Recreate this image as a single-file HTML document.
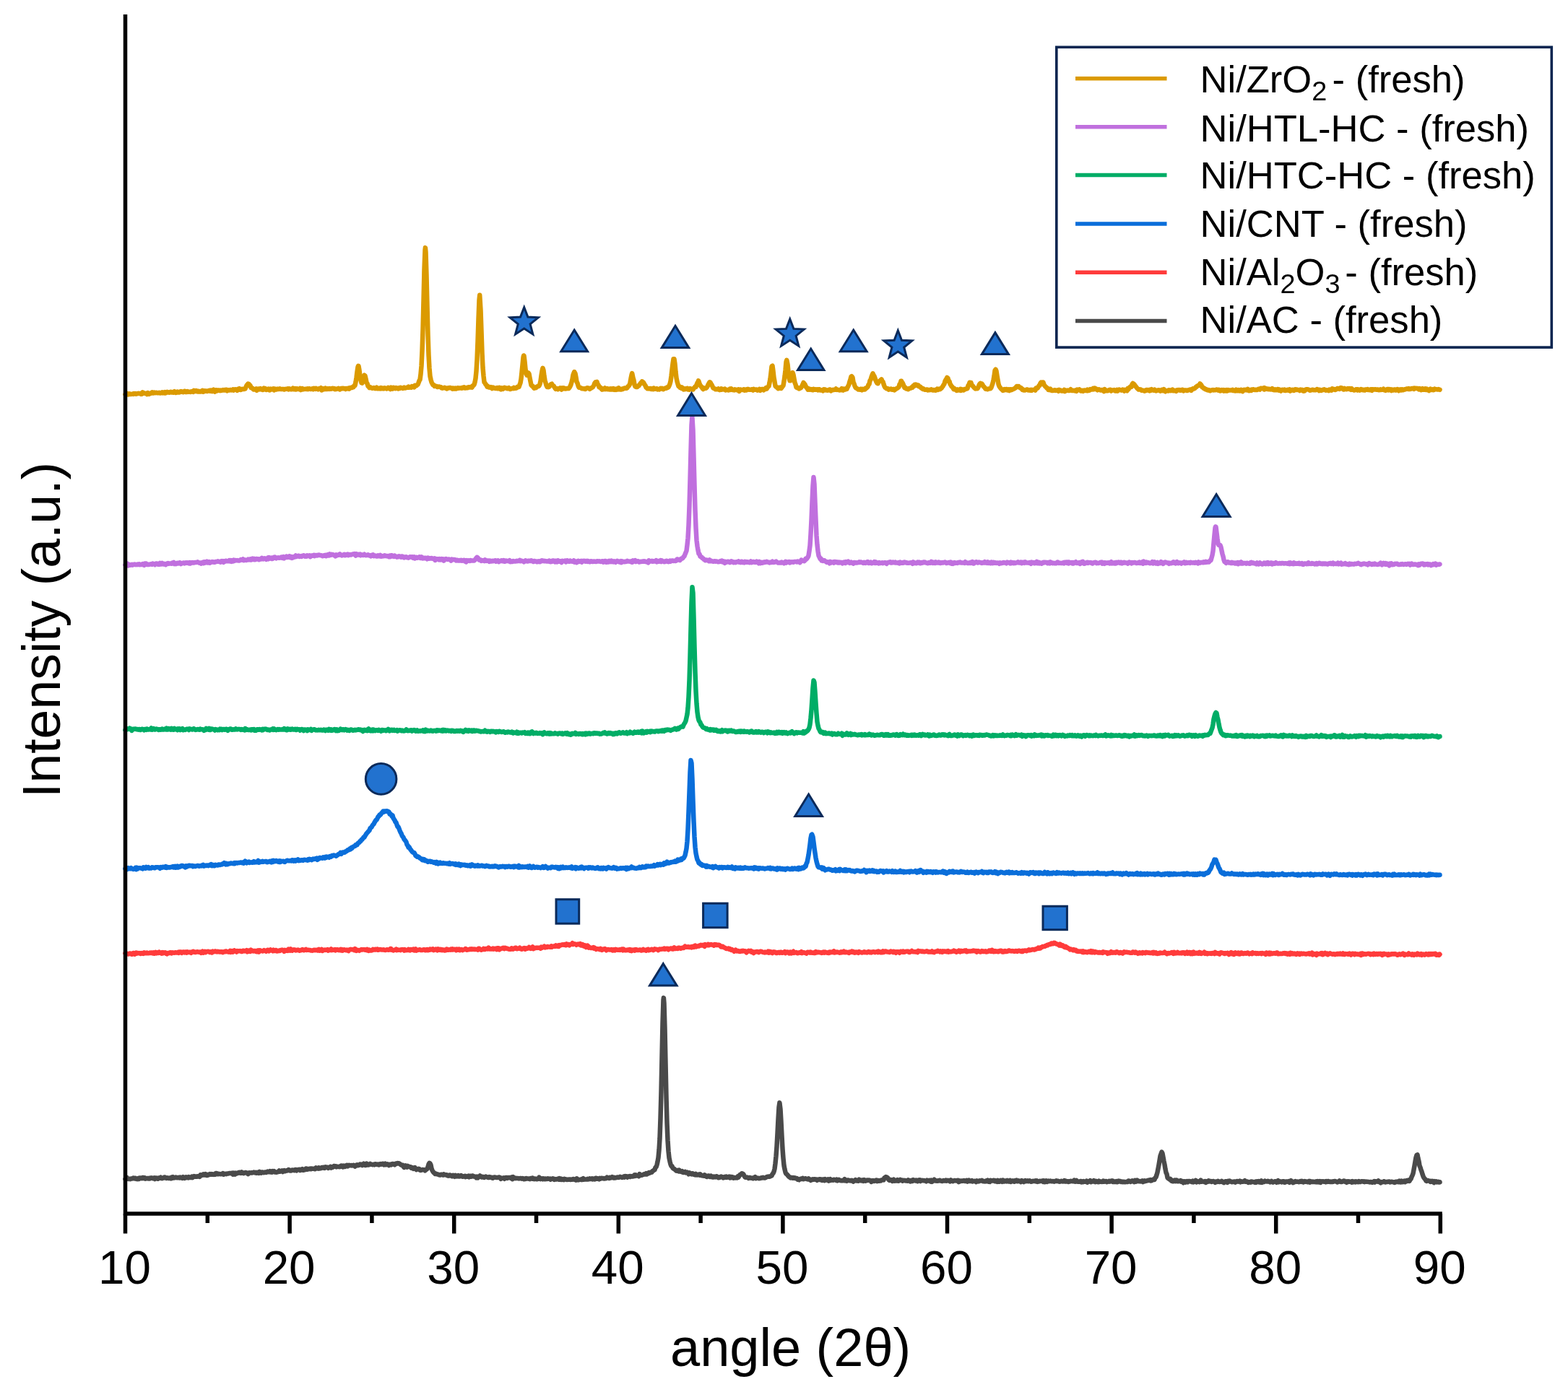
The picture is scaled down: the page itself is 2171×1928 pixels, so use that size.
<!DOCTYPE html>
<html><head><meta charset="utf-8"><title>XRD patterns</title>
<style>html,body{margin:0;padding:0;background:#fff;}svg{display:block;}</style>
</head><body>
<svg width="2171" height="1928" viewBox="0 0 2171 1928">
<rect width="2171" height="1928" fill="#ffffff"/>
<g fill="none" stroke-width="6.5" stroke-linejoin="round" stroke-linecap="round">
<path d="M173.5 546.1L174.5 546.4 175.5 546.1 176.5 545.1 177.5 546.4 178.5 546.1 179.5 545.4 180.5 546.1 181.5 545.9 182.5 545.8 183.5 545.6 184.5 545.9 185.5 545.1 186.5 545.4 187.5 545.1 188.5 545.8 189.5 545.4 190.5 545.1 191.5 544.8 192.5 545.1 193.5 545.2 194.5 545.0 195.5 545.9 196.5 545.7 197.5 543.4 198.5 543.9 199.5 544.8 200.5 544.7 201.5 545.0 202.5 545.0 203.5 546.1 204.5 544.1 205.5 544.5 206.5 545.9 207.5 545.0 208.5 545.0 209.5 544.2 210.5 543.5 211.5 544.6 212.5 544.5 213.5 543.6 214.5 543.9 215.5 544.3 216.5 543.7 217.5 544.2 218.5 544.2 219.5 544.2 220.5 543.8 221.5 544.4 222.5 544.5 223.5 544.2 224.5 543.4 225.5 544.3 226.5 543.5 227.5 544.3 228.5 543.1 229.5 544.3 230.5 543.7 231.5 542.9 232.5 543.4 233.5 543.6 234.5 543.7 235.5 542.9 236.5 542.8 237.5 543.5 238.5 543.1 239.5 543.5 240.5 543.7 241.5 542.2 242.5 543.3 243.5 543.9 244.5 542.9 245.5 542.6 246.5 543.5 247.5 543.1 248.5 543.5 249.5 542.7 250.5 542.0 251.5 542.8 252.5 542.5 253.5 543.2 254.5 542.8 255.5 541.7 256.5 541.9 257.5 543.1 258.5 543.0 259.5 542.1 260.5 542.5 261.5 542.7 262.5 542.7 263.5 542.9 264.5 542.5 265.5 542.2 266.5 542.1 267.5 542.8 268.5 540.8 269.5 542.0 270.5 542.1 271.5 541.2 272.5 542.2 273.5 541.6 274.5 542.5 275.5 541.8 276.5 542.3 277.5 542.6 278.5 542.0 279.5 541.2 280.5 540.8 281.5 542.7 282.5 541.6 283.5 541.2 284.5 541.7 285.5 541.4 286.5 542.0 287.5 541.5 288.5 541.4 289.5 540.9 290.5 541.6 291.5 540.7 292.5 541.7 293.5 542.1 294.5 540.3 295.5 539.7 296.5 541.5 297.5 542.6 298.5 540.4 299.5 540.2 300.5 541.3 301.5 540.4 302.5 540.6 303.5 540.6 304.5 541.1 305.5 540.5 306.5 540.9 307.5 540.6 308.5 540.1 309.5 540.4 310.5 540.0 311.5 540.5 312.5 539.8 313.5 539.8 314.5 541.3 315.5 540.3 316.5 540.3 317.5 540.6 318.5 540.0 319.5 540.1 320.5 540.4 321.5 540.3 322.5 539.4 323.5 540.5 324.5 539.6 325.5 539.3 326.5 539.4 327.5 539.6 328.5 540.8 329.5 539.0 330.5 539.8 331.5 538.3 332.5 539.5 333.5 540.0 334.5 539.2 335.5 538.8 336.5 539.1 337.5 539.1 338.5 538.6 339.5 538.5 340.5 536.1 341.5 534.0 342.5 532.6 343.5 531.5 343.8 531.6 344.5 531.8 345.5 533.3 346.5 534.0 347.5 537.0 348.5 537.2 349.5 537.5 350.5 539.0 351.5 539.6 352.5 539.3 353.5 539.1 354.5 538.5 355.5 540.8 356.5 539.7 357.5 538.5 358.5 538.7 359.5 539.3 360.5 538.3 361.5 539.3 362.5 538.9 363.5 540.0 364.5 539.8 365.5 537.6 366.5 539.2 367.5 538.3 368.5 539.9 369.5 539.3 370.5 539.5 371.5 538.6 372.5 540.3 373.5 540.4 374.5 538.6 375.5 539.4 376.5 538.8 377.5 539.2 378.5 538.4 379.5 540.3 380.5 538.6 381.5 539.0 382.5 539.5 383.5 538.8 384.5 539.0 385.5 538.8 386.5 539.0 387.5 538.4 388.5 538.9 389.5 539.0 390.5 538.9 391.5 539.1 392.5 538.9 393.5 539.5 394.5 538.9 395.5 539.0 396.5 538.7 397.5 538.7 398.5 538.3 399.5 539.4 400.5 538.3 401.5 538.6 402.5 539.2 403.5 539.3 404.5 538.8 405.5 537.8 406.5 539.2 407.5 539.1 408.5 538.1 409.5 539.4 410.5 538.5 411.5 538.3 412.5 539.0 413.5 538.8 414.5 539.1 415.5 538.0 416.5 540.0 417.5 538.5 418.5 538.0 419.5 539.3 420.5 538.7 421.5 539.1 422.5 538.7 423.5 538.8 424.5 539.0 425.5 538.4 426.5 539.2 427.5 538.5 428.5 538.3 429.5 538.9 430.5 539.1 431.5 538.7 432.5 538.3 433.5 539.2 434.5 537.7 435.5 538.1 436.5 538.8 437.5 537.9 438.5 538.8 439.5 538.7 440.5 539.3 441.5 538.2 442.5 538.3 443.5 538.9 444.5 537.2 445.5 540.5 446.5 538.2 447.5 538.2 448.5 539.2 449.5 538.6 450.5 537.6 451.5 539.0 452.5 539.1 453.5 538.3 454.5 538.4 455.5 538.9 456.5 538.0 457.5 538.8 458.5 538.7 459.5 538.1 460.5 537.7 461.5 538.4 462.5 538.0 463.5 539.1 464.5 538.5 465.5 538.9 466.5 538.5 467.5 538.6 468.5 537.9 469.5 538.8 470.5 539.4 471.5 538.1 472.5 537.9 473.5 538.2 474.5 538.0 475.5 537.8 476.5 538.3 477.5 538.0 478.5 539.0 479.5 538.0 480.5 538.2 481.5 538.5 482.5 537.7 483.5 538.6 484.5 537.2 485.5 537.0 486.5 537.1 487.5 537.0 488.5 535.8 489.5 536.1 490.5 534.1 491.5 534.0 492.5 529.3 493.5 523.0 494.5 514.9 495.5 508.3 496.1 506.9 496.5 507.0 497.5 512.9 498.5 520.9 499.5 526.6 500.5 530.4 501.5 530.6 502.5 527.5 503.5 524.0 504.5 519.6 505.0 520.4 505.5 520.6 506.5 524.7 507.5 529.9 508.5 531.2 509.5 534.9 510.5 535.3 511.5 537.0 512.5 536.2 513.5 536.9 514.5 537.4 515.5 537.8 516.5 537.6 517.5 537.1 518.5 537.3 519.5 538.2 520.5 537.7 521.5 536.7 522.5 538.3 523.5 538.0 524.5 538.3 525.5 537.6 526.5 538.3 527.5 537.2 528.5 538.1 529.5 537.5 530.5 538.2 531.5 538.4 532.5 537.3 533.5 537.7 534.5 537.8 535.5 538.5 536.5 538.2 537.5 537.0 538.5 538.0 539.5 538.2 540.5 539.0 541.5 536.7 542.5 537.3 543.5 538.5 544.5 536.8 545.5 536.9 546.5 537.9 547.5 538.2 548.5 537.1 549.5 537.8 550.5 537.6 551.5 538.4 552.5 537.4 553.5 538.0 554.5 536.8 555.5 537.2 556.5 537.2 557.5 537.9 558.5 537.5 559.5 536.7 560.5 537.5 561.5 537.5 562.5 536.9 563.5 536.7 564.5 536.7 565.5 535.7 566.5 536.7 567.5 536.6 568.5 535.8 569.5 536.6 570.5 535.1 571.5 535.4 572.5 535.2 573.5 536.3 574.5 533.8 575.5 534.6 576.5 534.2 577.5 533.2 578.5 532.7 579.5 530.1 580.5 527.3 581.5 525.7 582.5 518.2 583.5 507.0 584.5 486.2 585.5 456.5 586.5 415.9 587.5 372.9 588.5 346.3 588.9 343.1 589.5 349.1 590.5 381.3 591.5 423.8 592.5 463.3 593.5 492.0 594.5 510.0 595.5 521.2 596.5 525.8 597.5 529.4 598.5 531.3 599.5 533.1 600.5 532.9 601.5 534.9 602.5 534.6 603.5 534.8 604.5 534.9 605.5 536.0 606.5 535.9 607.5 535.4 608.5 535.6 609.5 536.1 610.5 536.2 611.5 537.4 612.5 537.7 613.5 537.4 614.5 537.2 615.5 536.8 616.5 537.2 617.5 537.7 618.5 538.5 619.5 537.9 620.5 537.2 621.5 537.4 622.5 537.1 623.5 537.0 624.5 537.4 625.5 537.6 626.5 538.6 627.5 537.6 628.5 538.4 629.5 538.6 630.5 537.6 631.5 538.5 632.5 538.0 633.5 537.3 634.5 537.7 635.5 537.5 636.5 537.4 637.5 537.4 638.5 537.6 639.5 537.7 640.5 536.9 641.5 537.3 642.5 536.4 643.5 537.4 644.5 537.5 645.5 537.1 646.5 537.1 647.5 537.2 648.5 536.2 649.5 536.3 650.5 536.5 651.5 536.5 652.5 535.7 653.5 536.6 654.5 534.3 655.5 534.1 656.5 532.8 657.5 529.5 658.5 524.1 659.5 514.1 660.5 497.9 661.5 472.8 662.5 441.5 663.5 415.7 664.2 408.8 665.5 429.9 666.5 458.8 667.5 488.7 668.5 509.1 669.5 520.6 670.5 529.3 671.5 530.5 672.5 532.4 673.5 533.4 674.5 535.6 675.5 534.9 676.5 536.3 677.5 536.6 678.5 536.7 679.5 536.0 680.5 536.6 681.5 538.1 682.5 536.5 683.5 536.9 684.5 537.4 685.5 538.0 686.5 537.8 687.5 538.1 688.5 537.1 689.5 538.3 690.5 538.2 691.5 536.9 692.5 538.8 693.5 539.3 694.5 537.5 695.5 538.0 696.5 538.8 697.5 537.1 698.5 536.8 699.5 537.2 700.5 537.6 701.5 537.6 702.5 538.3 703.5 538.1 704.5 537.2 705.5 538.3 706.5 539.0 707.5 538.6 708.5 538.4 709.5 537.7 710.5 538.2 711.5 537.0 712.5 537.9 713.5 537.2 714.5 537.7 715.5 537.1 716.5 535.8 717.5 536.0 718.5 535.9 719.5 533.0 720.5 530.4 721.5 524.8 722.5 515.4 723.5 505.2 724.5 495.1 725.1 492.5 725.5 492.9 726.5 500.8 727.5 511.0 728.5 517.0 729.5 519.7 730.5 518.0 731.5 516.5 732.5 517.9 733.5 523.4 734.5 528.4 735.5 533.3 736.5 534.6 737.5 534.5 738.5 536.5 739.5 537.7 740.5 537.1 741.5 537.3 742.5 536.8 743.5 535.4 744.5 535.2 745.5 535.0 746.5 534.3 747.5 532.0 748.5 527.6 749.5 520.3 750.5 514.0 751.5 509.8 752.5 513.0 753.5 521.1 754.5 526.8 755.5 530.3 756.5 533.9 757.5 535.9 758.5 534.5 759.5 536.1 760.5 535.6 761.5 533.9 762.5 532.4 763.5 531.9 764.0 531.7 764.5 533.0 765.5 533.8 766.5 534.3 767.5 536.0 768.5 537.7 769.5 538.9 770.5 538.2 771.5 538.3 772.5 539.3 773.5 538.2 774.5 538.1 775.5 537.4 776.5 538.0 777.5 539.6 778.5 537.4 779.5 538.3 780.5 537.4 781.5 538.2 782.5 538.6 783.5 537.9 784.5 538.3 785.5 538.1 786.5 537.7 787.5 538.1 788.5 536.8 789.5 534.9 790.5 532.6 791.5 529.1 792.5 525.2 793.5 519.3 794.5 516.7 795.2 515.1 796.5 517.4 797.5 522.6 798.5 528.9 799.5 530.7 800.5 534.2 801.5 536.6 802.5 536.3 803.5 537.1 804.5 537.5 805.5 538.3 806.5 538.1 807.5 538.4 808.5 538.6 809.5 538.3 810.5 539.0 811.5 538.0 812.5 537.5 813.5 537.3 814.5 537.4 815.5 538.0 816.5 538.9 817.5 538.2 818.5 537.5 819.5 536.8 820.5 536.3 821.5 535.1 822.5 533.2 823.5 530.5 824.5 529.3 825.3 529.6 826.5 528.9 827.5 532.2 828.5 533.1 829.5 536.1 830.5 536.7 831.5 536.6 832.5 538.2 833.5 539.5 834.5 538.6 835.5 539.3 836.5 538.7 837.5 537.5 838.5 539.1 839.5 538.6 840.5 538.0 841.5 539.3 842.5 539.1 843.5 538.6 844.5 539.4 845.5 538.4 846.5 539.3 847.5 538.4 848.5 539.3 849.5 538.3 850.5 539.8 851.5 539.1 852.5 539.8 853.5 538.4 854.5 538.6 855.5 539.4 856.5 537.3 857.5 538.2 858.5 539.5 859.5 539.1 860.5 539.4 861.5 538.6 862.5 539.0 863.5 538.2 864.5 537.7 865.5 537.4 866.5 537.9 867.5 537.7 868.5 537.3 869.5 535.0 870.5 534.7 871.5 533.2 872.5 529.9 873.5 524.2 874.5 519.3 875.2 517.1 876.5 523.5 877.5 526.8 878.5 532.8 879.5 535.4 880.5 535.9 881.5 535.8 882.5 536.0 883.5 534.5 884.5 534.3 885.5 532.7 886.5 531.4 887.5 530.1 888.5 529.7 889.0 528.3 889.5 529.3 890.5 529.2 891.5 530.8 892.5 532.7 893.5 534.0 894.5 536.5 895.5 537.4 896.5 538.3 897.5 537.9 898.5 538.4 899.5 538.1 900.5 537.9 901.5 538.9 902.5 538.9 903.5 538.1 904.5 539.1 905.5 537.8 906.5 538.7 907.5 538.5 908.5 538.5 909.5 538.2 910.5 539.4 911.5 539.2 912.5 539.5 913.5 538.8 914.5 537.9 915.5 538.4 916.5 537.9 917.5 538.8 918.5 539.2 919.5 538.5 920.5 537.8 921.5 537.7 922.5 537.8 923.5 536.5 924.5 536.9 925.5 536.2 926.5 534.3 927.5 531.8 928.5 527.9 929.5 520.7 930.5 512.0 931.5 503.8 932.5 497.3 932.9 497.5 933.5 497.3 934.5 504.0 935.5 515.0 936.5 523.3 937.5 528.4 938.5 531.8 939.5 535.0 940.5 535.2 941.5 536.8 942.5 536.2 943.5 537.7 944.5 536.8 945.5 538.1 946.5 539.3 947.5 538.4 948.5 539.1 949.5 538.3 950.5 538.2 951.5 537.9 952.5 539.4 953.5 538.8 954.5 539.8 955.5 538.1 956.5 538.6 957.5 538.8 958.5 539.5 959.5 539.5 960.5 537.8 961.5 536.9 962.5 535.6 963.5 535.9 964.5 533.0 965.5 530.4 966.5 529.2 967.0 527.4 967.5 528.2 968.5 531.4 969.5 533.3 970.5 535.1 971.5 535.9 972.5 537.8 973.5 539.0 974.5 537.4 975.5 538.2 976.5 537.7 977.5 537.7 978.5 536.7 979.5 535.1 980.5 532.8 981.5 531.2 982.5 529.3 983.0 529.4 983.5 529.7 984.5 531.7 985.5 533.1 986.5 535.2 987.5 537.6 988.5 537.8 989.5 538.3 990.5 539.3 991.5 539.1 992.5 539.2 993.5 539.3 994.5 538.5 995.5 539.6 996.5 540.2 997.5 539.7 998.5 538.5 999.5 539.6 1000.5 538.9 1001.5 539.4 1002.5 539.6 1003.5 538.8 1004.5 540.4 1005.5 539.5 1006.5 540.1 1007.5 540.0 1008.5 540.4 1009.5 540.3 1010.5 538.7 1011.5 539.7 1012.5 538.4 1013.5 539.4 1014.5 540.1 1015.5 540.2 1016.5 540.4 1017.5 539.4 1018.5 539.9 1019.5 539.7 1020.5 540.4 1021.5 540.6 1022.5 539.5 1023.5 542.0 1024.5 539.7 1025.5 539.5 1026.5 540.1 1027.5 540.1 1028.5 540.0 1029.5 539.3 1030.5 540.6 1031.5 539.7 1032.5 540.6 1033.5 540.5 1034.5 538.9 1035.5 539.1 1036.5 539.1 1037.5 539.8 1038.5 539.7 1039.5 539.8 1040.5 539.2 1041.5 539.9 1042.5 540.5 1043.5 538.8 1044.5 539.5 1045.5 539.8 1046.5 539.5 1047.5 539.5 1048.5 540.6 1049.5 540.3 1050.5 540.0 1051.5 539.0 1052.5 540.8 1053.5 539.6 1054.5 539.0 1055.5 539.0 1056.5 538.9 1057.5 540.3 1058.5 539.0 1059.5 538.8 1060.5 537.2 1061.5 538.6 1062.5 536.9 1063.5 535.8 1064.5 534.8 1065.5 530.0 1066.5 524.6 1067.5 516.5 1068.5 507.5 1069.1 506.9 1069.5 506.7 1070.5 514.0 1071.5 523.0 1072.5 528.4 1073.5 534.6 1074.5 535.6 1075.5 536.2 1076.5 537.3 1077.5 538.1 1078.5 536.9 1079.5 537.7 1080.5 536.7 1081.5 537.9 1082.5 536.7 1083.5 535.2 1084.5 533.9 1085.5 528.1 1086.5 521.3 1087.5 512.5 1088.5 501.3 1089.3 498.8 1090.5 504.7 1091.5 514.3 1092.5 522.8 1093.5 527.3 1094.5 527.3 1095.5 524.0 1096.5 519.5 1097.5 516.1 1098.5 519.0 1099.5 524.5 1100.5 530.1 1101.5 532.5 1102.5 536.4 1103.5 537.1 1104.5 536.8 1105.5 538.0 1106.5 538.4 1107.5 537.9 1108.5 537.4 1109.5 536.4 1110.5 534.7 1111.5 532.4 1112.5 529.9 1113.0 530.5 1113.5 531.4 1114.5 532.3 1115.5 534.9 1116.5 536.7 1117.5 537.6 1118.5 539.5 1119.5 538.3 1120.5 539.7 1121.5 539.1 1122.5 539.0 1123.5 539.9 1124.5 539.3 1125.5 540.2 1126.5 539.0 1127.5 539.8 1128.5 539.3 1129.5 539.7 1130.5 539.6 1131.5 539.2 1132.5 540.3 1133.5 539.2 1134.5 539.3 1135.5 540.5 1136.5 540.5 1137.5 540.4 1138.5 540.2 1139.5 541.3 1140.5 539.3 1141.5 539.6 1142.5 539.4 1143.5 540.5 1144.5 540.2 1145.5 540.7 1146.5 540.6 1147.5 539.9 1148.5 539.5 1149.5 539.4 1150.5 541.3 1151.5 540.6 1152.5 540.4 1153.5 539.8 1154.5 539.9 1155.5 539.8 1156.5 539.8 1157.5 538.5 1158.5 539.9 1159.5 539.7 1160.5 540.1 1161.5 540.0 1162.5 540.4 1163.5 539.8 1164.5 540.2 1165.5 538.2 1166.5 539.0 1167.5 540.6 1168.5 538.7 1169.5 539.1 1170.5 539.5 1171.5 538.2 1172.5 538.7 1173.5 536.4 1174.5 534.5 1175.5 532.2 1176.5 528.4 1177.5 525.2 1178.5 521.7 1179.2 521.2 1180.5 523.0 1181.5 529.2 1182.5 531.5 1183.5 534.5 1184.5 536.8 1185.5 537.6 1186.5 538.0 1187.5 538.8 1188.5 539.5 1189.5 539.4 1190.5 539.7 1191.5 538.8 1192.5 538.7 1193.5 540.3 1194.5 538.9 1195.5 539.2 1196.5 539.3 1197.5 539.5 1198.5 537.5 1199.5 537.6 1200.5 536.8 1201.5 535.8 1202.5 532.9 1203.5 532.0 1204.5 527.3 1205.5 525.8 1206.5 522.4 1207.5 519.5 1208.5 517.3 1209.5 519.5 1210.5 521.0 1211.5 523.9 1212.5 526.9 1213.5 529.1 1214.5 530.8 1215.5 531.2 1216.5 528.7 1217.5 528.2 1218.5 527.5 1219.5 526.2 1220.0 526.3 1220.5 525.4 1221.5 528.2 1222.5 528.8 1223.5 532.1 1224.5 534.9 1225.5 536.8 1226.5 537.2 1227.5 538.3 1228.5 538.0 1229.5 538.5 1230.5 539.7 1231.5 539.2 1232.5 539.2 1233.5 538.5 1234.5 539.5 1235.5 539.8 1236.5 539.0 1237.5 539.1 1238.5 540.3 1239.5 539.4 1240.5 538.9 1241.5 538.0 1242.5 537.7 1243.5 536.8 1244.5 536.0 1245.5 532.4 1246.5 531.2 1247.5 527.7 1248.0 527.8 1248.5 528.8 1249.5 530.0 1250.5 532.2 1251.5 535.0 1252.5 537.1 1253.5 536.8 1254.5 538.3 1255.5 538.6 1256.5 538.5 1257.5 539.1 1258.5 538.1 1259.5 537.9 1260.5 537.7 1261.5 537.6 1262.5 536.3 1263.5 536.6 1264.5 534.3 1265.5 534.8 1266.5 532.8 1267.5 532.6 1268.5 532.7 1269.5 533.9 1270.5 533.6 1271.5 533.5 1272.5 535.4 1273.5 535.4 1274.5 535.9 1275.5 537.4 1276.5 537.8 1277.5 538.9 1278.5 538.4 1279.5 539.3 1280.5 539.7 1281.5 539.7 1282.5 539.7 1283.5 539.4 1284.5 540.4 1285.5 540.0 1286.5 540.3 1287.5 539.8 1288.5 540.0 1289.5 539.4 1290.5 540.1 1291.5 540.5 1292.5 540.0 1293.5 540.5 1294.5 540.1 1295.5 540.7 1296.5 539.7 1297.5 538.7 1298.5 539.9 1299.5 539.3 1300.5 538.6 1301.5 539.2 1302.5 538.4 1303.5 537.7 1304.5 536.2 1305.5 535.0 1306.5 533.1 1307.5 531.8 1308.5 527.9 1309.5 526.0 1310.5 524.7 1311.3 523.0 1312.5 524.0 1313.5 528.2 1314.5 528.2 1315.5 532.0 1316.5 533.3 1317.5 535.1 1318.5 535.7 1319.5 537.3 1320.5 539.0 1321.5 538.2 1322.5 539.7 1323.5 539.7 1324.5 540.9 1325.5 539.5 1326.5 540.6 1327.5 540.5 1328.5 539.8 1329.5 539.0 1330.5 540.9 1331.5 539.1 1332.5 539.6 1333.5 540.4 1334.5 540.4 1335.5 539.0 1336.5 539.2 1337.5 538.5 1338.5 538.5 1339.5 538.1 1340.5 533.9 1341.5 533.7 1342.5 529.7 1343.5 530.5 1344.5 530.2 1345.5 533.5 1346.5 534.2 1347.5 535.3 1348.5 536.7 1349.5 537.5 1350.5 538.4 1351.5 538.2 1352.5 538.3 1353.5 538.1 1354.5 536.4 1355.5 533.7 1356.5 531.7 1357.5 530.9 1358.3 531.6 1359.5 531.6 1360.5 533.0 1361.5 535.2 1362.5 535.7 1363.5 537.0 1364.5 538.7 1365.5 538.7 1366.5 538.8 1367.5 539.3 1368.5 538.7 1369.5 538.4 1370.5 538.2 1371.5 538.2 1372.5 536.7 1373.5 533.8 1374.5 530.9 1375.5 526.4 1376.5 520.9 1377.5 513.3 1378.5 511.7 1379.5 513.9 1380.5 520.4 1381.5 526.4 1382.5 532.1 1383.5 535.0 1384.5 536.5 1385.5 537.8 1386.5 539.0 1387.5 539.4 1388.5 540.9 1389.5 540.6 1390.5 539.1 1391.5 540.1 1392.5 539.2 1393.5 539.0 1394.5 540.5 1395.5 540.4 1396.5 539.5 1397.5 541.0 1398.5 539.4 1399.5 539.2 1400.5 540.1 1401.5 539.6 1402.5 539.0 1403.5 538.7 1404.5 538.3 1405.5 537.5 1406.5 536.8 1407.5 535.1 1408.5 534.9 1409.5 535.9 1410.5 535.2 1411.5 536.3 1412.5 537.4 1413.5 537.1 1414.5 538.1 1415.5 539.8 1416.5 539.4 1417.5 540.5 1418.5 540.6 1419.5 540.3 1420.5 540.0 1421.5 539.6 1422.5 539.5 1423.5 540.5 1424.5 540.5 1425.5 540.1 1426.5 540.7 1427.5 539.8 1428.5 540.8 1429.5 540.0 1430.5 539.9 1431.5 539.7 1432.5 539.4 1433.5 540.5 1434.5 537.5 1435.5 537.9 1436.5 537.6 1437.5 536.1 1438.5 534.1 1439.5 533.9 1440.5 530.9 1441.5 529.7 1442.5 530.4 1443.5 529.4 1444.5 529.7 1445.5 532.9 1446.5 534.2 1447.5 535.6 1448.5 536.1 1449.5 537.6 1450.5 537.7 1451.5 540.0 1452.5 539.9 1453.5 540.2 1454.5 538.8 1455.5 540.6 1456.5 541.1 1457.5 541.1 1458.5 540.9 1459.5 540.5 1460.5 540.3 1461.5 540.9 1462.5 540.8 1463.5 540.7 1464.5 540.4 1465.5 541.7 1466.5 540.0 1467.5 540.7 1468.5 540.4 1469.5 541.3 1470.5 541.6 1471.5 541.5 1472.5 541.2 1473.5 539.9 1474.5 542.0 1475.5 541.1 1476.5 540.7 1477.5 540.8 1478.5 540.6 1479.5 541.1 1480.5 541.0 1481.5 540.6 1482.5 539.3 1483.5 540.8 1484.5 541.1 1485.5 541.1 1486.5 540.7 1487.5 541.1 1488.5 541.4 1489.5 540.5 1490.5 541.7 1491.5 539.6 1492.5 540.1 1493.5 540.3 1494.5 539.3 1495.5 540.2 1496.5 541.5 1497.5 541.5 1498.5 540.8 1499.5 541.8 1500.5 540.9 1501.5 540.4 1502.5 540.9 1503.5 540.6 1504.5 541.1 1505.5 539.7 1506.5 541.1 1507.5 540.1 1508.5 540.7 1509.5 539.0 1510.5 539.4 1511.5 539.3 1512.5 539.4 1513.5 537.8 1514.5 539.2 1515.5 538.3 1516.0 537.7 1516.5 538.8 1517.5 538.3 1518.5 539.2 1519.5 540.3 1520.5 539.7 1521.5 539.3 1522.5 539.7 1523.5 540.5 1524.5 540.5 1525.5 540.0 1526.5 540.2 1527.5 541.0 1528.5 542.1 1529.5 539.1 1530.5 541.2 1531.5 540.6 1532.5 541.2 1533.5 541.3 1534.5 540.8 1535.5 540.2 1536.5 539.9 1537.5 539.7 1538.5 541.5 1539.5 540.7 1540.5 540.5 1541.5 540.6 1542.5 540.0 1543.5 541.0 1544.5 541.6 1545.5 541.4 1546.5 539.8 1547.5 541.5 1548.5 540.3 1549.5 539.5 1550.5 539.9 1551.5 540.1 1552.5 540.6 1553.5 540.0 1554.5 539.6 1555.5 540.3 1556.5 541.6 1557.5 539.9 1558.5 540.4 1559.5 540.0 1560.5 541.2 1561.5 538.0 1562.5 539.1 1563.5 536.8 1564.5 536.1 1565.5 535.2 1566.5 535.8 1567.5 532.3 1568.5 531.0 1569.0 532.8 1569.5 531.6 1570.5 532.6 1571.5 533.9 1572.5 535.3 1573.5 536.4 1574.5 537.7 1575.5 538.7 1576.5 539.6 1577.5 539.3 1578.5 539.5 1579.5 539.5 1580.5 540.7 1581.5 540.4 1582.5 540.8 1583.5 540.9 1584.5 541.6 1585.5 540.8 1586.5 541.1 1587.5 540.0 1588.5 540.1 1589.5 540.6 1590.5 540.0 1591.5 541.2 1592.5 540.0 1593.5 540.8 1594.5 539.3 1595.5 540.2 1596.5 540.6 1597.5 540.7 1598.5 539.8 1599.5 540.9 1600.5 541.4 1601.5 541.2 1602.5 540.5 1603.5 540.5 1604.5 540.2 1605.5 541.2 1606.5 541.7 1607.5 540.6 1608.5 539.9 1609.5 541.0 1610.5 541.3 1611.5 539.2 1612.5 541.0 1613.5 542.2 1614.5 541.4 1615.5 541.2 1616.5 541.1 1617.5 541.5 1618.5 540.3 1619.5 540.4 1620.5 541.1 1621.5 540.4 1622.5 541.0 1623.5 539.7 1624.5 541.3 1625.5 541.3 1626.5 540.9 1627.5 540.9 1628.5 541.8 1629.5 540.2 1630.5 540.2 1631.5 540.1 1632.5 540.5 1633.5 540.1 1634.5 540.8 1635.5 540.3 1636.5 539.8 1637.5 539.8 1638.5 541.4 1639.5 540.6 1640.5 540.5 1641.5 540.6 1642.5 540.5 1643.5 541.0 1644.5 540.8 1645.5 540.1 1646.5 539.9 1647.5 539.6 1648.5 539.4 1649.5 540.9 1650.5 539.2 1651.5 538.3 1652.5 538.6 1653.5 538.0 1654.5 537.9 1655.5 536.3 1656.5 536.1 1657.5 534.8 1658.5 534.2 1659.5 533.9 1660.5 533.8 1660.9 532.8 1661.5 531.4 1662.5 532.5 1663.5 533.8 1664.5 536.1 1665.5 536.4 1666.5 537.7 1667.5 537.7 1668.5 538.9 1669.5 539.5 1670.5 539.2 1671.5 540.2 1672.5 540.6 1673.5 540.0 1674.5 540.8 1675.5 541.3 1676.5 540.4 1677.5 540.4 1678.5 540.2 1679.5 540.1 1680.5 540.5 1681.5 540.2 1682.5 540.3 1683.5 540.0 1684.5 539.6 1685.5 540.0 1686.5 540.7 1687.5 539.8 1688.5 540.2 1689.5 541.5 1690.5 541.2 1691.5 540.1 1692.5 540.9 1693.5 540.2 1694.5 541.5 1695.5 540.2 1696.5 540.6 1697.5 541.4 1698.5 540.1 1699.5 541.3 1700.5 540.1 1701.5 540.7 1702.5 540.4 1703.5 540.5 1704.5 540.6 1705.5 540.5 1706.5 539.9 1707.5 541.1 1708.5 541.0 1709.5 541.3 1710.5 541.4 1711.5 539.7 1712.5 541.3 1713.5 541.3 1714.5 540.2 1715.5 541.1 1716.5 541.4 1717.5 540.2 1718.5 539.7 1719.5 540.3 1720.5 542.1 1721.5 540.6 1722.5 539.7 1723.5 540.3 1724.5 539.8 1725.5 540.2 1726.5 540.5 1727.5 538.8 1728.5 540.6 1729.5 541.2 1730.5 540.2 1731.5 540.1 1732.5 540.9 1733.5 539.4 1734.5 539.4 1735.5 539.3 1736.5 539.9 1737.5 540.1 1738.5 539.7 1739.5 540.0 1740.5 540.0 1741.5 539.6 1742.5 538.7 1743.5 538.8 1744.5 539.5 1745.5 537.9 1746.5 538.2 1747.5 537.9 1748.5 538.0 1749.5 537.4 1750.0 537.2 1750.5 539.5 1751.5 538.6 1752.5 537.8 1753.5 538.3 1754.5 538.9 1755.5 538.5 1756.5 539.3 1757.5 538.7 1758.5 539.1 1759.5 539.4 1760.5 539.3 1761.5 538.2 1762.5 539.8 1763.5 540.1 1764.5 540.3 1765.5 539.4 1766.5 540.3 1767.5 540.3 1768.5 539.1 1769.5 538.9 1770.5 540.5 1771.5 539.6 1772.5 540.8 1773.5 541.5 1774.5 539.9 1775.5 539.8 1776.5 540.2 1777.5 540.6 1778.5 539.6 1779.5 541.0 1780.5 540.8 1781.5 540.6 1782.5 539.9 1783.5 540.8 1784.5 540.8 1785.5 539.5 1786.5 541.5 1787.5 540.1 1788.5 540.5 1789.5 539.9 1790.5 540.5 1791.5 540.9 1792.5 539.7 1793.5 539.2 1794.5 540.0 1795.5 539.4 1796.5 539.8 1797.5 540.1 1798.5 540.2 1799.5 541.0 1800.5 539.6 1801.5 540.4 1802.5 539.9 1803.5 541.0 1804.5 541.7 1805.5 540.4 1806.5 541.2 1807.5 539.9 1808.5 539.2 1809.5 539.4 1810.5 539.2 1811.5 539.6 1812.5 540.0 1813.5 540.8 1814.5 540.6 1815.5 540.4 1816.5 539.9 1817.5 539.7 1818.5 540.2 1819.5 540.2 1820.5 540.3 1821.5 540.3 1822.5 540.0 1823.5 539.0 1824.5 539.4 1825.5 539.6 1826.5 541.1 1827.5 539.8 1828.5 540.5 1829.5 540.9 1830.5 540.3 1831.5 539.8 1832.5 539.9 1833.5 539.4 1834.5 540.2 1835.5 540.7 1836.5 540.3 1837.5 540.4 1838.5 540.4 1839.5 541.1 1840.5 539.5 1841.5 540.0 1842.5 540.3 1843.5 540.6 1844.5 538.3 1845.5 539.4 1846.5 539.5 1847.5 539.0 1848.5 540.0 1849.5 539.5 1850.5 539.0 1851.5 538.1 1852.5 538.1 1853.5 538.2 1854.5 538.9 1855.5 537.7 1856.5 537.0 1857.5 537.3 1858.5 537.7 1859.5 539.0 1860.5 539.5 1861.5 537.8 1862.5 538.7 1863.5 539.1 1864.5 539.2 1865.5 538.5 1866.5 538.0 1867.5 538.6 1868.5 538.0 1869.5 539.3 1870.5 539.8 1871.5 538.3 1872.5 539.5 1873.5 539.7 1874.5 540.4 1875.5 540.5 1876.5 540.2 1877.5 539.3 1878.5 539.5 1879.5 540.5 1880.5 539.4 1881.5 539.8 1882.5 540.7 1883.5 539.9 1884.5 539.0 1885.5 539.6 1886.5 540.2 1887.5 539.7 1888.5 540.5 1889.5 540.6 1890.5 539.4 1891.5 539.5 1892.5 539.8 1893.5 539.1 1894.5 540.0 1895.5 539.7 1896.5 540.3 1897.5 539.5 1898.5 539.3 1899.5 540.9 1900.5 539.3 1901.5 539.5 1902.5 539.4 1903.5 539.6 1904.5 539.2 1905.5 539.8 1906.5 539.4 1907.5 539.5 1908.5 540.0 1909.5 540.2 1910.5 540.1 1911.5 539.3 1912.5 540.0 1913.5 539.7 1914.5 539.7 1915.5 538.7 1916.5 540.2 1917.5 539.7 1918.5 540.8 1919.5 540.1 1920.5 539.1 1921.5 538.9 1922.5 540.4 1923.5 539.2 1924.5 540.1 1925.5 539.5 1926.5 541.0 1927.5 539.7 1928.5 540.6 1929.5 540.5 1930.5 539.4 1931.5 539.5 1932.5 540.5 1933.5 539.6 1934.5 539.1 1935.5 540.3 1936.5 541.2 1937.5 539.6 1938.5 540.4 1939.5 539.5 1940.5 540.4 1941.5 539.4 1942.5 540.3 1943.5 539.8 1944.5 539.3 1945.5 539.5 1946.5 538.9 1947.5 538.5 1948.5 538.4 1949.5 538.9 1950.5 538.2 1951.5 539.0 1952.5 538.9 1953.5 538.7 1954.5 538.0 1955.5 538.2 1956.5 538.1 1957.5 538.8 1958.3 537.6 1959.5 537.8 1960.5 538.0 1961.5 538.1 1962.5 537.9 1963.5 538.1 1964.5 539.2 1965.5 538.3 1966.5 539.4 1967.5 540.2 1968.5 539.8 1969.5 538.1 1970.5 539.7 1971.5 539.6 1972.5 539.7 1973.5 538.4 1974.5 539.9 1975.5 538.8 1976.5 540.2 1977.5 540.1 1978.5 541.0 1979.5 539.2 1980.5 538.6 1981.5 540.1 1982.5 540.0 1983.5 539.3 1984.5 540.3 1985.5 539.9 1986.5 538.7 1987.5 539.3 1988.5 539.2 1989.5 539.4 1990.5 539.6 1991.5 539.1 1992.5 539.4 1993.5 539.8" stroke="#DB9A00"/>
<path d="M173.5 782.5L174.5 782.0 175.5 782.1 176.5 780.8 177.5 783.4 178.5 782.9 179.5 782.0 180.5 782.7 181.5 782.3 182.5 781.8 183.5 782.7 184.5 781.9 185.5 781.8 186.5 781.5 187.5 782.2 188.5 781.9 189.5 782.2 190.5 781.5 191.5 781.9 192.5 781.3 193.5 782.3 194.5 781.9 195.5 781.9 196.5 781.9 197.5 781.1 198.5 782.1 199.5 782.8 200.5 780.6 201.5 780.5 202.5 780.6 203.5 782.0 204.5 781.5 205.5 782.1 206.5 781.8 207.5 781.5 208.5 781.5 209.5 781.2 210.5 781.8 211.5 780.5 212.5 780.9 213.5 781.3 214.5 782.2 215.5 780.6 216.5 780.4 217.5 780.7 218.5 781.6 219.5 780.8 220.5 781.7 221.5 779.8 222.5 781.6 223.5 781.5 224.5 780.0 225.5 780.9 226.5 781.5 227.5 780.8 228.5 781.3 229.5 782.1 230.5 780.8 231.5 780.4 232.5 780.1 233.5 780.9 234.5 780.4 235.5 780.4 236.5 780.4 237.5 780.8 238.5 779.7 239.5 779.4 240.5 778.9 241.5 781.0 242.5 780.3 243.5 781.1 244.5 780.2 245.5 779.7 246.5 780.4 247.5 780.0 248.5 779.3 249.5 779.5 250.5 781.1 251.5 780.2 252.5 780.2 253.5 779.7 254.5 779.5 255.5 780.4 256.5 779.7 257.5 779.3 258.5 779.7 259.5 779.2 260.5 779.8 261.5 780.3 262.5 779.1 263.5 780.4 264.5 779.2 265.5 779.6 266.5 779.0 267.5 779.3 268.5 779.5 269.5 779.1 270.5 778.9 271.5 778.9 272.5 778.8 273.5 778.3 274.5 779.1 275.5 779.5 276.5 779.7 277.5 779.5 278.5 780.6 279.5 779.3 280.5 778.8 281.5 780.1 282.5 778.4 283.5 779.5 284.5 778.4 285.5 779.1 286.5 777.7 287.5 779.4 288.5 778.7 289.5 778.2 290.5 779.7 291.5 779.1 292.5 778.6 293.5 778.1 294.5 778.5 295.5 778.3 296.5 778.8 297.5 778.8 298.5 777.9 299.5 777.9 300.5 777.8 301.5 777.3 302.5 777.6 303.5 777.9 304.5 778.3 305.5 778.6 306.5 777.2 307.5 778.0 308.5 777.3 309.5 778.8 310.5 777.4 311.5 777.7 312.5 776.8 313.5 776.8 314.5 777.3 315.5 776.9 316.5 777.3 317.5 776.1 318.5 777.3 319.5 776.3 320.5 777.8 321.5 776.6 322.5 777.3 323.5 775.8 324.5 776.8 325.5 775.9 326.5 776.1 327.5 776.3 328.5 776.1 329.5 776.4 330.5 776.6 331.5 776.5 332.5 775.9 333.5 775.1 334.5 775.4 335.5 775.7 336.5 774.5 337.5 776.1 338.5 775.5 339.5 775.4 340.5 776.0 341.5 775.8 342.5 775.5 343.5 774.7 344.5 775.4 345.5 775.3 346.5 774.5 347.5 775.6 348.5 775.2 349.5 773.7 350.5 774.9 351.5 774.0 352.5 775.3 353.5 775.1 354.5 773.9 355.5 773.9 356.5 774.5 357.5 774.2 358.5 775.2 359.5 774.6 360.5 774.0 361.5 774.4 362.5 772.8 363.5 774.1 364.5 774.4 365.5 773.7 366.5 773.3 367.5 774.0 368.5 774.8 369.5 773.7 370.5 772.8 371.5 774.3 372.5 772.2 373.5 773.6 374.5 772.8 375.5 773.7 376.5 772.6 377.5 773.8 378.5 773.1 379.5 771.8 380.5 771.6 381.5 772.5 382.5 773.4 383.5 772.7 384.5 772.6 385.5 772.3 386.5 772.8 387.5 772.6 388.5 772.4 389.5 771.6 390.5 772.8 391.5 772.9 392.5 771.2 393.5 773.3 394.5 772.3 395.5 771.5 396.5 770.6 397.5 772.1 398.5 771.9 399.5 771.2 400.5 770.4 401.5 772.1 402.5 771.0 403.5 771.0 404.5 772.9 405.5 772.4 406.5 771.6 407.5 770.7 408.5 771.3 409.5 769.5 410.5 770.9 411.5 770.3 412.5 769.9 413.5 769.7 414.5 770.9 415.5 770.6 416.5 770.6 417.5 770.9 418.5 769.9 419.5 769.6 420.5 769.2 421.5 770.1 422.5 770.7 423.5 770.1 424.5 770.6 425.5 769.4 426.5 769.8 427.5 769.6 428.5 769.3 429.5 771.1 430.5 770.5 431.5 769.5 432.5 769.4 433.5 769.8 434.5 769.0 435.5 770.1 436.5 769.0 437.5 769.5 438.5 769.1 439.5 769.4 440.5 768.8 441.5 768.6 442.5 769.0 443.5 769.1 444.5 769.3 445.5 769.5 446.5 770.3 447.5 769.9 448.5 769.2 449.5 769.7 450.5 768.9 451.5 770.1 452.5 769.5 453.5 768.4 454.5 769.6 455.5 769.6 456.5 767.5 457.5 768.6 458.5 768.7 459.5 767.8 460.5 768.3 461.5 768.3 462.5 769.2 463.5 769.0 464.5 770.4 465.5 768.5 466.5 769.4 467.5 768.7 468.5 768.8 469.5 767.9 470.5 767.4 471.5 768.1 472.5 769.0 473.5 769.4 474.5 768.8 475.5 768.7 476.5 767.9 477.5 769.3 478.5 769.1 479.5 768.0 480.5 768.2 481.5 767.6 482.5 769.1 483.5 768.4 484.5 768.1 485.5 768.4 486.5 768.4 487.5 767.9 488.5 767.4 489.5 767.4 490.5 767.1 491.5 768.5 492.5 769.6 493.5 767.2 494.5 768.4 495.5 768.6 496.5 767.8 497.5 768.6 498.5 767.8 499.5 769.2 500.5 768.2 501.5 768.7 502.5 769.1 503.5 768.5 504.5 767.7 505.5 768.5 506.5 769.3 507.5 768.9 508.5 769.1 509.5 768.3 510.5 769.1 511.5 769.5 512.5 769.2 513.5 770.3 514.5 769.1 515.5 768.6 516.5 768.3 517.5 770.1 518.5 769.4 519.5 770.1 520.5 769.8 521.5 770.5 522.5 770.4 523.5 769.4 524.5 769.9 525.5 770.4 526.5 769.0 527.5 770.7 528.5 770.6 529.5 770.5 530.5 769.9 531.5 770.2 532.5 769.4 533.5 770.1 534.5 769.8 535.5 770.3 536.5 770.0 537.5 770.5 538.5 771.1 539.5 769.6 540.5 771.0 541.5 769.3 542.5 769.2 543.5 770.5 544.5 770.6 545.5 770.9 546.5 769.7 547.5 770.7 548.5 770.9 549.5 771.6 550.5 770.8 551.5 771.3 552.5 770.4 553.5 770.9 554.5 770.8 555.5 771.6 556.5 770.6 557.5 770.7 558.5 771.6 559.5 772.4 560.5 771.6 561.5 771.6 562.5 771.3 563.5 772.2 564.5 772.0 565.5 772.7 566.5 772.0 567.5 771.3 568.5 771.5 569.5 771.4 570.5 771.3 571.5 772.8 572.5 772.6 573.5 771.5 574.5 773.4 575.5 772.5 576.5 771.8 577.5 772.7 578.5 772.5 579.5 772.2 580.5 771.5 581.5 772.8 582.5 773.0 583.5 771.3 584.5 773.3 585.5 773.4 586.5 772.8 587.5 773.2 588.5 773.0 589.5 772.8 590.5 773.1 591.5 774.2 592.5 772.6 593.5 773.7 594.5 773.7 595.5 773.2 596.5 773.5 597.5 773.0 598.5 773.4 599.5 773.9 600.5 774.2 601.5 773.5 602.5 776.0 603.5 773.9 604.5 774.3 605.5 774.2 606.5 774.2 607.5 775.2 608.5 774.2 609.5 775.4 610.5 775.3 611.5 774.1 612.5 775.4 613.5 774.5 614.5 776.6 615.5 774.8 616.5 774.5 617.5 774.0 618.5 774.4 619.5 774.9 620.5 774.7 621.5 774.6 622.5 775.0 623.5 775.4 624.5 776.5 625.5 774.6 626.5 775.4 627.5 775.2 628.5 774.9 629.5 775.1 630.5 775.4 631.5 776.4 632.5 776.0 633.5 775.8 634.5 776.5 635.5 776.4 636.5 776.1 637.5 776.5 638.5 775.8 639.5 776.7 640.5 776.6 641.5 776.1 642.5 775.7 643.5 777.3 644.5 776.5 645.5 778.3 646.5 776.1 647.5 777.0 648.5 776.2 649.5 776.6 650.5 777.0 651.5 776.0 652.5 776.4 653.5 776.5 654.5 776.4 655.5 776.5 656.5 776.4 657.5 775.6 658.5 774.2 659.5 772.8 660.5 771.8 661.5 772.6 662.5 773.8 663.5 775.6 664.5 775.7 665.5 775.6 666.5 776.9 667.5 776.2 668.5 776.3 669.5 776.7 670.5 777.1 671.5 775.4 672.5 776.2 673.5 777.0 674.5 776.7 675.5 776.4 676.5 776.6 677.5 777.8 678.5 776.7 679.5 777.4 680.5 777.5 681.5 776.7 682.5 777.3 683.5 776.7 684.5 776.7 685.5 776.4 686.5 777.6 687.5 776.8 688.5 776.7 689.5 776.4 690.5 778.1 691.5 777.5 692.5 777.0 693.5 776.7 694.5 776.2 695.5 777.3 696.5 777.3 697.5 776.2 698.5 777.8 699.5 777.6 700.5 776.5 701.5 776.8 702.5 776.9 703.5 777.2 704.5 777.0 705.5 776.1 706.5 778.0 707.5 777.3 708.5 777.9 709.5 777.9 710.5 777.0 711.5 777.4 712.5 777.6 713.5 777.6 714.5 777.1 715.5 776.8 716.5 777.2 717.5 776.7 718.5 776.9 719.5 776.0 720.5 777.2 721.5 776.6 722.5 776.9 723.5 777.2 724.5 777.4 725.5 778.3 726.5 777.3 727.5 776.4 728.5 777.3 729.5 776.9 730.5 777.5 731.5 776.8 732.5 776.8 733.5 776.9 734.5 776.9 735.5 776.2 736.5 776.9 737.5 777.3 738.5 778.0 739.5 777.1 740.5 777.1 741.5 777.6 742.5 777.6 743.5 778.3 744.5 777.6 745.5 777.3 746.5 778.1 747.5 778.2 748.5 777.0 749.5 777.4 750.5 776.3 751.5 777.1 752.5 776.8 753.5 777.2 754.5 777.0 755.5 777.2 756.5 777.3 757.5 777.6 758.5 777.5 759.5 777.0 760.5 776.6 761.5 778.1 762.5 778.2 763.5 777.1 764.5 777.7 765.5 776.5 766.5 776.4 767.5 777.2 768.5 778.3 769.5 776.8 770.5 776.9 771.5 778.4 772.5 776.3 773.5 777.8 774.5 777.7 775.5 777.3 776.5 777.5 777.5 779.0 778.5 776.8 779.5 777.2 780.5 777.3 781.5 777.0 782.5 776.6 783.5 778.4 784.5 777.6 785.5 776.4 786.5 777.0 787.5 777.7 788.5 777.7 789.5 776.6 790.5 777.4 791.5 777.6 792.5 777.7 793.5 777.7 794.5 776.4 795.5 778.6 796.5 777.6 797.5 778.6 798.5 779.2 799.5 777.4 800.5 776.8 801.5 778.0 802.5 777.4 803.5 777.3 804.5 776.9 805.5 778.6 806.5 777.3 807.5 776.7 808.5 777.3 809.5 776.9 810.5 777.7 811.5 777.3 812.5 776.9 813.5 777.9 814.5 777.2 815.5 778.0 816.5 778.3 817.5 777.4 818.5 777.2 819.5 777.7 820.5 778.1 821.5 777.6 822.5 777.7 823.5 777.6 824.5 777.8 825.5 778.0 826.5 777.2 827.5 777.3 828.5 777.6 829.5 777.2 830.5 777.7 831.5 778.0 832.5 777.6 833.5 777.3 834.5 777.2 835.5 778.7 836.5 778.2 837.5 777.0 838.5 777.1 839.5 778.8 840.5 778.6 841.5 777.7 842.5 778.4 843.5 776.8 844.5 777.7 845.5 778.1 846.5 776.6 847.5 777.2 848.5 778.2 849.5 778.4 850.5 777.3 851.5 777.9 852.5 778.7 853.5 777.5 854.5 776.9 855.5 777.7 856.5 777.5 857.5 778.5 858.5 777.8 859.5 777.2 860.5 779.2 861.5 777.4 862.5 778.0 863.5 778.1 864.5 778.2 865.5 777.8 866.5 778.1 867.5 777.7 868.5 776.9 869.5 777.6 870.5 777.6 871.5 777.6 872.5 777.8 873.5 777.4 874.5 778.5 875.5 778.7 876.5 776.4 877.5 777.7 878.5 777.3 879.5 776.2 880.5 778.0 881.5 777.4 882.5 777.5 883.5 777.3 884.5 778.4 885.5 778.5 886.5 777.9 887.5 778.1 888.5 777.7 889.5 777.8 890.5 777.3 891.5 777.7 892.5 777.3 893.5 777.9 894.5 778.2 895.5 777.9 896.5 778.4 897.5 779.3 898.5 776.4 899.5 777.7 900.5 777.3 901.5 777.4 902.5 776.9 903.5 777.7 904.5 777.5 905.5 777.3 906.5 777.5 907.5 777.3 908.5 776.2 909.5 778.3 910.5 777.4 911.5 777.0 912.5 777.7 913.5 777.1 914.5 776.2 915.5 778.0 916.5 776.5 917.5 777.3 918.5 777.5 919.5 778.2 920.5 778.1 921.5 777.4 922.5 776.8 923.5 777.0 924.5 777.9 925.5 778.2 926.5 777.4 927.5 776.7 928.5 777.6 929.5 776.7 930.5 776.6 931.5 776.6 932.5 777.0 933.5 776.7 934.5 777.0 935.5 777.0 936.5 776.4 937.5 774.4 938.5 774.6 939.5 775.4 940.5 775.0 941.5 776.0 942.5 774.2 943.5 773.6 944.5 773.6 945.5 772.9 946.5 771.2 947.5 770.3 948.5 767.7 949.5 765.4 950.5 762.9 951.5 754.9 952.5 745.3 953.5 727.4 954.5 700.8 955.5 665.4 956.5 625.0 957.5 589.0 958.4 577.4 959.5 595.6 960.5 633.2 961.5 671.9 962.5 706.0 963.5 731.0 964.5 748.3 965.5 756.5 966.5 762.3 967.5 767.0 968.5 767.6 969.5 770.7 970.5 771.4 971.5 771.7 972.5 773.1 973.5 773.4 974.5 774.6 975.5 775.2 976.5 776.2 977.5 775.6 978.5 776.0 979.5 775.8 980.5 776.3 981.5 777.1 982.5 775.5 983.5 777.2 984.5 776.6 985.5 777.1 986.5 777.4 987.5 777.8 988.5 777.5 989.5 777.2 990.5 777.7 991.5 777.6 992.5 777.5 993.5 777.8 994.5 778.3 995.5 777.9 996.5 777.9 997.5 777.1 998.5 777.8 999.5 776.8 1000.5 778.4 1001.5 777.4 1002.5 778.8 1003.5 779.9 1004.5 777.9 1005.5 778.9 1006.5 778.4 1007.5 777.8 1008.5 777.7 1009.5 778.6 1010.5 779.1 1011.5 778.5 1012.5 777.4 1013.5 777.7 1014.5 778.2 1015.5 779.1 1016.5 778.5 1017.5 778.6 1018.5 779.1 1019.5 778.3 1020.5 778.3 1021.5 778.3 1022.5 777.4 1023.5 778.7 1024.5 778.7 1025.5 779.1 1026.5 777.8 1027.5 778.0 1028.5 779.1 1029.5 778.7 1030.5 779.3 1031.5 778.0 1032.5 778.7 1033.5 778.1 1034.5 778.7 1035.5 778.3 1036.5 778.9 1037.5 779.2 1038.5 779.0 1039.5 777.5 1040.5 779.2 1041.5 778.9 1042.5 778.0 1043.5 778.1 1044.5 778.7 1045.5 779.0 1046.5 778.4 1047.5 777.7 1048.5 778.8 1049.5 778.8 1050.5 780.2 1051.5 777.9 1052.5 780.2 1053.5 779.8 1054.5 778.9 1055.5 779.7 1056.5 778.8 1057.5 779.3 1058.5 778.3 1059.5 778.8 1060.5 778.1 1061.5 777.8 1062.5 778.6 1063.5 778.4 1064.5 779.1 1065.5 779.5 1066.5 778.7 1067.5 778.8 1068.5 778.9 1069.5 777.8 1070.5 778.9 1071.5 778.8 1072.5 778.7 1073.5 778.1 1074.5 777.6 1075.5 778.6 1076.5 779.0 1077.5 779.6 1078.5 779.4 1079.5 779.6 1080.5 779.0 1081.5 779.5 1082.5 778.6 1083.5 779.1 1084.5 779.3 1085.5 780.3 1086.5 778.9 1087.5 778.0 1088.5 779.5 1089.5 778.2 1090.5 778.6 1091.5 778.5 1092.5 778.1 1093.5 779.4 1094.5 779.0 1095.5 778.2 1096.5 778.6 1097.5 778.2 1098.5 778.8 1099.5 778.2 1100.5 777.9 1101.5 777.9 1102.5 778.0 1103.5 778.4 1104.5 777.6 1105.5 778.0 1106.5 778.2 1107.5 779.2 1108.5 778.1 1109.5 775.6 1110.5 776.9 1111.5 776.7 1112.5 776.8 1113.5 777.2 1114.5 776.2 1115.5 773.8 1116.5 774.5 1117.5 773.3 1118.5 771.8 1119.5 769.6 1120.5 763.2 1121.5 755.8 1122.5 739.9 1123.5 720.4 1124.5 695.5 1125.5 673.1 1126.5 661.1 1127.5 670.7 1128.5 695.7 1129.5 720.0 1130.5 741.9 1131.5 754.7 1132.5 763.4 1133.5 769.6 1134.5 771.7 1135.5 774.0 1136.5 773.6 1137.5 776.3 1138.5 775.6 1139.5 776.9 1140.5 776.2 1141.5 776.2 1142.5 777.3 1143.5 777.8 1144.5 778.8 1145.5 778.2 1146.5 778.6 1147.5 778.7 1148.5 780.2 1149.5 778.0 1150.5 779.3 1151.5 778.5 1152.5 778.8 1153.5 778.4 1154.5 779.5 1155.5 778.1 1156.5 778.1 1157.5 778.8 1158.5 778.3 1159.5 779.4 1160.5 779.6 1161.5 778.6 1162.5 779.5 1163.5 778.7 1164.5 779.1 1165.5 779.1 1166.5 780.3 1167.5 779.2 1168.5 778.6 1169.5 778.6 1170.5 779.9 1171.5 778.2 1172.5 778.9 1173.5 779.0 1174.5 777.8 1175.5 779.0 1176.5 779.9 1177.5 779.4 1178.5 778.7 1179.5 779.7 1180.5 779.6 1181.5 780.5 1182.5 778.9 1183.5 779.1 1184.5 779.4 1185.5 779.3 1186.5 779.4 1187.5 779.3 1188.5 778.9 1189.5 778.4 1190.5 779.0 1191.5 778.5 1192.5 778.7 1193.5 779.0 1194.5 779.7 1195.5 779.9 1196.5 778.8 1197.5 779.6 1198.5 779.9 1199.5 779.4 1200.5 778.4 1201.5 778.1 1202.5 779.9 1203.5 779.9 1204.5 779.6 1205.5 778.8 1206.5 780.3 1207.5 780.1 1208.5 779.4 1209.5 779.3 1210.5 778.2 1211.5 779.9 1212.5 778.4 1213.5 779.8 1214.5 779.8 1215.5 779.5 1216.5 780.4 1217.5 779.2 1218.5 779.8 1219.5 779.9 1220.5 779.6 1221.5 779.2 1222.5 780.2 1223.5 779.7 1224.5 779.3 1225.5 779.3 1226.5 779.5 1227.5 780.8 1228.5 779.5 1229.5 779.3 1230.5 778.8 1231.5 778.7 1232.5 778.3 1233.5 779.6 1234.5 779.5 1235.5 778.8 1236.5 778.6 1237.5 779.2 1238.5 779.1 1239.5 778.6 1240.5 779.6 1241.5 779.5 1242.5 779.4 1243.5 779.9 1244.5 779.1 1245.5 780.3 1246.5 778.8 1247.5 779.8 1248.5 779.8 1249.5 779.3 1250.5 779.7 1251.5 778.7 1252.5 778.6 1253.5 779.3 1254.5 779.0 1255.5 779.8 1256.5 779.5 1257.5 779.8 1258.5 779.7 1259.5 779.6 1260.5 779.5 1261.5 779.2 1262.5 779.2 1263.5 780.7 1264.5 778.4 1265.5 779.4 1266.5 780.1 1267.5 779.7 1268.5 780.3 1269.5 779.8 1270.5 778.7 1271.5 779.3 1272.5 778.6 1273.5 780.1 1274.5 780.3 1275.5 779.2 1276.5 779.8 1277.5 779.2 1278.5 778.6 1279.5 779.2 1280.5 778.5 1281.5 779.1 1282.5 779.6 1283.5 779.9 1284.5 780.2 1285.5 779.3 1286.5 779.6 1287.5 779.7 1288.5 779.8 1289.5 777.8 1290.5 779.0 1291.5 779.9 1292.5 778.8 1293.5 779.6 1294.5 780.0 1295.5 778.3 1296.5 779.4 1297.5 779.6 1298.5 779.5 1299.5 778.6 1300.5 779.7 1301.5 779.1 1302.5 780.0 1303.5 779.7 1304.5 779.1 1305.5 779.6 1306.5 779.1 1307.5 779.0 1308.5 778.5 1309.5 779.3 1310.5 780.0 1311.5 779.5 1312.5 779.5 1313.5 779.1 1314.5 779.1 1315.5 779.9 1316.5 778.6 1317.5 780.7 1318.5 779.4 1319.5 780.8 1320.5 780.2 1321.5 779.2 1322.5 779.9 1323.5 779.6 1324.5 779.7 1325.5 779.9 1326.5 779.1 1327.5 779.1 1328.5 779.2 1329.5 778.6 1330.5 779.3 1331.5 779.6 1332.5 779.6 1333.5 779.6 1334.5 779.2 1335.5 779.9 1336.5 778.2 1337.5 779.2 1338.5 779.2 1339.5 780.0 1340.5 779.8 1341.5 779.9 1342.5 779.4 1343.5 780.0 1344.5 778.8 1345.5 779.5 1346.5 778.2 1347.5 780.5 1348.5 780.4 1349.5 779.1 1350.5 778.9 1351.5 778.2 1352.5 778.5 1353.5 779.5 1354.5 779.3 1355.5 778.5 1356.5 779.1 1357.5 779.0 1358.5 779.7 1359.5 779.9 1360.5 779.3 1361.5 779.5 1362.5 779.4 1363.5 778.2 1364.5 779.5 1365.5 779.4 1366.5 779.9 1367.5 778.3 1368.5 779.9 1369.5 779.1 1370.5 779.6 1371.5 780.2 1372.5 778.6 1373.5 778.7 1374.5 780.0 1375.5 778.8 1376.5 778.9 1377.5 779.8 1378.5 779.3 1379.5 779.9 1380.5 779.6 1381.5 779.4 1382.5 780.0 1383.5 780.8 1384.5 779.4 1385.5 780.3 1386.5 780.1 1387.5 779.5 1388.5 779.7 1389.5 778.9 1390.5 779.1 1391.5 779.6 1392.5 779.4 1393.5 780.2 1394.5 778.7 1395.5 779.3 1396.5 779.1 1397.5 779.4 1398.5 780.2 1399.5 778.7 1400.5 780.0 1401.5 779.1 1402.5 779.3 1403.5 780.1 1404.5 779.3 1405.5 779.9 1406.5 779.5 1407.5 779.4 1408.5 779.2 1409.5 778.4 1410.5 779.0 1411.5 779.6 1412.5 779.6 1413.5 778.6 1414.5 780.1 1415.5 779.8 1416.5 778.7 1417.5 778.8 1418.5 779.8 1419.5 778.4 1420.5 779.0 1421.5 779.4 1422.5 779.4 1423.5 779.4 1424.5 779.7 1425.5 779.0 1426.5 779.2 1427.5 780.7 1428.5 778.6 1429.5 779.2 1430.5 779.5 1431.5 779.1 1432.5 780.2 1433.5 779.5 1434.5 779.9 1435.5 777.9 1436.5 780.2 1437.5 780.2 1438.5 779.0 1439.5 780.3 1440.5 779.6 1441.5 780.0 1442.5 780.6 1443.5 779.5 1444.5 778.9 1445.5 779.5 1446.5 778.7 1447.5 779.0 1448.5 779.0 1449.5 779.1 1450.5 780.2 1451.5 780.0 1452.5 779.0 1453.5 780.2 1454.5 778.5 1455.5 779.1 1456.5 779.4 1457.5 780.2 1458.5 779.9 1459.5 779.8 1460.5 780.3 1461.5 779.9 1462.5 780.3 1463.5 779.0 1464.5 778.5 1465.5 779.3 1466.5 780.0 1467.5 779.7 1468.5 780.0 1469.5 779.9 1470.5 779.8 1471.5 780.0 1472.5 779.1 1473.5 780.2 1474.5 778.9 1475.5 779.4 1476.5 778.7 1477.5 779.8 1478.5 778.6 1479.5 780.4 1480.5 778.7 1481.5 779.7 1482.5 779.4 1483.5 779.0 1484.5 780.3 1485.5 779.3 1486.5 780.4 1487.5 778.9 1488.5 779.0 1489.5 778.3 1490.5 779.9 1491.5 780.1 1492.5 779.7 1493.5 779.4 1494.5 779.0 1495.5 780.9 1496.5 780.0 1497.5 778.4 1498.5 779.3 1499.5 778.0 1500.5 780.5 1501.5 780.7 1502.5 780.4 1503.5 779.5 1504.5 779.2 1505.5 778.7 1506.5 779.8 1507.5 779.1 1508.5 779.3 1509.5 779.1 1510.5 779.3 1511.5 780.1 1512.5 780.5 1513.5 779.6 1514.5 779.5 1515.5 778.9 1516.5 778.8 1517.5 778.9 1518.5 780.1 1519.5 779.7 1520.5 780.1 1521.5 779.8 1522.5 779.3 1523.5 778.8 1524.5 779.3 1525.5 778.7 1526.5 780.7 1527.5 779.7 1528.5 779.3 1529.5 780.7 1530.5 779.3 1531.5 779.9 1532.5 779.4 1533.5 779.7 1534.5 779.3 1535.5 779.8 1536.5 780.4 1537.5 778.8 1538.5 778.2 1539.5 780.4 1540.5 779.6 1541.5 780.1 1542.5 779.4 1543.5 780.5 1544.5 780.6 1545.5 778.8 1546.5 779.9 1547.5 779.2 1548.5 778.6 1549.5 779.4 1550.5 779.9 1551.5 778.7 1552.5 778.8 1553.5 780.3 1554.5 779.5 1555.5 779.8 1556.5 778.8 1557.5 779.1 1558.5 779.6 1559.5 779.6 1560.5 779.6 1561.5 780.5 1562.5 779.6 1563.5 778.6 1564.5 779.0 1565.5 779.5 1566.5 780.3 1567.5 779.1 1568.5 779.3 1569.5 779.5 1570.5 779.1 1571.5 779.0 1572.5 779.4 1573.5 780.1 1574.5 779.8 1575.5 779.3 1576.5 779.7 1577.5 778.7 1578.5 780.1 1579.5 779.9 1580.5 779.7 1581.5 778.5 1582.5 780.7 1583.5 777.7 1584.5 778.9 1585.5 778.9 1586.5 779.9 1587.5 778.6 1588.5 779.6 1589.5 779.4 1590.5 779.3 1591.5 780.0 1592.5 780.3 1593.5 779.7 1594.5 779.3 1595.5 778.1 1596.5 780.4 1597.5 779.3 1598.5 778.4 1599.5 779.6 1600.5 780.4 1601.5 779.4 1602.5 778.8 1603.5 780.9 1604.5 779.9 1605.5 779.7 1606.5 780.1 1607.5 778.2 1608.5 779.4 1609.5 779.4 1610.5 780.9 1611.5 779.1 1612.5 779.2 1613.5 778.6 1614.5 779.0 1615.5 779.4 1616.5 779.6 1617.5 779.4 1618.5 780.7 1619.5 779.8 1620.5 779.9 1621.5 780.3 1622.5 779.9 1623.5 779.2 1624.5 778.5 1625.5 779.7 1626.5 779.0 1627.5 780.3 1628.5 779.0 1629.5 778.1 1630.5 779.5 1631.5 780.1 1632.5 779.3 1633.5 779.6 1634.5 779.5 1635.5 780.5 1636.5 779.6 1637.5 779.4 1638.5 779.1 1639.5 778.4 1640.5 780.3 1641.5 780.1 1642.5 778.9 1643.5 779.8 1644.5 779.6 1645.5 779.2 1646.5 779.2 1647.5 779.9 1648.5 778.7 1649.5 779.1 1650.5 779.4 1651.5 779.4 1652.5 779.3 1653.5 779.5 1654.5 779.7 1655.5 778.8 1656.5 779.4 1657.5 779.0 1658.5 780.3 1659.5 778.5 1660.5 779.2 1661.5 779.7 1662.5 779.1 1663.5 779.0 1664.5 778.9 1665.5 779.3 1666.5 778.4 1667.5 779.0 1668.5 778.9 1669.5 777.9 1670.5 778.8 1671.5 778.2 1672.5 778.5 1673.5 778.6 1674.5 777.8 1675.5 776.3 1676.5 776.1 1677.5 772.7 1678.5 769.0 1679.5 763.3 1680.5 752.0 1681.5 741.1 1682.5 731.0 1683.0 729.5 1683.5 729.6 1684.5 737.8 1685.5 745.9 1686.5 752.6 1687.5 754.9 1688.5 754.9 1689.5 755.2 1690.5 757.8 1691.5 762.6 1692.5 767.3 1693.5 770.7 1694.5 775.3 1695.5 778.1 1696.5 778.5 1697.5 779.8 1698.5 779.0 1699.5 778.3 1700.5 778.5 1701.5 779.6 1702.5 779.5 1703.5 779.3 1704.5 779.9 1705.5 779.0 1706.5 779.9 1707.5 779.4 1708.5 779.7 1709.5 780.4 1710.5 779.6 1711.5 780.6 1712.5 780.6 1713.5 779.3 1714.5 781.2 1715.5 779.1 1716.5 779.8 1717.5 780.3 1718.5 778.5 1719.5 780.6 1720.5 780.6 1721.5 779.9 1722.5 780.1 1723.5 780.1 1724.5 779.9 1725.5 780.7 1726.5 779.8 1727.5 780.0 1728.5 780.3 1729.5 780.6 1730.5 780.8 1731.5 779.2 1732.5 778.9 1733.5 780.0 1734.5 780.1 1735.5 779.5 1736.5 780.3 1737.5 780.5 1738.5 780.4 1739.5 781.2 1740.5 779.5 1741.5 780.2 1742.5 781.4 1743.5 780.6 1744.5 779.5 1745.5 780.3 1746.5 780.9 1747.5 781.5 1748.5 780.6 1749.5 781.0 1750.5 779.6 1751.5 780.1 1752.5 781.0 1753.5 779.7 1754.5 780.3 1755.5 779.2 1756.5 781.2 1757.5 780.2 1758.5 780.7 1759.5 779.4 1760.5 779.5 1761.5 781.4 1762.5 780.1 1763.5 780.0 1764.5 780.7 1765.5 780.7 1766.5 779.2 1767.5 779.8 1768.5 780.4 1769.5 780.4 1770.5 780.6 1771.5 780.1 1772.5 780.2 1773.5 780.6 1774.5 780.0 1775.5 779.9 1776.5 780.1 1777.5 780.5 1778.5 780.4 1779.5 780.2 1780.5 780.3 1781.5 780.4 1782.5 780.7 1783.5 780.7 1784.5 779.7 1785.5 781.1 1786.5 779.5 1787.5 780.8 1788.5 780.1 1789.5 780.9 1790.5 781.2 1791.5 779.4 1792.5 780.9 1793.5 780.7 1794.5 780.3 1795.5 780.8 1796.5 780.3 1797.5 780.7 1798.5 779.9 1799.5 781.1 1800.5 781.0 1801.5 781.1 1802.5 780.2 1803.5 781.7 1804.5 781.8 1805.5 780.6 1806.5 780.4 1807.5 780.4 1808.5 781.1 1809.5 781.3 1810.5 780.2 1811.5 779.4 1812.5 781.0 1813.5 780.7 1814.5 780.8 1815.5 781.0 1816.5 780.0 1817.5 780.7 1818.5 780.5 1819.5 780.9 1820.5 781.5 1821.5 780.7 1822.5 780.2 1823.5 781.5 1824.5 781.2 1825.5 780.6 1826.5 779.7 1827.5 780.2 1828.5 780.9 1829.5 781.1 1830.5 780.5 1831.5 781.1 1832.5 780.4 1833.5 780.5 1834.5 781.1 1835.5 780.6 1836.5 780.9 1837.5 781.4 1838.5 781.5 1839.5 780.5 1840.5 780.7 1841.5 780.0 1842.5 780.1 1843.5 781.0 1844.5 780.6 1845.5 779.8 1846.5 781.2 1847.5 780.4 1848.5 780.7 1849.5 781.1 1850.5 781.1 1851.5 780.9 1852.5 779.7 1853.5 781.3 1854.5 780.6 1855.5 780.1 1856.5 779.6 1857.5 781.7 1858.5 781.0 1859.5 781.0 1860.5 781.3 1861.5 780.9 1862.5 780.1 1863.5 781.4 1864.5 781.6 1865.5 781.3 1866.5 781.9 1867.5 782.2 1868.5 780.5 1869.5 780.8 1870.5 781.6 1871.5 781.1 1872.5 781.2 1873.5 781.6 1874.5 781.5 1875.5 780.8 1876.5 781.1 1877.5 780.7 1878.5 781.0 1879.5 780.4 1880.5 779.9 1881.5 780.8 1882.5 780.8 1883.5 781.7 1884.5 782.1 1885.5 781.2 1886.5 781.4 1887.5 780.8 1888.5 780.6 1889.5 781.0 1890.5 781.0 1891.5 781.4 1892.5 781.3 1893.5 782.2 1894.5 781.1 1895.5 780.2 1896.5 781.3 1897.5 780.8 1898.5 781.3 1899.5 781.9 1900.5 780.9 1901.5 781.2 1902.5 781.6 1903.5 780.7 1904.5 781.4 1905.5 781.6 1906.5 781.8 1907.5 781.9 1908.5 781.6 1909.5 781.5 1910.5 780.5 1911.5 779.7 1912.5 780.7 1913.5 782.2 1914.5 781.4 1915.5 780.0 1916.5 781.1 1917.5 781.6 1918.5 780.3 1919.5 781.7 1920.5 780.7 1921.5 782.0 1922.5 781.4 1923.5 783.3 1924.5 780.6 1925.5 781.6 1926.5 780.5 1927.5 782.1 1928.5 781.5 1929.5 782.0 1930.5 781.5 1931.5 780.7 1932.5 781.1 1933.5 780.7 1934.5 780.8 1935.5 781.6 1936.5 782.1 1937.5 782.0 1938.5 781.8 1939.5 781.2 1940.5 781.8 1941.5 781.0 1942.5 781.6 1943.5 782.0 1944.5 781.4 1945.5 781.3 1946.5 781.3 1947.5 781.9 1948.5 781.4 1949.5 780.7 1950.5 781.3 1951.5 780.9 1952.5 782.5 1953.5 781.6 1954.5 780.7 1955.5 781.8 1956.5 782.0 1957.5 781.8 1958.5 781.4 1959.5 781.7 1960.5 781.8 1961.5 782.2 1962.5 781.9 1963.5 783.0 1964.5 781.5 1965.5 782.6 1966.5 781.7 1967.5 780.7 1968.5 781.0 1969.5 780.6 1970.5 780.7 1971.5 782.4 1972.5 781.3 1973.5 782.1 1974.5 781.2 1975.5 781.7 1976.5 781.1 1977.5 782.3 1978.5 781.6 1979.5 781.5 1980.5 781.7 1981.5 783.1 1982.5 782.0 1983.5 782.3 1984.5 781.1 1985.5 781.4 1986.5 782.0 1987.5 780.7 1988.5 782.6 1989.5 782.0 1990.5 781.8 1991.5 781.7 1992.5 781.7 1993.5 781.5" stroke="#C070DE"/>
<path d="M173.5 1011.2L174.5 1008.5 175.5 1010.3 176.5 1009.7 177.5 1009.7 178.5 1009.9 179.5 1008.8 180.5 1009.9 181.5 1009.5 182.5 1012.0 183.5 1010.2 184.5 1009.8 185.5 1009.9 186.5 1009.6 187.5 1009.4 188.5 1009.8 189.5 1010.3 190.5 1009.9 191.5 1010.6 192.5 1009.9 193.5 1010.1 194.5 1011.0 195.5 1010.4 196.5 1009.7 197.5 1009.9 198.5 1010.4 199.5 1011.2 200.5 1009.9 201.5 1009.9 202.5 1010.7 203.5 1009.5 204.5 1009.9 205.5 1010.6 206.5 1010.4 207.5 1010.1 208.5 1010.5 209.5 1008.4 210.5 1010.7 211.5 1009.5 212.5 1009.1 213.5 1010.3 214.5 1010.5 215.5 1009.8 216.5 1009.4 217.5 1010.1 218.5 1010.1 219.5 1010.9 220.5 1010.5 221.5 1010.2 222.5 1010.8 223.5 1010.0 224.5 1009.6 225.5 1010.5 226.5 1010.5 227.5 1010.0 228.5 1009.6 229.5 1010.3 230.5 1008.6 231.5 1010.5 232.5 1010.4 233.5 1009.1 234.5 1010.2 235.5 1009.6 236.5 1010.6 237.5 1008.9 238.5 1009.6 239.5 1010.6 240.5 1010.8 241.5 1008.9 242.5 1009.8 243.5 1010.3 244.5 1009.8 245.5 1011.1 246.5 1009.4 247.5 1010.4 248.5 1009.5 249.5 1011.0 250.5 1010.2 251.5 1009.9 252.5 1009.1 253.5 1011.2 254.5 1010.6 255.5 1010.6 256.5 1010.9 257.5 1010.4 258.5 1009.8 259.5 1009.7 260.5 1009.7 261.5 1011.0 262.5 1009.3 263.5 1009.8 264.5 1010.0 265.5 1010.3 266.5 1010.5 267.5 1009.5 268.5 1009.2 269.5 1010.2 270.5 1010.9 271.5 1010.7 272.5 1010.3 273.5 1010.0 274.5 1010.4 275.5 1010.1 276.5 1010.7 277.5 1009.7 278.5 1010.3 279.5 1010.2 280.5 1010.6 281.5 1010.4 282.5 1011.8 283.5 1011.1 284.5 1011.1 285.5 1009.0 286.5 1010.0 287.5 1009.9 288.5 1010.6 289.5 1008.9 290.5 1011.0 291.5 1010.9 292.5 1009.5 293.5 1009.7 294.5 1009.8 295.5 1010.3 296.5 1010.7 297.5 1011.5 298.5 1010.2 299.5 1010.7 300.5 1010.4 301.5 1011.3 302.5 1010.7 303.5 1011.1 304.5 1009.6 305.5 1010.2 306.5 1009.8 307.5 1011.2 308.5 1010.7 309.5 1010.1 310.5 1010.0 311.5 1010.6 312.5 1009.9 313.5 1009.7 314.5 1010.6 315.5 1011.8 316.5 1010.2 317.5 1010.0 318.5 1009.6 319.5 1009.5 320.5 1010.6 321.5 1010.8 322.5 1010.3 323.5 1010.5 324.5 1010.4 325.5 1010.4 326.5 1009.4 327.5 1010.1 328.5 1010.4 329.5 1009.9 330.5 1010.1 331.5 1009.9 332.5 1010.1 333.5 1010.9 334.5 1010.1 335.5 1010.3 336.5 1010.8 337.5 1010.7 338.5 1011.4 339.5 1009.1 340.5 1010.9 341.5 1010.1 342.5 1010.4 343.5 1010.9 344.5 1011.0 345.5 1011.0 346.5 1010.5 347.5 1011.3 348.5 1010.2 349.5 1010.3 350.5 1010.9 351.5 1010.1 352.5 1011.7 353.5 1011.0 354.5 1011.7 355.5 1010.4 356.5 1010.2 357.5 1010.5 358.5 1010.8 359.5 1010.1 360.5 1010.6 361.5 1010.4 362.5 1011.4 363.5 1010.0 364.5 1011.0 365.5 1010.0 366.5 1009.8 367.5 1010.0 368.5 1009.7 369.5 1010.5 370.5 1011.0 371.5 1010.5 372.5 1010.8 373.5 1011.4 374.5 1010.6 375.5 1010.6 376.5 1010.3 377.5 1009.5 378.5 1010.9 379.5 1009.4 380.5 1010.8 381.5 1010.4 382.5 1011.1 383.5 1010.4 384.5 1010.0 385.5 1010.7 386.5 1010.1 387.5 1010.4 388.5 1010.5 389.5 1010.4 390.5 1010.4 391.5 1010.0 392.5 1010.4 393.5 1009.2 394.5 1010.4 395.5 1009.8 396.5 1011.2 397.5 1011.3 398.5 1009.3 399.5 1010.6 400.5 1010.4 401.5 1009.9 402.5 1010.8 403.5 1010.2 404.5 1009.5 405.5 1010.4 406.5 1010.5 407.5 1010.6 408.5 1009.8 409.5 1010.9 410.5 1011.0 411.5 1009.9 412.5 1010.2 413.5 1010.5 414.5 1010.3 415.5 1011.7 416.5 1010.7 417.5 1010.0 418.5 1010.2 419.5 1010.6 420.5 1012.0 421.5 1010.5 422.5 1010.7 423.5 1011.0 424.5 1010.7 425.5 1012.1 426.5 1010.4 427.5 1011.1 428.5 1010.8 429.5 1011.1 430.5 1010.0 431.5 1011.8 432.5 1010.7 433.5 1010.8 434.5 1010.2 435.5 1010.3 436.5 1011.1 437.5 1011.4 438.5 1011.2 439.5 1011.5 440.5 1011.2 441.5 1010.8 442.5 1011.3 443.5 1011.2 444.5 1010.8 445.5 1011.3 446.5 1011.6 447.5 1011.0 448.5 1010.6 449.5 1011.3 450.5 1012.0 451.5 1010.7 452.5 1010.8 453.5 1010.8 454.5 1011.6 455.5 1009.8 456.5 1011.1 457.5 1011.6 458.5 1010.4 459.5 1011.8 460.5 1011.3 461.5 1010.6 462.5 1011.1 463.5 1010.0 464.5 1010.6 465.5 1012.1 466.5 1010.4 467.5 1012.1 468.5 1011.0 469.5 1011.6 470.5 1011.0 471.5 1009.7 472.5 1010.7 473.5 1011.2 474.5 1010.4 475.5 1010.2 476.5 1011.3 477.5 1010.7 478.5 1010.1 479.5 1010.7 480.5 1011.6 481.5 1010.8 482.5 1011.7 483.5 1012.0 484.5 1011.1 485.5 1010.4 486.5 1010.4 487.5 1011.1 488.5 1011.7 489.5 1011.3 490.5 1011.5 491.5 1010.9 492.5 1011.4 493.5 1010.9 494.5 1011.0 495.5 1010.4 496.5 1010.3 497.5 1010.9 498.5 1010.6 499.5 1010.7 500.5 1011.6 501.5 1011.2 502.5 1013.0 503.5 1011.8 504.5 1010.9 505.5 1011.7 506.5 1011.5 507.5 1010.9 508.5 1012.0 509.5 1010.8 510.5 1009.5 511.5 1011.8 512.5 1011.0 513.5 1012.2 514.5 1010.9 515.5 1010.6 516.5 1012.3 517.5 1010.7 518.5 1011.5 519.5 1012.2 520.5 1011.5 521.5 1011.3 522.5 1011.5 523.5 1011.9 524.5 1010.9 525.5 1011.8 526.5 1011.8 527.5 1012.8 528.5 1011.2 529.5 1010.9 530.5 1011.9 531.5 1011.2 532.5 1011.6 533.5 1011.6 534.5 1012.2 535.5 1011.1 536.5 1011.4 537.5 1010.0 538.5 1011.0 539.5 1012.4 540.5 1011.1 541.5 1011.1 542.5 1010.8 543.5 1011.9 544.5 1011.7 545.5 1010.9 546.5 1012.0 547.5 1011.7 548.5 1012.0 549.5 1011.2 550.5 1012.6 551.5 1011.9 552.5 1011.5 553.5 1011.3 554.5 1011.5 555.5 1012.2 556.5 1011.5 557.5 1012.3 558.5 1012.0 559.5 1012.5 560.5 1012.2 561.5 1011.6 562.5 1010.5 563.5 1011.9 564.5 1012.2 565.5 1011.8 566.5 1012.1 567.5 1011.4 568.5 1011.5 569.5 1011.2 570.5 1012.6 571.5 1011.9 572.5 1011.5 573.5 1011.0 574.5 1011.7 575.5 1012.7 576.5 1012.1 577.5 1011.4 578.5 1012.7 579.5 1012.7 580.5 1012.4 581.5 1012.3 582.5 1012.5 583.5 1012.2 584.5 1012.3 585.5 1011.4 586.5 1012.8 587.5 1012.0 588.5 1013.1 589.5 1010.7 590.5 1012.3 591.5 1012.5 592.5 1011.7 593.5 1012.2 594.5 1012.4 595.5 1012.3 596.5 1011.6 597.5 1011.9 598.5 1012.6 599.5 1012.7 600.5 1012.0 601.5 1012.0 602.5 1012.1 603.5 1012.6 604.5 1011.4 605.5 1011.2 606.5 1012.1 607.5 1011.4 608.5 1011.7 609.5 1012.1 610.5 1012.3 611.5 1011.4 612.5 1012.5 613.5 1011.0 614.5 1012.4 615.5 1011.1 616.5 1011.3 617.5 1012.5 618.5 1011.9 619.5 1011.6 620.5 1011.8 621.5 1012.4 622.5 1012.1 623.5 1012.1 624.5 1012.8 625.5 1011.7 626.5 1011.9 627.5 1011.9 628.5 1012.9 629.5 1012.8 630.5 1013.0 631.5 1012.2 632.5 1012.1 633.5 1012.7 634.5 1012.0 635.5 1012.7 636.5 1012.7 637.5 1011.8 638.5 1012.2 639.5 1012.2 640.5 1013.3 641.5 1013.8 642.5 1012.2 643.5 1012.3 644.5 1010.9 645.5 1012.4 646.5 1012.3 647.5 1011.7 648.5 1012.8 649.5 1011.4 650.5 1012.2 651.5 1012.4 652.5 1011.6 653.5 1012.9 654.5 1013.0 655.5 1011.5 656.5 1011.5 657.5 1012.7 658.5 1012.4 659.5 1011.7 660.5 1012.2 661.5 1012.3 662.5 1012.3 663.5 1012.9 664.5 1012.7 665.5 1013.5 666.5 1013.3 667.5 1012.9 668.5 1013.1 669.5 1013.3 670.5 1013.0 671.5 1011.8 672.5 1013.1 673.5 1012.7 674.5 1013.7 675.5 1012.8 676.5 1013.1 677.5 1013.0 678.5 1013.9 679.5 1013.0 680.5 1012.8 681.5 1013.2 682.5 1012.8 683.5 1013.2 684.5 1013.2 685.5 1013.4 686.5 1014.4 687.5 1013.1 688.5 1013.4 689.5 1013.3 690.5 1013.9 691.5 1012.8 692.5 1013.2 693.5 1013.6 694.5 1014.0 695.5 1013.7 696.5 1013.5 697.5 1013.3 698.5 1014.2 699.5 1014.8 700.5 1014.2 701.5 1014.1 702.5 1014.4 703.5 1013.6 704.5 1014.0 705.5 1014.1 706.5 1014.5 707.5 1014.3 708.5 1013.7 709.5 1015.1 710.5 1015.5 711.5 1014.4 712.5 1014.8 713.5 1014.8 714.5 1015.2 715.5 1013.8 716.5 1015.7 717.5 1014.5 718.5 1015.6 719.5 1014.9 720.5 1014.7 721.5 1014.9 722.5 1015.5 723.5 1014.5 724.5 1014.8 725.5 1014.8 726.5 1014.1 727.5 1015.9 728.5 1015.5 729.5 1015.1 730.5 1015.9 731.5 1014.6 732.5 1015.2 733.5 1016.3 734.5 1015.8 735.5 1013.9 736.5 1013.3 737.5 1014.7 738.5 1016.0 739.5 1015.1 740.5 1015.2 741.5 1015.7 742.5 1014.9 743.5 1015.5 744.5 1015.9 745.5 1015.7 746.5 1015.7 747.5 1015.1 748.5 1015.8 749.5 1015.3 750.5 1016.3 751.5 1017.1 752.5 1015.1 753.5 1014.3 754.5 1015.4 755.5 1015.9 756.5 1016.3 757.5 1016.3 758.5 1015.2 759.5 1015.2 760.5 1016.5 761.5 1015.1 762.5 1016.4 763.5 1015.6 764.5 1016.3 765.5 1016.2 766.5 1016.3 767.5 1016.3 768.5 1015.3 769.5 1016.1 770.5 1015.9 771.5 1016.1 772.5 1016.7 773.5 1015.8 774.5 1015.6 775.5 1015.6 776.5 1015.8 777.5 1016.5 778.5 1015.6 779.5 1016.8 780.5 1016.3 781.5 1016.0 782.5 1015.3 783.5 1016.3 784.5 1016.6 785.5 1015.1 786.5 1016.9 787.5 1017.2 788.5 1016.4 789.5 1016.6 790.5 1017.7 791.5 1017.0 792.5 1015.8 793.5 1016.3 794.5 1016.2 795.5 1016.3 796.5 1014.9 797.5 1016.8 798.5 1016.0 799.5 1016.5 800.5 1016.3 801.5 1016.9 802.5 1016.2 803.5 1015.9 804.5 1016.7 805.5 1017.2 806.5 1016.1 807.5 1017.1 808.5 1016.4 809.5 1015.9 810.5 1017.2 811.5 1015.7 812.5 1016.8 813.5 1015.9 814.5 1016.4 815.5 1015.4 816.5 1015.6 817.5 1016.7 818.5 1016.2 819.5 1016.1 820.5 1015.8 821.5 1016.3 822.5 1015.2 823.5 1015.3 824.5 1015.9 825.5 1015.4 826.5 1015.5 827.5 1015.9 828.5 1015.8 829.5 1015.7 830.5 1016.8 831.5 1016.4 832.5 1016.5 833.5 1015.8 834.5 1015.5 835.5 1014.9 836.5 1015.5 837.5 1014.5 838.5 1015.3 839.5 1016.1 840.5 1016.6 841.5 1016.2 842.5 1015.1 843.5 1015.9 844.5 1015.1 845.5 1016.0 846.5 1015.5 847.5 1016.0 848.5 1017.0 849.5 1016.0 850.5 1016.8 851.5 1015.5 852.5 1015.2 853.5 1016.2 854.5 1016.4 855.5 1015.0 856.5 1015.4 857.5 1014.4 858.5 1015.2 859.5 1015.8 860.5 1015.2 861.5 1014.9 862.5 1014.3 863.5 1015.4 864.5 1015.6 865.5 1015.5 866.5 1015.3 867.5 1014.3 868.5 1016.1 869.5 1015.0 870.5 1014.9 871.5 1015.4 872.5 1013.7 873.5 1014.9 874.5 1014.8 875.5 1015.1 876.5 1015.7 877.5 1015.1 878.5 1013.7 879.5 1014.5 880.5 1014.8 881.5 1014.7 882.5 1013.8 883.5 1013.6 884.5 1014.8 885.5 1014.6 886.5 1014.4 887.5 1013.3 888.5 1015.3 889.5 1012.5 890.5 1013.9 891.5 1015.3 892.5 1013.9 893.5 1014.1 894.5 1013.2 895.5 1014.6 896.5 1013.0 897.5 1013.8 898.5 1013.7 899.5 1012.9 900.5 1014.0 901.5 1012.5 902.5 1012.9 903.5 1013.2 904.5 1012.9 905.5 1013.4 906.5 1013.6 907.5 1012.8 908.5 1012.6 909.5 1012.5 910.5 1012.5 911.5 1013.1 912.5 1012.4 913.5 1012.7 914.5 1012.3 915.5 1011.8 916.5 1012.7 917.5 1011.5 918.5 1012.0 919.5 1012.8 920.5 1011.2 921.5 1011.7 922.5 1010.7 923.5 1011.2 924.5 1010.5 925.5 1011.1 926.5 1010.8 927.5 1011.1 928.5 1011.8 929.5 1010.9 930.5 1011.0 931.5 1010.4 932.5 1010.2 933.5 1009.6 934.5 1008.9 935.5 1009.8 936.5 1010.5 937.5 1009.6 938.5 1008.7 939.5 1009.7 940.5 1008.1 941.5 1007.6 942.5 1006.8 943.5 1006.3 944.5 1006.0 945.5 1006.5 946.5 1004.1 947.5 1002.2 948.5 1000.7 949.5 998.5 950.5 993.9 951.5 989.3 952.5 980.4 953.5 965.1 954.5 942.5 955.5 909.6 956.5 870.5 957.5 834.4 958.5 813.3 959.5 821.3 960.5 855.7 961.5 895.5 962.5 930.9 963.5 957.1 964.5 974.6 965.5 986.4 966.5 993.3 967.5 997.5 968.5 999.3 969.5 1000.7 970.5 1003.6 971.5 1004.3 972.5 1006.4 973.5 1007.5 974.5 1007.9 975.5 1008.1 976.5 1008.8 977.5 1009.9 978.5 1009.1 979.5 1010.4 980.5 1010.5 981.5 1010.5 982.5 1011.4 983.5 1010.3 984.5 1011.4 985.5 1010.5 986.5 1010.7 987.5 1010.6 988.5 1011.7 989.5 1010.9 990.5 1011.6 991.5 1011.0 992.5 1012.4 993.5 1012.9 994.5 1012.1 995.5 1013.0 996.5 1012.4 997.5 1013.4 998.5 1012.2 999.5 1011.3 1000.5 1013.2 1001.5 1012.3 1002.5 1011.8 1003.5 1012.0 1004.5 1011.5 1005.5 1012.4 1006.5 1011.9 1007.5 1013.5 1008.5 1013.1 1009.5 1011.7 1010.5 1011.9 1011.5 1012.5 1012.5 1011.7 1013.5 1012.8 1014.5 1012.9 1015.5 1012.5 1016.5 1012.7 1017.5 1013.3 1018.5 1013.9 1019.5 1014.0 1020.5 1013.2 1021.5 1013.7 1022.5 1012.8 1023.5 1013.5 1024.5 1012.7 1025.5 1013.8 1026.5 1012.6 1027.5 1012.8 1028.5 1013.4 1029.5 1013.8 1030.5 1012.6 1031.5 1013.2 1032.5 1013.6 1033.5 1013.7 1034.5 1013.1 1035.5 1013.7 1036.5 1013.5 1037.5 1014.5 1038.5 1014.1 1039.5 1013.0 1040.5 1012.5 1041.5 1013.9 1042.5 1014.5 1043.5 1014.0 1044.5 1014.4 1045.5 1013.6 1046.5 1013.1 1047.5 1014.4 1048.5 1014.1 1049.5 1014.4 1050.5 1013.2 1051.5 1014.2 1052.5 1013.7 1053.5 1014.6 1054.5 1013.8 1055.5 1013.8 1056.5 1013.9 1057.5 1015.0 1058.5 1014.3 1059.5 1013.8 1060.5 1013.7 1061.5 1013.7 1062.5 1015.2 1063.5 1013.3 1064.5 1013.9 1065.5 1014.8 1066.5 1015.2 1067.5 1014.4 1068.5 1015.0 1069.5 1015.0 1070.5 1015.1 1071.5 1014.6 1072.5 1015.6 1073.5 1014.8 1074.5 1015.6 1075.5 1014.0 1076.5 1015.3 1077.5 1014.0 1078.5 1013.8 1079.5 1015.1 1080.5 1014.3 1081.5 1015.1 1082.5 1014.2 1083.5 1015.8 1084.5 1014.9 1085.5 1014.2 1086.5 1015.0 1087.5 1015.5 1088.5 1014.5 1089.5 1015.3 1090.5 1016.2 1091.5 1015.5 1092.5 1015.0 1093.5 1014.7 1094.5 1015.4 1095.5 1014.1 1096.5 1013.2 1097.5 1014.6 1098.5 1014.4 1099.5 1016.1 1100.5 1015.1 1101.5 1014.4 1102.5 1014.3 1103.5 1015.3 1104.5 1014.4 1105.5 1014.5 1106.5 1014.8 1107.5 1014.8 1108.5 1014.8 1109.5 1014.7 1110.5 1015.3 1111.5 1015.4 1112.5 1013.2 1113.5 1015.6 1114.5 1013.8 1115.5 1014.2 1116.5 1012.6 1117.5 1012.6 1118.5 1011.6 1119.5 1010.1 1120.5 1007.9 1121.5 1003.2 1122.5 994.4 1123.5 983.2 1124.5 968.5 1125.5 952.8 1126.5 942.5 1127.5 945.2 1128.5 958.4 1129.5 974.0 1130.5 987.9 1131.5 999.7 1132.5 1005.0 1133.5 1009.0 1134.5 1010.6 1135.5 1013.1 1136.5 1014.2 1137.5 1013.6 1138.5 1014.5 1139.5 1014.1 1140.5 1015.9 1141.5 1015.6 1142.5 1014.8 1143.5 1016.2 1144.5 1015.8 1145.5 1016.0 1146.5 1016.0 1147.5 1015.5 1148.5 1015.7 1149.5 1016.5 1150.5 1016.2 1151.5 1015.7 1152.5 1017.5 1153.5 1016.3 1154.5 1016.1 1155.5 1016.1 1156.5 1017.0 1157.5 1017.2 1158.5 1016.8 1159.5 1017.2 1160.5 1015.8 1161.5 1016.5 1162.5 1016.5 1163.5 1016.9 1164.5 1017.2 1165.5 1015.7 1166.5 1018.8 1167.5 1016.5 1168.5 1017.2 1169.5 1017.6 1170.5 1017.6 1171.5 1017.3 1172.5 1015.4 1173.5 1016.5 1174.5 1017.7 1175.5 1016.7 1176.5 1016.6 1177.5 1015.9 1178.5 1018.1 1179.5 1017.7 1180.5 1016.9 1181.5 1017.3 1182.5 1017.4 1183.5 1016.8 1184.5 1017.3 1185.5 1017.7 1186.5 1017.9 1187.5 1018.3 1188.5 1017.6 1189.5 1017.4 1190.5 1017.9 1191.5 1017.3 1192.5 1017.0 1193.5 1018.4 1194.5 1017.5 1195.5 1017.9 1196.5 1018.2 1197.5 1017.2 1198.5 1018.2 1199.5 1018.1 1200.5 1017.8 1201.5 1018.1 1202.5 1017.5 1203.5 1016.6 1204.5 1017.8 1205.5 1017.4 1206.5 1018.5 1207.5 1018.1 1208.5 1017.6 1209.5 1018.0 1210.5 1018.8 1211.5 1018.7 1212.5 1018.2 1213.5 1018.2 1214.5 1017.8 1215.5 1017.9 1216.5 1018.3 1217.5 1017.9 1218.5 1018.2 1219.5 1017.3 1220.5 1017.0 1221.5 1017.0 1222.5 1017.7 1223.5 1018.8 1224.5 1018.7 1225.5 1017.4 1226.5 1017.1 1227.5 1018.5 1228.5 1018.3 1229.5 1017.2 1230.5 1018.7 1231.5 1018.1 1232.5 1018.8 1233.5 1018.3 1234.5 1018.6 1235.5 1018.2 1236.5 1017.5 1237.5 1017.9 1238.5 1017.7 1239.5 1018.6 1240.5 1017.5 1241.5 1017.1 1242.5 1018.5 1243.5 1018.8 1244.5 1018.9 1245.5 1018.7 1246.5 1017.2 1247.5 1017.7 1248.5 1017.8 1249.5 1018.1 1250.5 1016.8 1251.5 1018.1 1252.5 1018.3 1253.5 1017.5 1254.5 1018.2 1255.5 1018.8 1256.5 1018.1 1257.5 1018.7 1258.5 1018.7 1259.5 1018.4 1260.5 1018.4 1261.5 1017.9 1262.5 1018.9 1263.5 1017.9 1264.5 1017.7 1265.5 1018.6 1266.5 1017.7 1267.5 1018.4 1268.5 1018.8 1269.5 1018.2 1270.5 1018.2 1271.5 1018.7 1272.5 1018.6 1273.5 1017.2 1274.5 1017.4 1275.5 1019.0 1276.5 1018.4 1277.5 1016.9 1278.5 1017.4 1279.5 1018.2 1280.5 1017.6 1281.5 1018.5 1282.5 1018.2 1283.5 1018.5 1284.5 1017.5 1285.5 1018.6 1286.5 1019.4 1287.5 1017.7 1288.5 1019.0 1289.5 1018.8 1290.5 1018.6 1291.5 1018.2 1292.5 1017.5 1293.5 1017.7 1294.5 1018.7 1295.5 1018.8 1296.5 1019.0 1297.5 1018.8 1298.5 1018.8 1299.5 1018.0 1300.5 1017.5 1301.5 1018.4 1302.5 1018.5 1303.5 1018.3 1304.5 1017.3 1305.5 1017.9 1306.5 1017.4 1307.5 1018.3 1308.5 1017.6 1309.5 1018.2 1310.5 1018.5 1311.5 1018.4 1312.5 1019.1 1313.5 1017.6 1314.5 1017.0 1315.5 1018.9 1316.5 1019.1 1317.5 1019.1 1318.5 1018.5 1319.5 1018.6 1320.5 1018.4 1321.5 1017.5 1322.5 1018.0 1323.5 1018.6 1324.5 1018.0 1325.5 1019.5 1326.5 1017.4 1327.5 1018.1 1328.5 1019.0 1329.5 1018.0 1330.5 1017.6 1331.5 1017.5 1332.5 1017.9 1333.5 1019.2 1334.5 1018.6 1335.5 1018.6 1336.5 1018.0 1337.5 1018.9 1338.5 1018.4 1339.5 1017.8 1340.5 1018.1 1341.5 1018.5 1342.5 1019.1 1343.5 1018.3 1344.5 1018.7 1345.5 1019.6 1346.5 1017.9 1347.5 1017.6 1348.5 1019.0 1349.5 1018.6 1350.5 1018.3 1351.5 1018.5 1352.5 1018.2 1353.5 1018.7 1354.5 1018.2 1355.5 1018.9 1356.5 1017.7 1357.5 1017.9 1358.5 1018.5 1359.5 1018.1 1360.5 1018.8 1361.5 1018.4 1362.5 1018.1 1363.5 1018.5 1364.5 1018.1 1365.5 1017.5 1366.5 1017.7 1367.5 1017.9 1368.5 1018.1 1369.5 1018.5 1370.5 1019.0 1371.5 1018.8 1372.5 1019.5 1373.5 1019.2 1374.5 1018.3 1375.5 1019.4 1376.5 1019.2 1377.5 1018.2 1378.5 1018.6 1379.5 1019.1 1380.5 1018.6 1381.5 1019.1 1382.5 1018.7 1383.5 1018.9 1384.5 1018.3 1385.5 1018.7 1386.5 1018.3 1387.5 1018.9 1388.5 1017.5 1389.5 1018.7 1390.5 1019.2 1391.5 1018.8 1392.5 1018.5 1393.5 1018.8 1394.5 1018.0 1395.5 1018.0 1396.5 1018.3 1397.5 1018.4 1398.5 1019.1 1399.5 1018.0 1400.5 1019.1 1401.5 1017.6 1402.5 1018.0 1403.5 1018.5 1404.5 1019.2 1405.5 1018.2 1406.5 1017.2 1407.5 1018.8 1408.5 1018.5 1409.5 1017.9 1410.5 1017.9 1411.5 1018.1 1412.5 1018.6 1413.5 1018.9 1414.5 1017.7 1415.5 1019.9 1416.5 1018.5 1417.5 1018.3 1418.5 1019.0 1419.5 1018.6 1420.5 1020.0 1421.5 1019.2 1422.5 1018.3 1423.5 1018.3 1424.5 1018.3 1425.5 1018.4 1426.5 1019.0 1427.5 1018.2 1428.5 1019.6 1429.5 1018.5 1430.5 1018.5 1431.5 1019.2 1432.5 1017.4 1433.5 1018.0 1434.5 1019.0 1435.5 1018.6 1436.5 1018.6 1437.5 1018.8 1438.5 1018.2 1439.5 1018.5 1440.5 1017.8 1441.5 1017.5 1442.5 1019.4 1443.5 1018.1 1444.5 1018.2 1445.5 1019.5 1446.5 1019.3 1447.5 1018.3 1448.5 1018.3 1449.5 1018.6 1450.5 1018.1 1451.5 1019.0 1452.5 1018.7 1453.5 1018.7 1454.5 1019.1 1455.5 1019.1 1456.5 1019.8 1457.5 1019.6 1458.5 1017.6 1459.5 1019.2 1460.5 1018.0 1461.5 1017.8 1462.5 1019.1 1463.5 1018.2 1464.5 1018.5 1465.5 1019.3 1466.5 1018.3 1467.5 1018.1 1468.5 1018.9 1469.5 1019.4 1470.5 1019.0 1471.5 1017.8 1472.5 1018.3 1473.5 1018.6 1474.5 1019.9 1475.5 1019.2 1476.5 1019.2 1477.5 1019.4 1478.5 1018.5 1479.5 1019.0 1480.5 1019.0 1481.5 1018.1 1482.5 1018.7 1483.5 1019.1 1484.5 1018.1 1485.5 1019.2 1486.5 1019.2 1487.5 1019.3 1488.5 1018.3 1489.5 1018.8 1490.5 1019.6 1491.5 1019.2 1492.5 1018.3 1493.5 1018.9 1494.5 1019.6 1495.5 1018.7 1496.5 1019.0 1497.5 1020.3 1498.5 1018.7 1499.5 1018.7 1500.5 1018.2 1501.5 1018.4 1502.5 1019.7 1503.5 1018.7 1504.5 1018.1 1505.5 1018.2 1506.5 1018.8 1507.5 1019.2 1508.5 1018.3 1509.5 1019.2 1510.5 1018.5 1511.5 1019.0 1512.5 1019.1 1513.5 1019.2 1514.5 1018.5 1515.5 1018.7 1516.5 1019.1 1517.5 1018.0 1518.5 1018.9 1519.5 1019.1 1520.5 1019.4 1521.5 1018.8 1522.5 1018.7 1523.5 1018.9 1524.5 1018.4 1525.5 1018.7 1526.5 1019.1 1527.5 1019.0 1528.5 1018.2 1529.5 1018.6 1530.5 1017.5 1531.5 1019.3 1532.5 1018.5 1533.5 1019.0 1534.5 1018.2 1535.5 1018.8 1536.5 1019.1 1537.5 1019.4 1538.5 1018.0 1539.5 1019.3 1540.5 1018.7 1541.5 1018.4 1542.5 1019.1 1543.5 1018.7 1544.5 1018.7 1545.5 1018.4 1546.5 1019.0 1547.5 1018.9 1548.5 1018.7 1549.5 1018.3 1550.5 1018.5 1551.5 1019.1 1552.5 1019.6 1553.5 1018.8 1554.5 1019.7 1555.5 1018.9 1556.5 1018.2 1557.5 1019.2 1558.5 1018.3 1559.5 1019.1 1560.5 1019.5 1561.5 1018.7 1562.5 1018.8 1563.5 1020.4 1564.5 1019.0 1565.5 1019.0 1566.5 1019.4 1567.5 1018.8 1568.5 1018.8 1569.5 1019.1 1570.5 1017.5 1571.5 1019.7 1572.5 1018.3 1573.5 1018.3 1574.5 1019.2 1575.5 1018.9 1576.5 1018.2 1577.5 1019.0 1578.5 1018.2 1579.5 1018.5 1580.5 1018.0 1581.5 1018.4 1582.5 1019.2 1583.5 1019.0 1584.5 1019.1 1585.5 1019.5 1586.5 1018.9 1587.5 1018.5 1588.5 1018.8 1589.5 1019.9 1590.5 1019.0 1591.5 1019.1 1592.5 1018.9 1593.5 1019.1 1594.5 1019.2 1595.5 1018.9 1596.5 1018.9 1597.5 1018.5 1598.5 1018.4 1599.5 1019.2 1600.5 1019.4 1601.5 1019.5 1602.5 1019.0 1603.5 1018.5 1604.5 1019.3 1605.5 1019.3 1606.5 1018.1 1607.5 1019.4 1608.5 1019.3 1609.5 1020.0 1610.5 1018.3 1611.5 1018.2 1612.5 1019.4 1613.5 1017.9 1614.5 1018.5 1615.5 1018.3 1616.5 1018.4 1617.5 1017.8 1618.5 1018.8 1619.5 1019.6 1620.5 1019.2 1621.5 1019.3 1622.5 1018.8 1623.5 1019.9 1624.5 1019.3 1625.5 1019.6 1626.5 1018.1 1627.5 1019.2 1628.5 1018.3 1629.5 1019.2 1630.5 1019.1 1631.5 1018.3 1632.5 1019.1 1633.5 1019.7 1634.5 1019.3 1635.5 1019.3 1636.5 1018.5 1637.5 1018.6 1638.5 1018.3 1639.5 1019.1 1640.5 1019.7 1641.5 1019.2 1642.5 1019.0 1643.5 1018.3 1644.5 1019.2 1645.5 1018.8 1646.5 1017.8 1647.5 1017.9 1648.5 1018.7 1649.5 1018.4 1650.5 1019.9 1651.5 1018.9 1652.5 1018.3 1653.5 1018.6 1654.5 1019.8 1655.5 1018.3 1656.5 1019.3 1657.5 1019.1 1658.5 1019.7 1659.5 1019.1 1660.5 1018.5 1661.5 1019.0 1662.5 1018.7 1663.5 1019.2 1664.5 1018.6 1665.5 1019.7 1666.5 1018.4 1667.5 1018.7 1668.5 1017.9 1669.5 1018.3 1670.5 1018.0 1671.5 1017.9 1672.5 1018.1 1673.5 1016.8 1674.5 1015.9 1675.5 1016.0 1676.5 1013.5 1677.5 1010.6 1678.5 1008.1 1679.5 1003.3 1680.5 996.0 1681.5 992.0 1682.5 988.6 1683.5 987.0 1684.5 987.8 1685.5 993.2 1686.5 997.1 1687.5 1002.7 1688.5 1007.6 1689.5 1011.1 1690.5 1014.1 1691.5 1016.0 1692.5 1016.5 1693.5 1018.0 1694.5 1017.2 1695.5 1017.8 1696.5 1019.1 1697.5 1018.3 1698.5 1019.0 1699.5 1018.2 1700.5 1018.4 1701.5 1018.6 1702.5 1018.8 1703.5 1018.6 1704.5 1018.8 1705.5 1019.3 1706.5 1019.6 1707.5 1019.0 1708.5 1019.3 1709.5 1019.5 1710.5 1018.4 1711.5 1018.1 1712.5 1020.0 1713.5 1019.9 1714.5 1019.1 1715.5 1019.3 1716.5 1018.6 1717.5 1018.3 1718.5 1019.3 1719.5 1018.3 1720.5 1019.7 1721.5 1018.8 1722.5 1019.4 1723.5 1020.4 1724.5 1020.3 1725.5 1019.0 1726.5 1019.9 1727.5 1018.6 1728.5 1018.9 1729.5 1019.5 1730.5 1020.1 1731.5 1018.9 1732.5 1019.6 1733.5 1019.3 1734.5 1018.5 1735.5 1019.2 1736.5 1020.2 1737.5 1019.2 1738.5 1019.6 1739.5 1019.8 1740.5 1018.9 1741.5 1020.0 1742.5 1020.2 1743.5 1020.3 1744.5 1020.1 1745.5 1019.0 1746.5 1019.0 1747.5 1018.9 1748.5 1018.8 1749.5 1018.9 1750.5 1019.9 1751.5 1020.2 1752.5 1019.0 1753.5 1019.8 1754.5 1018.6 1755.5 1019.2 1756.5 1018.8 1757.5 1018.4 1758.5 1019.4 1759.5 1019.4 1760.5 1019.1 1761.5 1019.1 1762.5 1018.8 1763.5 1019.3 1764.5 1019.0 1765.5 1019.5 1766.5 1018.7 1767.5 1019.5 1768.5 1019.7 1769.5 1020.1 1770.5 1020.0 1771.5 1019.5 1772.5 1019.0 1773.5 1018.3 1774.5 1019.4 1775.5 1020.3 1776.5 1020.4 1777.5 1017.9 1778.5 1019.0 1779.5 1019.2 1780.5 1018.8 1781.5 1019.5 1782.5 1019.5 1783.5 1019.1 1784.5 1019.4 1785.5 1018.5 1786.5 1018.9 1787.5 1018.9 1788.5 1020.0 1789.5 1018.5 1790.5 1019.3 1791.5 1019.9 1792.5 1019.4 1793.5 1020.0 1794.5 1019.1 1795.5 1019.7 1796.5 1020.0 1797.5 1020.8 1798.5 1019.9 1799.5 1020.3 1800.5 1019.5 1801.5 1019.6 1802.5 1020.4 1803.5 1019.8 1804.5 1020.4 1805.5 1019.9 1806.5 1020.8 1807.5 1020.9 1808.5 1019.0 1809.5 1020.6 1810.5 1019.8 1811.5 1019.8 1812.5 1019.5 1813.5 1020.0 1814.5 1018.9 1815.5 1019.1 1816.5 1019.1 1817.5 1019.7 1818.5 1020.1 1819.5 1020.0 1820.5 1019.8 1821.5 1019.2 1822.5 1018.5 1823.5 1019.8 1824.5 1019.7 1825.5 1019.8 1826.5 1020.4 1827.5 1019.5 1828.5 1019.5 1829.5 1018.2 1830.5 1019.9 1831.5 1019.6 1832.5 1019.1 1833.5 1019.8 1834.5 1019.0 1835.5 1019.3 1836.5 1020.8 1837.5 1020.1 1838.5 1020.2 1839.5 1020.1 1840.5 1020.0 1841.5 1019.7 1842.5 1021.0 1843.5 1019.6 1844.5 1020.1 1845.5 1019.5 1846.5 1019.4 1847.5 1018.2 1848.5 1018.5 1849.5 1020.6 1850.5 1020.5 1851.5 1019.4 1852.5 1019.6 1853.5 1020.0 1854.5 1019.0 1855.5 1020.7 1856.5 1019.0 1857.5 1019.2 1858.5 1018.0 1859.5 1020.6 1860.5 1019.7 1861.5 1020.6 1862.5 1019.1 1863.5 1019.9 1864.5 1019.7 1865.5 1019.8 1866.5 1020.9 1867.5 1021.0 1868.5 1020.5 1869.5 1019.4 1870.5 1020.2 1871.5 1020.5 1872.5 1020.0 1873.5 1020.0 1874.5 1020.0 1875.5 1019.1 1876.5 1019.8 1877.5 1020.7 1878.5 1019.1 1879.5 1019.7 1880.5 1020.2 1881.5 1018.9 1882.5 1019.6 1883.5 1018.7 1884.5 1019.3 1885.5 1018.9 1886.5 1019.2 1887.5 1019.4 1888.5 1019.6 1889.5 1019.6 1890.5 1018.3 1891.5 1020.7 1892.5 1019.6 1893.5 1019.1 1894.5 1019.4 1895.5 1019.9 1896.5 1019.1 1897.5 1019.5 1898.5 1019.5 1899.5 1020.1 1900.5 1019.3 1901.5 1020.0 1902.5 1020.0 1903.5 1019.7 1904.5 1020.5 1905.5 1019.8 1906.5 1019.1 1907.5 1019.9 1908.5 1019.8 1909.5 1019.7 1910.5 1019.9 1911.5 1021.2 1912.5 1019.9 1913.5 1020.1 1914.5 1019.6 1915.5 1020.6 1916.5 1019.8 1917.5 1019.3 1918.5 1019.1 1919.5 1020.1 1920.5 1020.2 1921.5 1018.8 1922.5 1019.4 1923.5 1020.2 1924.5 1020.4 1925.5 1019.0 1926.5 1019.6 1927.5 1020.3 1928.5 1019.5 1929.5 1019.5 1930.5 1019.5 1931.5 1019.0 1932.5 1019.9 1933.5 1020.0 1934.5 1019.0 1935.5 1019.9 1936.5 1020.5 1937.5 1020.0 1938.5 1020.4 1939.5 1019.5 1940.5 1020.7 1941.5 1019.4 1942.5 1021.0 1943.5 1019.6 1944.5 1019.4 1945.5 1019.3 1946.5 1019.6 1947.5 1019.6 1948.5 1019.5 1949.5 1019.7 1950.5 1020.3 1951.5 1020.4 1952.5 1019.7 1953.5 1020.6 1954.5 1019.3 1955.5 1019.3 1956.5 1019.2 1957.5 1020.2 1958.5 1019.0 1959.5 1019.1 1960.5 1020.7 1961.5 1020.9 1962.5 1020.7 1963.5 1019.0 1964.5 1019.9 1965.5 1020.4 1966.5 1020.0 1967.5 1018.9 1968.5 1019.7 1969.5 1018.9 1970.5 1019.2 1971.5 1021.2 1972.5 1020.3 1973.5 1019.0 1974.5 1019.0 1975.5 1020.2 1976.5 1019.6 1977.5 1020.3 1978.5 1019.5 1979.5 1019.8 1980.5 1020.1 1981.5 1019.3 1982.5 1018.8 1983.5 1019.2 1984.5 1019.5 1985.5 1019.8 1986.5 1019.9 1987.5 1019.9 1988.5 1020.3 1989.5 1019.4 1990.5 1020.8 1991.5 1021.2 1992.5 1020.2 1993.5 1020.1" stroke="#00AD66"/>
<path d="M173.5 1203.0L174.5 1203.3 175.5 1204.3 176.5 1203.7 177.5 1202.3 178.5 1203.3 179.5 1202.8 180.5 1203.3 181.5 1202.2 182.5 1203.2 183.5 1203.2 184.5 1204.0 185.5 1203.2 186.5 1203.2 187.5 1202.0 188.5 1204.2 189.5 1201.7 190.5 1203.4 191.5 1202.5 192.5 1202.2 193.5 1202.3 194.5 1202.2 195.5 1202.8 196.5 1202.5 197.5 1203.4 198.5 1201.3 199.5 1202.4 200.5 1201.8 201.5 1202.8 202.5 1201.0 203.5 1202.0 204.5 1202.3 205.5 1201.3 206.5 1202.7 207.5 1202.2 208.5 1202.6 209.5 1202.5 210.5 1201.3 211.5 1201.4 212.5 1201.7 213.5 1202.3 214.5 1202.3 215.5 1201.3 216.5 1201.3 217.5 1201.2 218.5 1201.2 219.5 1201.4 220.5 1201.4 221.5 1202.7 222.5 1201.1 223.5 1201.2 224.5 1201.6 225.5 1200.7 226.5 1201.0 227.5 1201.2 228.5 1201.6 229.5 1200.3 230.5 1201.9 231.5 1200.8 232.5 1201.1 233.5 1201.5 234.5 1201.3 235.5 1201.5 236.5 1200.9 237.5 1200.8 238.5 1200.9 239.5 1200.1 240.5 1201.4 241.5 1200.1 242.5 1199.8 243.5 1201.7 244.5 1200.4 245.5 1199.7 246.5 1201.5 247.5 1200.1 248.5 1200.9 249.5 1199.8 250.5 1200.1 251.5 1199.1 252.5 1199.0 253.5 1199.5 254.5 1200.0 255.5 1200.5 256.5 1201.4 257.5 1199.3 258.5 1200.5 259.5 1199.4 260.5 1199.7 261.5 1198.8 262.5 1198.8 263.5 1199.2 264.5 1198.9 265.5 1199.5 266.5 1199.1 267.5 1200.2 268.5 1199.5 269.5 1199.5 270.5 1200.0 271.5 1199.6 272.5 1199.2 273.5 1199.1 274.5 1199.1 275.5 1199.7 276.5 1199.5 277.5 1199.2 278.5 1199.4 279.5 1198.6 280.5 1199.2 281.5 1198.0 282.5 1199.6 283.5 1198.8 284.5 1198.8 285.5 1199.0 286.5 1198.6 287.5 1198.4 288.5 1199.2 289.5 1198.5 290.5 1197.8 291.5 1198.5 292.5 1197.2 293.5 1199.1 294.5 1198.0 295.5 1198.0 296.5 1199.3 297.5 1199.1 298.5 1197.8 299.5 1198.1 300.5 1198.3 301.5 1198.5 302.5 1197.4 303.5 1197.4 304.5 1198.0 305.5 1197.4 306.5 1197.6 307.5 1197.4 308.5 1196.3 309.5 1196.4 310.5 1195.2 311.5 1196.5 312.5 1197.4 313.5 1195.9 314.5 1197.2 315.5 1197.0 316.5 1196.2 317.5 1196.2 318.5 1196.2 319.5 1195.5 320.5 1195.8 321.5 1195.8 322.5 1196.1 323.5 1196.2 324.5 1195.1 325.5 1196.0 326.5 1195.0 327.5 1195.2 328.5 1195.5 329.5 1195.1 330.5 1195.0 331.5 1195.1 332.5 1194.6 333.5 1194.4 334.5 1194.6 335.5 1195.2 336.5 1194.5 337.5 1195.6 338.5 1194.6 339.5 1192.6 340.5 1194.0 341.5 1195.2 342.5 1194.2 343.5 1193.9 344.5 1193.6 345.5 1194.9 346.5 1194.6 347.5 1194.4 348.5 1194.3 349.5 1194.8 350.5 1194.4 351.5 1193.2 352.5 1194.4 353.5 1194.0 354.5 1193.8 355.5 1194.3 356.5 1193.8 357.5 1192.0 358.5 1194.7 359.5 1194.4 360.5 1193.6 361.5 1193.5 362.5 1193.8 363.5 1192.9 364.5 1193.8 365.5 1193.4 366.5 1193.3 367.5 1193.0 368.5 1193.1 369.5 1194.1 370.5 1194.2 371.5 1193.7 372.5 1193.4 373.5 1192.8 374.5 1193.7 375.5 1194.3 376.5 1192.3 377.5 1193.9 378.5 1191.9 379.5 1192.9 380.5 1193.3 381.5 1192.3 382.5 1192.1 383.5 1193.1 384.5 1193.5 385.5 1192.6 386.5 1193.7 387.5 1192.4 388.5 1193.9 389.5 1192.8 390.5 1192.9 391.5 1193.0 392.5 1192.8 393.5 1193.7 394.5 1193.9 395.5 1192.8 396.5 1192.3 397.5 1191.7 398.5 1191.9 399.5 1192.3 400.5 1192.2 401.5 1192.2 402.5 1192.1 403.5 1192.4 404.5 1191.2 405.5 1191.3 406.5 1192.6 407.5 1192.3 408.5 1191.5 409.5 1192.5 410.5 1191.2 411.5 1191.4 412.5 1190.4 413.5 1192.0 414.5 1191.4 415.5 1192.0 416.5 1191.7 417.5 1191.2 418.5 1191.2 419.5 1191.8 420.5 1190.9 421.5 1190.8 422.5 1190.9 423.5 1191.2 424.5 1191.2 425.5 1191.7 426.5 1190.5 427.5 1191.2 428.5 1189.9 429.5 1190.6 430.5 1190.2 431.5 1191.1 432.5 1190.3 433.5 1189.6 434.5 1190.1 435.5 1189.9 436.5 1189.3 437.5 1189.2 438.5 1188.7 439.5 1190.8 440.5 1189.1 441.5 1189.5 442.5 1188.1 443.5 1188.0 444.5 1188.4 445.5 1188.3 446.5 1188.7 447.5 1187.5 448.5 1188.2 449.5 1188.6 450.5 1187.0 451.5 1187.9 452.5 1186.6 453.5 1187.2 454.5 1187.0 455.5 1187.7 456.5 1186.0 457.5 1186.3 458.5 1186.6 459.5 1185.0 460.5 1185.5 461.5 1184.7 462.5 1184.6 463.5 1185.1 464.5 1184.9 465.5 1185.7 466.5 1184.7 467.5 1184.3 468.5 1183.2 469.5 1182.8 470.5 1182.7 471.5 1180.9 472.5 1182.9 473.5 1181.1 474.5 1180.5 475.5 1180.4 476.5 1180.8 477.5 1180.6 478.5 1179.2 479.5 1179.2 480.5 1178.4 481.5 1177.3 482.5 1177.5 483.5 1176.9 484.5 1175.3 485.5 1176.3 486.5 1174.1 487.5 1174.6 488.5 1173.1 489.5 1172.6 490.5 1171.9 491.5 1172.0 492.5 1170.1 493.5 1169.9 494.5 1170.1 495.5 1167.9 496.5 1167.4 497.5 1166.9 498.5 1165.1 499.5 1164.8 500.5 1163.0 501.5 1162.8 502.5 1161.3 503.5 1159.5 504.5 1159.7 505.5 1157.6 506.5 1156.2 507.5 1154.5 508.5 1153.4 509.5 1152.3 510.5 1151.0 511.5 1150.1 512.5 1147.2 513.5 1146.3 514.5 1145.7 515.5 1143.6 516.5 1142.2 517.5 1141.3 518.5 1139.1 519.5 1137.6 520.5 1135.8 521.5 1135.5 522.5 1133.6 523.5 1131.2 524.5 1130.7 525.5 1128.5 526.5 1128.7 527.5 1127.4 528.5 1126.0 529.5 1125.1 530.5 1123.6 531.5 1124.6 532.5 1123.7 533.5 1123.4 534.5 1123.9 535.5 1123.2 536.5 1123.6 537.5 1124.0 538.5 1124.4 539.5 1127.5 540.5 1127.1 541.5 1128.2 542.5 1130.4 543.5 1129.5 544.5 1133.0 545.5 1134.7 546.5 1136.0 547.5 1138.7 548.5 1139.2 549.5 1142.4 550.5 1145.0 551.5 1145.2 552.5 1147.7 553.5 1150.5 554.5 1152.7 555.5 1154.3 556.5 1156.9 557.5 1158.8 558.5 1159.8 559.5 1162.4 560.5 1163.5 561.5 1164.8 562.5 1166.3 563.5 1170.0 564.5 1170.9 565.5 1173.7 566.5 1173.1 567.5 1175.2 568.5 1176.9 569.5 1177.9 570.5 1179.5 571.5 1180.4 572.5 1181.0 573.5 1181.0 574.5 1182.8 575.5 1185.3 576.5 1185.5 577.5 1186.7 578.5 1186.2 579.5 1187.1 580.5 1187.4 581.5 1188.7 582.5 1189.1 583.5 1189.8 584.5 1191.1 585.5 1189.9 586.5 1191.3 587.5 1190.4 588.5 1192.2 589.5 1191.6 590.5 1192.2 591.5 1192.6 592.5 1193.7 593.5 1192.9 594.5 1192.9 595.5 1192.7 596.5 1193.8 597.5 1193.3 598.5 1193.6 599.5 1194.1 600.5 1194.7 601.5 1194.0 602.5 1195.0 603.5 1195.8 604.5 1193.9 605.5 1195.8 606.5 1196.4 607.5 1194.9 608.5 1195.7 609.5 1194.6 610.5 1195.8 611.5 1195.5 612.5 1195.9 613.5 1195.3 614.5 1195.5 615.5 1195.8 616.5 1195.7 617.5 1195.9 618.5 1196.2 619.5 1195.7 620.5 1196.4 621.5 1196.8 622.5 1195.2 623.5 1196.8 624.5 1196.3 625.5 1196.2 626.5 1196.1 627.5 1196.5 628.5 1196.6 629.5 1197.4 630.5 1196.5 631.5 1197.9 632.5 1196.9 633.5 1197.8 634.5 1198.1 635.5 1196.8 636.5 1198.3 637.5 1199.0 638.5 1197.5 639.5 1198.2 640.5 1197.8 641.5 1198.0 642.5 1197.9 643.5 1197.8 644.5 1198.6 645.5 1198.8 646.5 1198.3 647.5 1199.3 648.5 1199.1 649.5 1198.9 650.5 1198.1 651.5 1199.7 652.5 1199.4 653.5 1197.4 654.5 1198.1 655.5 1198.5 656.5 1199.4 657.5 1199.7 658.5 1198.8 659.5 1199.2 660.5 1199.5 661.5 1198.4 662.5 1199.5 663.5 1199.0 664.5 1199.4 665.5 1199.3 666.5 1198.7 667.5 1198.8 668.5 1199.5 669.5 1199.6 670.5 1199.4 671.5 1200.2 672.5 1199.4 673.5 1198.9 674.5 1199.5 675.5 1199.6 676.5 1199.6 677.5 1200.4 678.5 1200.1 679.5 1200.4 680.5 1200.2 681.5 1199.7 682.5 1200.5 683.5 1199.7 684.5 1200.1 685.5 1199.3 686.5 1200.0 687.5 1199.8 688.5 1200.2 689.5 1201.1 690.5 1201.5 691.5 1200.7 692.5 1200.1 693.5 1200.6 694.5 1200.3 695.5 1199.8 696.5 1200.2 697.5 1200.1 698.5 1199.9 699.5 1201.1 700.5 1200.0 701.5 1200.0 702.5 1200.7 703.5 1199.9 704.5 1199.7 705.5 1199.9 706.5 1200.7 707.5 1200.7 708.5 1200.6 709.5 1200.2 710.5 1199.9 711.5 1201.1 712.5 1199.7 713.5 1200.4 714.5 1199.8 715.5 1200.3 716.5 1200.5 717.5 1201.4 718.5 1198.9 719.5 1201.5 720.5 1200.2 721.5 1200.9 722.5 1201.2 723.5 1200.3 724.5 1200.7 725.5 1201.1 726.5 1200.7 727.5 1200.4 728.5 1201.0 729.5 1200.9 730.5 1200.0 731.5 1201.7 732.5 1201.1 733.5 1199.5 734.5 1200.5 735.5 1202.0 736.5 1201.9 737.5 1201.2 738.5 1200.0 739.5 1200.9 740.5 1201.7 741.5 1201.3 742.5 1200.9 743.5 1200.7 744.5 1201.6 745.5 1201.0 746.5 1201.4 747.5 1201.5 748.5 1202.2 749.5 1201.3 750.5 1201.4 751.5 1200.2 752.5 1201.9 753.5 1201.8 754.5 1201.3 755.5 1200.0 756.5 1201.0 757.5 1201.4 758.5 1202.6 759.5 1201.7 760.5 1201.9 761.5 1201.9 762.5 1202.2 763.5 1200.8 764.5 1201.0 765.5 1200.8 766.5 1201.3 767.5 1201.3 768.5 1201.6 769.5 1200.9 770.5 1201.6 771.5 1201.1 772.5 1202.9 773.5 1201.3 774.5 1203.2 775.5 1202.6 776.5 1200.9 777.5 1202.2 778.5 1202.1 779.5 1200.8 780.5 1202.1 781.5 1201.7 782.5 1202.0 783.5 1201.3 784.5 1201.7 785.5 1202.0 786.5 1201.7 787.5 1201.5 788.5 1201.7 789.5 1201.3 790.5 1202.1 791.5 1200.3 792.5 1202.8 793.5 1201.9 794.5 1202.2 795.5 1202.5 796.5 1201.2 797.5 1203.3 798.5 1201.3 799.5 1202.3 800.5 1202.2 801.5 1202.8 802.5 1202.0 803.5 1201.2 804.5 1202.3 805.5 1200.6 806.5 1202.0 807.5 1201.8 808.5 1203.1 809.5 1202.0 810.5 1201.9 811.5 1201.7 812.5 1201.7 813.5 1201.8 814.5 1202.6 815.5 1201.4 816.5 1202.1 817.5 1201.4 818.5 1202.1 819.5 1202.4 820.5 1201.5 821.5 1201.9 822.5 1202.4 823.5 1202.8 824.5 1202.9 825.5 1202.3 826.5 1201.7 827.5 1201.4 828.5 1202.8 829.5 1203.2 830.5 1202.6 831.5 1203.3 832.5 1202.1 833.5 1202.2 834.5 1203.4 835.5 1201.8 836.5 1202.8 837.5 1202.7 838.5 1202.6 839.5 1203.5 840.5 1201.9 841.5 1202.2 842.5 1201.2 843.5 1201.9 844.5 1202.2 845.5 1202.3 846.5 1202.4 847.5 1202.7 848.5 1202.1 849.5 1201.3 850.5 1202.6 851.5 1202.8 852.5 1201.8 853.5 1202.1 854.5 1203.6 855.5 1203.2 856.5 1203.2 857.5 1203.0 858.5 1202.6 859.5 1202.2 860.5 1202.9 861.5 1202.4 862.5 1202.3 863.5 1202.5 864.5 1202.5 865.5 1203.0 866.5 1201.9 867.5 1204.0 868.5 1201.8 869.5 1202.2 870.5 1203.0 871.5 1201.9 872.5 1202.1 873.5 1202.3 874.5 1200.5 875.5 1201.9 876.5 1201.6 877.5 1202.0 878.5 1202.4 879.5 1202.4 880.5 1202.8 881.5 1202.7 882.5 1202.4 883.5 1201.7 884.5 1202.2 885.5 1200.9 886.5 1201.4 887.5 1202.2 888.5 1201.7 889.5 1200.3 890.5 1200.7 891.5 1201.5 892.5 1201.2 893.5 1201.3 894.5 1199.5 895.5 1199.7 896.5 1200.2 897.5 1199.6 898.5 1200.0 899.5 1199.9 900.5 1200.0 901.5 1199.5 902.5 1199.8 903.5 1199.8 904.5 1199.2 905.5 1198.2 906.5 1199.6 907.5 1198.8 908.5 1198.7 909.5 1198.4 910.5 1197.1 911.5 1198.3 912.5 1197.3 913.5 1196.8 914.5 1198.1 915.5 1197.0 916.5 1197.2 917.5 1197.3 918.5 1197.6 919.5 1195.3 920.5 1195.7 921.5 1196.4 922.5 1195.4 923.5 1193.6 924.5 1195.5 925.5 1195.3 926.5 1195.5 927.5 1194.9 928.5 1194.3 929.5 1194.5 930.5 1194.1 931.5 1193.7 932.5 1193.9 933.5 1193.7 934.5 1192.7 935.5 1193.7 936.5 1193.3 937.5 1193.0 938.5 1190.6 939.5 1192.0 940.5 1191.5 941.5 1190.6 942.5 1191.1 943.0 1189.6 943.5 1191.0 944.5 1189.9 945.5 1188.6 946.5 1188.8 947.5 1186.9 948.5 1184.8 949.5 1180.3 950.5 1175.2 951.5 1165.3 952.5 1148.7 953.5 1124.1 954.5 1097.4 955.5 1069.8 956.5 1053.0 957.5 1057.1 958.5 1079.5 959.5 1109.6 960.5 1137.1 961.5 1158.7 962.5 1173.3 963.5 1181.7 964.5 1186.6 965.5 1190.6 966.5 1192.2 967.5 1195.3 968.5 1194.9 969.5 1196.8 970.5 1197.7 971.5 1197.2 972.5 1198.9 973.5 1198.6 974.5 1198.6 975.5 1198.8 976.5 1199.7 977.5 1200.5 978.5 1198.9 979.5 1200.6 980.5 1200.2 981.5 1200.0 982.5 1200.5 983.5 1200.7 984.5 1200.7 985.5 1201.3 986.5 1200.3 987.5 1202.1 988.5 1201.5 989.5 1200.7 990.5 1199.9 991.5 1201.1 992.5 1200.9 993.5 1201.6 994.5 1201.6 995.5 1202.4 996.5 1201.2 997.5 1201.8 998.5 1201.1 999.5 1201.1 1000.5 1202.3 1001.5 1201.3 1002.5 1201.4 1003.5 1201.3 1004.5 1201.7 1005.5 1201.9 1006.5 1201.5 1007.5 1200.9 1008.5 1201.9 1009.5 1201.2 1010.5 1201.5 1011.5 1201.9 1012.5 1202.0 1013.5 1200.4 1014.5 1202.9 1015.5 1202.4 1016.5 1203.1 1017.5 1203.5 1018.5 1201.4 1019.5 1201.7 1020.5 1202.2 1021.5 1202.6 1022.5 1201.8 1023.5 1201.9 1024.5 1202.8 1025.5 1201.6 1026.5 1202.3 1027.5 1202.9 1028.5 1202.1 1029.5 1202.8 1030.5 1202.2 1031.5 1201.4 1032.5 1202.0 1033.5 1202.3 1034.5 1202.2 1035.5 1202.4 1036.5 1202.7 1037.5 1202.6 1038.5 1202.6 1039.5 1202.2 1040.5 1202.4 1041.5 1202.3 1042.5 1202.2 1043.5 1203.4 1044.5 1201.5 1045.5 1202.8 1046.5 1201.7 1047.5 1202.3 1048.5 1203.2 1049.5 1202.5 1050.5 1203.6 1051.5 1202.2 1052.5 1202.6 1053.5 1202.4 1054.5 1202.8 1055.5 1202.6 1056.5 1202.6 1057.5 1202.9 1058.5 1203.5 1059.5 1203.0 1060.5 1202.9 1061.5 1202.8 1062.5 1202.5 1063.5 1202.1 1064.5 1202.3 1065.5 1203.0 1066.5 1201.9 1067.5 1203.4 1068.5 1202.8 1069.5 1202.5 1070.5 1202.7 1071.5 1203.5 1072.5 1203.3 1073.5 1203.3 1074.5 1204.2 1075.5 1204.6 1076.5 1202.4 1077.5 1203.8 1078.5 1202.8 1079.5 1202.4 1080.5 1203.0 1081.5 1203.9 1082.5 1203.1 1083.5 1203.1 1084.5 1204.2 1085.5 1203.7 1086.5 1203.4 1087.5 1204.5 1088.5 1203.7 1089.5 1203.0 1090.5 1202.8 1091.5 1203.2 1092.5 1203.6 1093.5 1204.0 1094.5 1204.0 1095.5 1203.5 1096.5 1202.7 1097.5 1204.0 1098.5 1203.5 1099.5 1202.7 1100.5 1202.6 1101.5 1203.4 1102.5 1203.5 1103.5 1203.7 1104.5 1202.4 1105.5 1204.2 1106.5 1201.9 1107.5 1202.8 1108.5 1203.5 1109.5 1203.1 1110.5 1201.7 1111.5 1202.4 1112.5 1202.4 1113.5 1201.5 1114.5 1199.7 1115.5 1200.1 1116.5 1196.2 1117.5 1194.4 1118.5 1189.5 1119.5 1184.2 1120.5 1177.2 1121.5 1169.7 1122.5 1160.9 1123.5 1156.3 1124.2 1155.7 1125.5 1159.2 1126.5 1166.6 1127.5 1174.6 1128.5 1181.5 1129.5 1188.1 1130.5 1193.1 1131.5 1196.8 1132.5 1200.0 1133.5 1201.3 1134.5 1201.0 1135.5 1201.7 1136.5 1201.8 1137.5 1201.4 1138.5 1203.8 1139.5 1203.6 1140.5 1202.3 1141.5 1203.7 1142.5 1205.3 1143.5 1204.3 1144.5 1204.4 1145.5 1204.3 1146.5 1203.8 1147.5 1203.7 1148.5 1204.0 1149.5 1204.7 1150.5 1204.5 1151.5 1205.1 1152.5 1205.8 1153.5 1205.2 1154.5 1205.4 1155.5 1204.8 1156.5 1204.2 1157.5 1206.4 1158.5 1205.6 1159.5 1205.9 1160.5 1205.0 1161.5 1204.2 1162.5 1206.1 1163.5 1204.0 1164.5 1205.3 1165.5 1205.1 1166.5 1205.6 1167.5 1206.0 1168.5 1206.1 1169.5 1204.3 1170.5 1206.2 1171.5 1204.5 1172.5 1206.1 1173.5 1205.5 1174.5 1205.1 1175.5 1205.5 1176.5 1205.1 1177.5 1205.9 1178.5 1206.5 1179.5 1206.5 1180.5 1206.0 1181.5 1206.7 1182.5 1206.4 1183.5 1207.4 1184.5 1206.5 1185.5 1205.8 1186.5 1206.0 1187.5 1205.8 1188.5 1206.1 1189.5 1206.2 1190.5 1206.8 1191.5 1206.9 1192.5 1206.4 1193.5 1206.7 1194.5 1206.0 1195.5 1206.2 1196.5 1205.0 1197.5 1206.1 1198.5 1206.3 1199.5 1208.2 1200.5 1205.8 1201.5 1206.7 1202.5 1206.5 1203.5 1205.7 1204.5 1206.9 1205.5 1206.7 1206.5 1205.8 1207.5 1205.3 1208.5 1206.7 1209.5 1205.9 1210.5 1207.2 1211.5 1206.6 1212.5 1207.1 1213.5 1206.6 1214.5 1207.8 1215.5 1207.3 1216.5 1207.8 1217.5 1206.9 1218.5 1206.2 1219.5 1206.0 1220.5 1206.6 1221.5 1207.1 1222.5 1206.5 1223.5 1208.4 1224.5 1206.9 1225.5 1207.2 1226.5 1207.0 1227.5 1206.2 1228.5 1207.6 1229.5 1207.4 1230.5 1207.5 1231.5 1206.5 1232.5 1207.1 1233.5 1207.0 1234.5 1207.8 1235.5 1206.2 1236.5 1207.5 1237.5 1207.9 1238.5 1206.9 1239.5 1206.6 1240.5 1207.9 1241.5 1207.3 1242.5 1207.9 1243.5 1207.6 1244.5 1207.8 1245.5 1207.1 1246.5 1205.9 1247.5 1207.6 1248.5 1206.8 1249.5 1207.6 1250.5 1206.9 1251.5 1208.3 1252.5 1207.1 1253.5 1207.8 1254.5 1208.0 1255.5 1207.3 1256.5 1207.5 1257.5 1207.3 1258.5 1206.8 1259.5 1208.2 1260.5 1206.8 1261.5 1206.4 1262.5 1207.1 1263.5 1207.5 1264.5 1207.4 1265.5 1207.2 1266.5 1207.1 1267.5 1206.1 1268.5 1207.8 1269.5 1208.5 1270.5 1207.0 1271.5 1206.3 1272.5 1207.9 1273.5 1207.4 1274.5 1205.0 1275.5 1207.0 1276.5 1206.6 1277.5 1206.8 1278.5 1208.8 1279.5 1208.1 1280.5 1207.5 1281.5 1207.6 1282.5 1208.5 1283.5 1206.9 1284.5 1208.1 1285.5 1207.2 1286.5 1208.1 1287.5 1207.8 1288.5 1207.2 1289.5 1208.3 1290.5 1208.0 1291.5 1208.8 1292.5 1207.4 1293.5 1207.8 1294.5 1207.3 1295.5 1208.5 1296.5 1207.3 1297.5 1207.7 1298.5 1208.5 1299.5 1208.1 1300.5 1207.9 1301.5 1207.9 1302.5 1208.0 1303.5 1208.2 1304.5 1207.6 1305.5 1206.6 1306.5 1208.6 1307.5 1207.2 1308.5 1209.0 1309.5 1208.0 1310.5 1209.8 1311.5 1208.6 1312.5 1208.1 1313.5 1208.5 1314.5 1207.0 1315.5 1208.0 1316.5 1207.7 1317.5 1207.9 1318.5 1206.7 1319.5 1206.6 1320.5 1208.4 1321.5 1208.0 1322.5 1207.7 1323.5 1207.9 1324.5 1207.6 1325.5 1207.7 1326.5 1208.4 1327.5 1207.9 1328.5 1208.4 1329.5 1207.6 1330.5 1206.9 1331.5 1207.6 1332.5 1208.0 1333.5 1207.4 1334.5 1207.8 1335.5 1207.8 1336.5 1208.7 1337.5 1208.6 1338.5 1208.8 1339.5 1207.6 1340.5 1208.3 1341.5 1208.9 1342.5 1208.2 1343.5 1208.1 1344.5 1207.7 1345.5 1208.7 1346.5 1208.3 1347.5 1208.8 1348.5 1208.1 1349.5 1209.5 1350.5 1208.2 1351.5 1207.5 1352.5 1208.4 1353.5 1208.5 1354.5 1209.1 1355.5 1208.0 1356.5 1207.9 1357.5 1208.1 1358.5 1208.1 1359.5 1207.0 1360.5 1208.8 1361.5 1209.1 1362.5 1207.9 1363.5 1207.7 1364.5 1208.3 1365.5 1207.9 1366.5 1208.9 1367.5 1208.0 1368.5 1208.8 1369.5 1207.6 1370.5 1207.5 1371.5 1207.5 1372.5 1207.6 1373.5 1208.7 1374.5 1209.0 1375.5 1208.6 1376.5 1208.6 1377.5 1207.1 1378.5 1209.2 1379.5 1207.7 1380.5 1209.3 1381.5 1210.0 1382.5 1208.6 1383.5 1208.9 1384.5 1208.9 1385.5 1207.8 1386.5 1207.9 1387.5 1208.2 1388.5 1208.7 1389.5 1209.1 1390.5 1208.7 1391.5 1209.3 1392.5 1208.3 1393.5 1207.8 1394.5 1208.7 1395.5 1208.6 1396.5 1207.8 1397.5 1209.3 1398.5 1208.1 1399.5 1208.3 1400.5 1208.9 1401.5 1208.1 1402.5 1209.1 1403.5 1209.0 1404.5 1209.0 1405.5 1208.8 1406.5 1208.5 1407.5 1208.3 1408.5 1209.0 1409.5 1209.7 1410.5 1209.3 1411.5 1209.1 1412.5 1209.5 1413.5 1209.7 1414.5 1208.1 1415.5 1208.9 1416.5 1209.6 1417.5 1208.5 1418.5 1208.6 1419.5 1209.3 1420.5 1208.8 1421.5 1209.7 1422.5 1208.8 1423.5 1209.3 1424.5 1210.5 1425.5 1209.7 1426.5 1208.2 1427.5 1208.4 1428.5 1208.4 1429.5 1209.0 1430.5 1208.2 1431.5 1209.4 1432.5 1210.1 1433.5 1210.0 1434.5 1208.6 1435.5 1208.9 1436.5 1208.9 1437.5 1208.6 1438.5 1210.2 1439.5 1208.7 1440.5 1208.4 1441.5 1209.4 1442.5 1209.4 1443.5 1210.1 1444.5 1210.1 1445.5 1209.1 1446.5 1207.9 1447.5 1209.6 1448.5 1209.7 1449.5 1210.3 1450.5 1208.2 1451.5 1208.5 1452.5 1210.2 1453.5 1210.2 1454.5 1210.1 1455.5 1209.2 1456.5 1210.1 1457.5 1208.9 1458.5 1208.5 1459.5 1209.3 1460.5 1209.4 1461.5 1209.8 1462.5 1210.0 1463.5 1208.2 1464.5 1209.5 1465.5 1209.6 1466.5 1208.6 1467.5 1209.2 1468.5 1209.4 1469.5 1209.7 1470.5 1208.9 1471.5 1209.0 1472.5 1208.7 1473.5 1209.6 1474.5 1209.2 1475.5 1209.1 1476.5 1209.8 1477.5 1209.3 1478.5 1208.7 1479.5 1210.2 1480.5 1210.1 1481.5 1209.8 1482.5 1208.9 1483.5 1210.2 1484.5 1209.2 1485.5 1208.4 1486.5 1209.5 1487.5 1210.7 1488.5 1209.3 1489.5 1209.9 1490.5 1210.4 1491.5 1209.7 1492.5 1209.4 1493.5 1209.6 1494.5 1210.0 1495.5 1209.3 1496.5 1209.8 1497.5 1210.0 1498.5 1209.4 1499.5 1210.1 1500.5 1210.0 1501.5 1209.5 1502.5 1209.6 1503.5 1209.8 1504.5 1209.6 1505.5 1209.6 1506.5 1209.1 1507.5 1209.8 1508.5 1210.2 1509.5 1210.2 1510.5 1209.3 1511.5 1210.1 1512.5 1210.2 1513.5 1209.2 1514.5 1210.1 1515.5 1209.7 1516.5 1209.6 1517.5 1210.0 1518.5 1209.7 1519.5 1208.5 1520.5 1210.0 1521.5 1209.2 1522.5 1209.8 1523.5 1210.3 1524.5 1209.8 1525.5 1209.6 1526.5 1210.0 1527.5 1210.2 1528.5 1209.4 1529.5 1209.6 1530.5 1210.3 1531.5 1210.9 1532.5 1210.0 1533.5 1210.5 1534.5 1209.6 1535.5 1210.0 1536.5 1210.1 1537.5 1209.3 1538.5 1210.0 1539.5 1209.9 1540.5 1208.5 1541.5 1210.0 1542.5 1210.2 1543.5 1210.2 1544.5 1210.3 1545.5 1209.4 1546.5 1209.7 1547.5 1210.0 1548.5 1209.6 1549.5 1209.8 1550.5 1210.9 1551.5 1209.6 1552.5 1210.0 1553.5 1211.3 1554.5 1210.1 1555.5 1209.6 1556.5 1210.4 1557.5 1210.3 1558.5 1210.3 1559.5 1209.2 1560.5 1210.4 1561.5 1210.5 1562.5 1211.5 1563.5 1210.7 1564.5 1210.0 1565.5 1210.5 1566.5 1210.7 1567.5 1210.3 1568.5 1210.3 1569.5 1211.2 1570.5 1210.7 1571.5 1210.7 1572.5 1209.8 1573.5 1210.7 1574.5 1209.3 1575.5 1211.2 1576.5 1210.2 1577.5 1210.8 1578.5 1211.3 1579.5 1209.8 1580.5 1211.2 1581.5 1210.6 1582.5 1211.2 1583.5 1210.3 1584.5 1210.1 1585.5 1211.3 1586.5 1210.8 1587.5 1210.6 1588.5 1209.9 1589.5 1211.4 1590.5 1210.4 1591.5 1210.5 1592.5 1210.2 1593.5 1210.6 1594.5 1211.0 1595.5 1210.6 1596.5 1210.6 1597.5 1210.3 1598.5 1211.6 1599.5 1211.6 1600.5 1210.5 1601.5 1210.2 1602.5 1210.8 1603.5 1209.7 1604.5 1210.8 1605.5 1210.9 1606.5 1210.8 1607.5 1211.6 1608.5 1211.8 1609.5 1211.0 1610.5 1210.5 1611.5 1211.3 1612.5 1211.4 1613.5 1210.0 1614.5 1210.3 1615.5 1210.6 1616.5 1209.7 1617.5 1210.1 1618.5 1211.7 1619.5 1210.0 1620.5 1211.2 1621.5 1210.2 1622.5 1211.3 1623.5 1210.9 1624.5 1211.3 1625.5 1209.9 1626.5 1210.9 1627.5 1210.4 1628.5 1211.2 1629.5 1211.1 1630.5 1210.8 1631.5 1210.6 1632.5 1210.7 1633.5 1210.9 1634.5 1210.4 1635.5 1210.5 1636.5 1210.3 1637.5 1210.1 1638.5 1211.3 1639.5 1209.9 1640.5 1211.5 1641.5 1211.1 1642.5 1209.7 1643.5 1209.6 1644.5 1210.7 1645.5 1210.1 1646.5 1210.8 1647.5 1211.2 1648.5 1210.9 1649.5 1210.5 1650.5 1210.5 1651.5 1211.5 1652.5 1210.4 1653.5 1211.6 1654.5 1211.8 1655.5 1210.4 1656.5 1210.8 1657.5 1211.6 1658.5 1210.1 1659.5 1210.8 1660.5 1211.1 1661.5 1209.8 1662.5 1210.6 1663.5 1210.5 1664.5 1210.0 1665.5 1211.2 1666.5 1210.1 1667.5 1211.4 1668.5 1210.3 1669.5 1209.3 1670.5 1209.6 1671.5 1208.6 1672.5 1208.9 1673.5 1207.9 1674.5 1205.6 1675.5 1204.4 1676.5 1202.9 1677.5 1200.3 1678.5 1197.1 1679.5 1195.7 1680.5 1193.6 1681.5 1190.5 1682.2 1191.9 1683.5 1190.9 1684.5 1194.0 1685.5 1196.2 1686.5 1198.9 1687.5 1201.8 1688.5 1203.2 1689.5 1205.6 1690.5 1208.1 1691.5 1208.4 1692.5 1209.7 1693.5 1209.8 1694.5 1208.7 1695.5 1211.0 1696.5 1210.6 1697.5 1210.6 1698.5 1210.1 1699.5 1210.1 1700.5 1209.8 1701.5 1210.4 1702.5 1210.6 1703.5 1210.5 1704.5 1210.5 1705.5 1209.5 1706.5 1210.3 1707.5 1210.3 1708.5 1210.9 1709.5 1210.5 1710.5 1210.5 1711.5 1210.9 1712.5 1210.5 1713.5 1210.7 1714.5 1211.5 1715.5 1210.8 1716.5 1210.3 1717.5 1211.2 1718.5 1211.4 1719.5 1211.3 1720.5 1210.1 1721.5 1211.5 1722.5 1211.0 1723.5 1211.0 1724.5 1211.0 1725.5 1211.2 1726.5 1211.3 1727.5 1211.8 1728.5 1211.1 1729.5 1210.9 1730.5 1211.4 1731.5 1210.9 1732.5 1211.6 1733.5 1211.1 1734.5 1211.5 1735.5 1210.7 1736.5 1211.6 1737.5 1211.4 1738.5 1210.6 1739.5 1210.8 1740.5 1211.1 1741.5 1210.3 1742.5 1210.4 1743.5 1211.3 1744.5 1211.4 1745.5 1211.9 1746.5 1210.3 1747.5 1210.9 1748.5 1209.9 1749.5 1212.1 1750.5 1210.3 1751.5 1211.0 1752.5 1212.2 1753.5 1211.9 1754.5 1210.6 1755.5 1212.4 1756.5 1211.4 1757.5 1210.5 1758.5 1211.3 1759.5 1211.5 1760.5 1211.5 1761.5 1209.9 1762.5 1212.2 1763.5 1210.2 1764.5 1211.0 1765.5 1212.0 1766.5 1211.4 1767.5 1211.1 1768.5 1210.8 1769.5 1211.5 1770.5 1212.0 1771.5 1210.8 1772.5 1211.4 1773.5 1210.9 1774.5 1210.9 1775.5 1210.0 1776.5 1211.3 1777.5 1211.7 1778.5 1211.1 1779.5 1211.8 1780.5 1211.3 1781.5 1211.9 1782.5 1211.3 1783.5 1211.0 1784.5 1210.9 1785.5 1211.3 1786.5 1211.4 1787.5 1210.8 1788.5 1211.1 1789.5 1210.5 1790.5 1210.5 1791.5 1211.6 1792.5 1211.5 1793.5 1211.8 1794.5 1211.3 1795.5 1211.4 1796.5 1212.3 1797.5 1210.8 1798.5 1211.4 1799.5 1212.2 1800.5 1212.4 1801.5 1211.6 1802.5 1211.2 1803.5 1210.7 1804.5 1211.2 1805.5 1211.4 1806.5 1211.3 1807.5 1211.6 1808.5 1211.6 1809.5 1211.0 1810.5 1210.8 1811.5 1211.1 1812.5 1211.5 1813.5 1212.2 1814.5 1210.4 1815.5 1211.9 1816.5 1211.1 1817.5 1211.9 1818.5 1212.4 1819.5 1211.6 1820.5 1210.7 1821.5 1211.1 1822.5 1211.5 1823.5 1211.1 1824.5 1211.3 1825.5 1210.9 1826.5 1211.2 1827.5 1211.0 1828.5 1211.8 1829.5 1211.5 1830.5 1211.8 1831.5 1210.4 1832.5 1211.1 1833.5 1210.9 1834.5 1211.1 1835.5 1210.8 1836.5 1210.9 1837.5 1212.3 1838.5 1211.2 1839.5 1210.6 1840.5 1211.2 1841.5 1212.7 1842.5 1211.8 1843.5 1210.8 1844.5 1211.2 1845.5 1211.3 1846.5 1211.4 1847.5 1210.3 1848.5 1210.8 1849.5 1211.3 1850.5 1210.4 1851.5 1211.3 1852.5 1211.4 1853.5 1211.8 1854.5 1212.0 1855.5 1211.3 1856.5 1211.5 1857.5 1211.8 1858.5 1212.0 1859.5 1211.5 1860.5 1211.0 1861.5 1211.8 1862.5 1211.9 1863.5 1211.5 1864.5 1211.8 1865.5 1212.3 1866.5 1211.1 1867.5 1211.0 1868.5 1210.8 1869.5 1211.6 1870.5 1212.0 1871.5 1211.2 1872.5 1212.5 1873.5 1211.1 1874.5 1211.6 1875.5 1211.4 1876.5 1212.3 1877.5 1211.1 1878.5 1212.4 1879.5 1211.4 1880.5 1210.7 1881.5 1211.2 1882.5 1211.4 1883.5 1212.4 1884.5 1211.2 1885.5 1211.5 1886.5 1212.7 1887.5 1211.6 1888.5 1211.1 1889.5 1211.1 1890.5 1210.6 1891.5 1211.7 1892.5 1212.2 1893.5 1211.3 1894.5 1210.9 1895.5 1211.7 1896.5 1211.5 1897.5 1211.4 1898.5 1211.8 1899.5 1211.5 1900.5 1211.3 1901.5 1212.1 1902.5 1210.5 1903.5 1210.9 1904.5 1211.4 1905.5 1210.7 1906.5 1212.4 1907.5 1210.3 1908.5 1211.9 1909.5 1211.9 1910.5 1211.7 1911.5 1211.8 1912.5 1211.2 1913.5 1211.1 1914.5 1212.4 1915.5 1211.5 1916.5 1210.7 1917.5 1210.8 1918.5 1210.7 1919.5 1211.7 1920.5 1212.2 1921.5 1211.4 1922.5 1211.6 1923.5 1211.3 1924.5 1212.1 1925.5 1212.1 1926.5 1212.1 1927.5 1212.6 1928.5 1210.9 1929.5 1212.1 1930.5 1210.7 1931.5 1212.0 1932.5 1212.1 1933.5 1212.0 1934.5 1212.1 1935.5 1211.6 1936.5 1211.3 1937.5 1212.1 1938.5 1211.3 1939.5 1212.1 1940.5 1211.2 1941.5 1211.8 1942.5 1211.8 1943.5 1211.2 1944.5 1211.5 1945.5 1212.2 1946.5 1211.7 1947.5 1212.0 1948.5 1211.4 1949.5 1211.7 1950.5 1210.8 1951.5 1211.2 1952.5 1212.4 1953.5 1212.0 1954.5 1211.7 1955.5 1211.8 1956.5 1210.9 1957.5 1211.9 1958.5 1211.0 1959.5 1211.3 1960.5 1212.1 1961.5 1211.3 1962.5 1211.4 1963.5 1211.7 1964.5 1211.8 1965.5 1212.5 1966.5 1210.7 1967.5 1211.5 1968.5 1212.1 1969.5 1211.4 1970.5 1211.5 1971.5 1211.3 1972.5 1211.5 1973.5 1212.1 1974.5 1212.4 1975.5 1211.9 1976.5 1212.5 1977.5 1211.8 1978.5 1210.8 1979.5 1212.2 1980.5 1210.6 1981.5 1211.7 1982.5 1211.7 1983.5 1211.1 1984.5 1211.6 1985.5 1211.4 1986.5 1211.8 1987.5 1211.6 1988.5 1212.1 1989.5 1211.5 1990.5 1212.1 1991.5 1211.8 1992.5 1211.9 1993.5 1211.8" stroke="#0A6EDA"/>
<path d="M173.5 1320.5L174.5 1320.1 175.5 1320.8 176.5 1321.2 177.5 1321.6 178.5 1320.9 179.5 1320.5 180.5 1320.4 181.5 1321.3 182.5 1321.8 183.5 1320.9 184.5 1320.0 185.5 1320.1 186.5 1321.7 187.5 1320.8 188.5 1319.6 189.5 1320.6 190.5 1319.9 191.5 1320.2 192.5 1320.3 193.5 1320.1 194.5 1320.9 195.5 1320.5 196.5 1320.1 197.5 1320.7 198.5 1320.9 199.5 1319.4 200.5 1320.2 201.5 1319.8 202.5 1320.2 203.5 1319.5 204.5 1320.3 205.5 1320.3 206.5 1320.1 207.5 1319.6 208.5 1320.0 209.5 1319.5 210.5 1319.4 211.5 1320.3 212.5 1319.5 213.5 1320.8 214.5 1320.5 215.5 1318.9 216.5 1320.2 217.5 1319.4 218.5 1320.0 219.5 1320.0 220.5 1318.8 221.5 1319.8 222.5 1319.7 223.5 1320.5 224.5 1319.1 225.5 1320.3 226.5 1319.2 227.5 1319.6 228.5 1319.3 229.5 1320.6 230.5 1320.1 231.5 1321.2 232.5 1320.1 233.5 1320.2 234.5 1320.1 235.5 1319.2 236.5 1319.5 237.5 1320.4 238.5 1319.3 239.5 1319.6 240.5 1319.5 241.5 1319.8 242.5 1319.2 243.5 1319.3 244.5 1319.6 245.5 1319.5 246.5 1318.8 247.5 1319.9 248.5 1318.5 249.5 1318.6 250.5 1318.5 251.5 1319.8 252.5 1319.0 253.5 1318.6 254.5 1318.5 255.5 1319.4 256.5 1318.5 257.5 1318.4 258.5 1319.5 259.5 1318.4 260.5 1318.9 261.5 1319.0 262.5 1318.7 263.5 1319.0 264.5 1319.8 265.5 1318.6 266.5 1318.2 267.5 1317.8 268.5 1318.8 269.5 1318.6 270.5 1319.0 271.5 1318.5 272.5 1318.5 273.5 1318.3 274.5 1318.4 275.5 1318.8 276.5 1318.5 277.5 1318.7 278.5 1319.8 279.5 1318.9 280.5 1317.7 281.5 1319.6 282.5 1318.8 283.5 1318.0 284.5 1319.1 285.5 1318.5 286.5 1318.1 287.5 1318.1 288.5 1317.8 289.5 1318.4 290.5 1319.0 291.5 1318.2 292.5 1318.6 293.5 1319.4 294.5 1317.6 295.5 1318.4 296.5 1318.1 297.5 1317.6 298.5 1317.6 299.5 1318.2 300.5 1318.4 301.5 1317.8 302.5 1318.2 303.5 1318.5 304.5 1318.3 305.5 1318.6 306.5 1318.3 307.5 1318.3 308.5 1319.1 309.5 1318.3 310.5 1318.0 311.5 1318.3 312.5 1317.4 313.5 1317.7 314.5 1318.3 315.5 1318.2 316.5 1318.7 317.5 1317.8 318.5 1316.9 319.5 1318.9 320.5 1318.4 321.5 1317.1 322.5 1318.5 323.5 1317.7 324.5 1316.5 325.5 1317.4 326.5 1317.3 327.5 1318.5 328.5 1317.1 329.5 1317.4 330.5 1317.3 331.5 1317.3 332.5 1316.9 333.5 1317.6 334.5 1318.1 335.5 1317.8 336.5 1316.8 337.5 1316.7 338.5 1317.4 339.5 1316.9 340.5 1316.9 341.5 1316.2 342.5 1318.4 343.5 1317.8 344.5 1316.6 345.5 1317.7 346.5 1318.0 347.5 1315.7 348.5 1316.8 349.5 1316.8 350.5 1317.4 351.5 1317.0 352.5 1316.9 353.5 1317.0 354.5 1318.1 355.5 1318.2 356.5 1316.6 357.5 1316.3 358.5 1318.5 359.5 1316.3 360.5 1316.5 361.5 1316.8 362.5 1317.1 363.5 1317.4 364.5 1317.0 365.5 1316.2 366.5 1317.0 367.5 1316.8 368.5 1317.8 369.5 1316.6 370.5 1315.8 371.5 1316.0 372.5 1317.4 373.5 1316.2 374.5 1315.3 375.5 1316.2 376.5 1316.5 377.5 1317.2 378.5 1315.8 379.5 1316.8 380.5 1316.9 381.5 1315.9 382.5 1316.2 383.5 1317.4 384.5 1317.3 385.5 1316.8 386.5 1316.5 387.5 1316.9 388.5 1316.1 389.5 1316.1 390.5 1315.6 391.5 1316.1 392.5 1316.1 393.5 1317.8 394.5 1316.0 395.5 1316.8 396.5 1316.8 397.5 1315.9 398.5 1316.7 399.5 1314.7 400.5 1316.0 401.5 1316.5 402.5 1314.5 403.5 1315.3 404.5 1316.6 405.5 1315.8 406.5 1315.3 407.5 1315.7 408.5 1315.6 409.5 1316.4 410.5 1316.2 411.5 1315.8 412.5 1315.5 413.5 1315.9 414.5 1316.7 415.5 1316.1 416.5 1316.3 417.5 1315.8 418.5 1315.1 419.5 1315.5 420.5 1316.3 421.5 1316.0 422.5 1315.4 423.5 1314.9 424.5 1316.0 425.5 1315.7 426.5 1315.7 427.5 1315.7 428.5 1316.1 429.5 1316.1 430.5 1316.5 431.5 1316.4 432.5 1316.7 433.5 1316.4 434.5 1315.7 435.5 1315.8 436.5 1316.2 437.5 1315.7 438.5 1316.2 439.5 1316.5 440.5 1315.4 441.5 1314.8 442.5 1316.6 443.5 1315.9 444.5 1316.3 445.5 1315.0 446.5 1316.9 447.5 1316.3 448.5 1315.8 449.5 1315.6 450.5 1315.9 451.5 1315.7 452.5 1315.7 453.5 1315.1 454.5 1316.6 455.5 1315.8 456.5 1315.9 457.5 1315.9 458.5 1314.4 459.5 1316.1 460.5 1315.6 461.5 1315.6 462.5 1315.8 463.5 1315.2 464.5 1316.3 465.5 1315.4 466.5 1315.2 467.5 1315.3 468.5 1315.9 469.5 1316.2 470.5 1315.4 471.5 1314.9 472.5 1316.4 473.5 1315.1 474.5 1316.5 475.5 1315.7 476.5 1315.3 477.5 1315.4 478.5 1316.0 479.5 1316.3 480.5 1315.6 481.5 1316.3 482.5 1317.0 483.5 1315.6 484.5 1315.0 485.5 1315.1 486.5 1314.9 487.5 1315.3 488.5 1315.3 489.5 1314.9 490.5 1316.0 491.5 1314.1 492.5 1314.9 493.5 1316.9 494.5 1316.3 495.5 1316.0 496.5 1316.0 497.5 1316.8 498.5 1316.0 499.5 1315.7 500.5 1315.0 501.5 1315.6 502.5 1315.2 503.5 1315.3 504.5 1315.3 505.5 1315.7 506.5 1315.5 507.5 1316.2 508.5 1314.9 509.5 1315.6 510.5 1316.8 511.5 1315.7 512.5 1316.4 513.5 1316.3 514.5 1316.4 515.5 1316.1 516.5 1314.8 517.5 1315.5 518.5 1315.4 519.5 1314.7 520.5 1315.4 521.5 1314.9 522.5 1314.6 523.5 1315.8 524.5 1315.6 525.5 1315.2 526.5 1315.0 527.5 1315.3 528.5 1315.4 529.5 1315.4 530.5 1315.6 531.5 1315.3 532.5 1315.8 533.5 1315.9 534.5 1315.8 535.5 1315.2 536.5 1315.2 537.5 1315.8 538.5 1315.5 539.5 1315.6 540.5 1314.1 541.5 1314.0 542.5 1315.8 543.5 1315.8 544.5 1316.4 545.5 1316.0 546.5 1315.7 547.5 1315.6 548.5 1314.7 549.5 1316.1 550.5 1315.2 551.5 1315.8 552.5 1315.7 553.5 1315.7 554.5 1316.1 555.5 1315.2 556.5 1315.3 557.5 1315.0 558.5 1315.3 559.5 1316.5 560.5 1315.3 561.5 1316.2 562.5 1316.0 563.5 1315.9 564.5 1316.0 565.5 1314.9 566.5 1315.7 567.5 1316.4 568.5 1315.1 569.5 1315.5 570.5 1315.1 571.5 1315.7 572.5 1314.8 573.5 1316.4 574.5 1315.2 575.5 1314.5 576.5 1316.5 577.5 1316.0 578.5 1315.8 579.5 1315.8 580.5 1315.2 581.5 1315.3 582.5 1315.9 583.5 1316.0 584.5 1316.0 585.5 1315.6 586.5 1315.2 587.5 1315.3 588.5 1316.1 589.5 1316.3 590.5 1315.2 591.5 1315.1 592.5 1316.2 593.5 1315.8 594.5 1315.8 595.5 1314.6 596.5 1315.2 597.5 1315.1 598.5 1315.5 599.5 1314.4 600.5 1316.1 601.5 1315.6 602.5 1315.6 603.5 1314.7 604.5 1315.4 605.5 1316.2 606.5 1314.4 607.5 1315.5 608.5 1315.8 609.5 1314.9 610.5 1315.8 611.5 1315.1 612.5 1316.1 613.5 1315.7 614.5 1315.5 615.5 1316.5 616.5 1315.8 617.5 1316.1 618.5 1314.6 619.5 1314.9 620.5 1315.8 621.5 1315.8 622.5 1315.2 623.5 1315.7 624.5 1314.6 625.5 1315.4 626.5 1314.5 627.5 1315.4 628.5 1314.9 629.5 1314.8 630.5 1315.2 631.5 1316.2 632.5 1314.5 633.5 1314.8 634.5 1315.7 635.5 1314.8 636.5 1316.1 637.5 1315.2 638.5 1315.1 639.5 1315.2 640.5 1316.1 641.5 1315.4 642.5 1315.3 643.5 1315.1 644.5 1314.0 645.5 1314.4 646.5 1315.8 647.5 1315.4 648.5 1315.2 649.5 1315.3 650.5 1314.5 651.5 1315.0 652.5 1314.3 653.5 1315.0 654.5 1314.4 655.5 1314.6 656.5 1315.0 657.5 1314.6 658.5 1315.1 659.5 1315.0 660.5 1314.9 661.5 1315.5 662.5 1313.8 663.5 1313.7 664.5 1315.0 665.5 1315.2 666.5 1315.8 667.5 1315.0 668.5 1315.1 669.5 1314.0 670.5 1315.0 671.5 1314.9 672.5 1313.9 673.5 1313.9 674.5 1314.4 675.5 1314.6 676.5 1312.7 677.5 1314.5 678.5 1314.5 679.5 1314.3 680.5 1314.5 681.5 1314.6 682.5 1313.7 683.5 1314.6 684.5 1314.1 685.5 1313.7 686.5 1314.4 687.5 1315.1 688.5 1313.3 689.5 1313.2 690.5 1313.2 691.5 1315.3 692.5 1314.0 693.5 1314.1 694.5 1313.6 695.5 1313.5 696.5 1312.8 697.5 1314.1 698.5 1314.2 699.5 1312.8 700.5 1313.4 701.5 1313.5 702.5 1314.0 703.5 1314.1 704.5 1314.6 705.5 1314.8 706.5 1314.6 707.5 1314.8 708.5 1313.3 709.5 1313.6 710.5 1314.6 711.5 1314.1 712.5 1313.9 713.5 1312.7 714.5 1312.8 715.5 1314.3 716.5 1314.1 717.5 1313.7 718.5 1313.6 719.5 1312.8 720.5 1314.1 721.5 1314.4 722.5 1314.8 723.5 1313.8 724.5 1313.6 725.5 1313.1 726.5 1314.5 727.5 1314.7 728.5 1313.3 729.5 1313.8 730.5 1313.7 731.5 1313.2 732.5 1312.0 733.5 1313.3 734.5 1313.8 735.5 1312.6 736.5 1312.9 737.5 1311.4 738.5 1314.1 739.5 1313.5 740.5 1313.2 741.5 1313.0 742.5 1312.7 743.5 1312.9 744.5 1312.7 745.5 1312.7 746.5 1312.8 747.5 1312.8 748.5 1313.6 749.5 1311.7 750.5 1312.6 751.5 1312.0 752.5 1311.6 753.5 1310.8 754.5 1312.4 755.5 1311.4 756.5 1311.4 757.5 1312.0 758.5 1311.0 759.5 1311.6 760.5 1311.4 761.5 1311.8 762.5 1311.8 763.5 1310.5 764.5 1311.5 765.5 1310.7 766.5 1310.7 767.5 1310.4 768.5 1310.9 769.5 1309.5 770.5 1310.3 771.5 1310.7 772.5 1309.7 773.5 1310.9 774.5 1309.1 775.5 1309.6 776.5 1309.0 777.5 1308.8 778.5 1308.3 779.5 1308.6 780.5 1308.7 781.5 1308.1 782.5 1309.0 783.5 1309.3 784.5 1307.3 785.5 1308.7 786.5 1308.2 787.5 1308.1 788.5 1309.3 789.5 1308.5 790.5 1307.9 791.5 1307.8 792.5 1306.3 793.5 1308.0 794.5 1307.1 795.5 1307.6 796.5 1307.6 797.5 1308.1 798.0 1308.7 798.5 1308.1 799.5 1308.3 800.5 1307.5 801.5 1308.0 802.5 1308.4 803.5 1307.2 804.5 1309.5 805.5 1308.1 806.5 1308.0 807.5 1310.1 808.5 1310.6 809.5 1309.2 810.5 1309.6 811.5 1312.1 812.5 1310.7 813.5 1309.7 814.5 1310.8 815.5 1312.7 816.5 1312.2 817.5 1312.5 818.5 1313.1 819.5 1313.0 820.5 1312.6 821.5 1312.1 822.5 1313.6 823.5 1312.8 824.5 1313.7 825.5 1314.9 826.5 1314.4 827.5 1314.2 828.5 1314.4 829.5 1314.9 830.5 1315.2 831.5 1313.9 832.5 1314.9 833.5 1315.9 834.5 1315.4 835.5 1314.6 836.5 1314.7 837.5 1314.0 838.5 1314.8 839.5 1316.3 840.5 1315.3 841.5 1314.9 842.5 1315.1 843.5 1315.4 844.5 1315.4 845.5 1315.3 846.5 1315.1 847.5 1316.0 848.5 1316.5 849.5 1315.3 850.5 1315.3 851.5 1316.4 852.5 1314.8 853.5 1315.3 854.5 1315.5 855.5 1315.8 856.5 1315.6 857.5 1315.2 858.5 1315.9 859.5 1315.1 860.5 1314.7 861.5 1314.6 862.5 1316.3 863.5 1314.8 864.5 1316.1 865.5 1316.2 866.5 1316.3 867.5 1315.8 868.5 1315.5 869.5 1315.9 870.5 1315.5 871.5 1315.1 872.5 1316.7 873.5 1315.4 874.5 1317.0 875.5 1316.2 876.5 1315.6 877.5 1316.2 878.5 1316.7 879.5 1315.1 880.5 1315.3 881.5 1315.3 882.5 1316.0 883.5 1316.1 884.5 1315.8 885.5 1315.4 886.5 1315.5 887.5 1316.5 888.5 1316.4 889.5 1315.8 890.5 1314.9 891.5 1316.0 892.5 1315.8 893.5 1315.7 894.5 1316.6 895.5 1316.0 896.5 1314.9 897.5 1314.8 898.5 1316.2 899.5 1315.5 900.5 1315.8 901.5 1315.2 902.5 1314.7 903.5 1315.4 904.5 1316.1 905.5 1315.4 906.5 1314.4 907.5 1314.9 908.5 1314.7 909.5 1315.1 910.5 1315.5 911.5 1316.1 912.5 1315.0 913.5 1314.5 914.5 1314.8 915.5 1314.7 916.5 1314.4 917.5 1314.6 918.5 1314.5 919.5 1313.7 920.5 1314.7 921.5 1314.1 922.5 1313.7 923.5 1314.5 924.5 1313.9 925.5 1315.2 926.5 1314.4 927.5 1314.1 928.5 1313.5 929.5 1313.7 930.5 1314.4 931.5 1313.4 932.5 1314.2 933.5 1312.4 934.5 1313.8 935.5 1314.1 936.5 1313.7 937.5 1313.5 938.5 1314.0 939.5 1312.8 940.5 1312.7 941.5 1313.2 942.5 1313.8 943.5 1313.2 944.5 1312.8 945.5 1313.0 946.5 1313.0 947.5 1311.9 948.5 1310.8 949.5 1311.8 950.5 1311.4 951.5 1311.8 952.5 1311.3 953.5 1311.4 954.5 1312.1 955.5 1311.7 956.5 1311.5 957.5 1312.4 958.5 1311.0 959.5 1310.9 960.5 1311.8 961.5 1310.2 962.5 1309.7 963.5 1311.4 964.5 1310.6 965.5 1310.7 966.5 1310.5 967.5 1310.6 968.5 1309.6 969.5 1309.7 970.5 1308.9 971.5 1309.6 972.5 1309.5 973.5 1308.9 974.5 1309.5 975.5 1310.8 976.5 1308.2 977.5 1309.3 978.5 1309.2 979.5 1309.2 980.5 1308.0 981.5 1309.2 982.5 1308.8 983.5 1308.3 984.5 1308.1 985.5 1308.4 986.5 1308.8 987.5 1308.8 988.5 1309.6 989.5 1308.1 990.5 1308.7 991.5 1308.2 992.5 1309.1 993.5 1309.0 994.5 1308.8 995.5 1308.7 996.5 1309.4 997.5 1310.4 998.5 1311.5 999.5 1311.5 1000.5 1310.8 1001.5 1311.6 1002.5 1312.3 1003.5 1312.7 1004.5 1313.2 1005.5 1314.0 1006.5 1314.0 1007.5 1313.9 1008.5 1313.5 1009.5 1314.7 1010.5 1314.2 1011.5 1315.4 1012.5 1315.9 1013.5 1315.2 1014.5 1316.1 1015.5 1316.2 1016.5 1317.7 1017.5 1317.0 1018.5 1315.7 1019.5 1317.3 1020.5 1317.4 1021.5 1317.1 1022.5 1317.1 1023.5 1317.8 1024.5 1317.9 1025.5 1317.8 1026.5 1317.0 1027.5 1317.5 1028.5 1316.8 1029.5 1316.9 1030.5 1317.5 1031.5 1317.2 1032.5 1317.7 1033.5 1319.4 1034.5 1318.3 1035.5 1317.5 1036.5 1316.8 1037.5 1317.6 1038.5 1317.3 1039.5 1316.8 1040.5 1318.6 1041.5 1317.9 1042.5 1318.5 1043.5 1320.1 1044.5 1318.5 1045.5 1318.4 1046.5 1318.6 1047.5 1318.2 1048.5 1317.9 1049.5 1318.3 1050.5 1319.1 1051.5 1318.3 1052.5 1317.7 1053.5 1317.8 1054.5 1317.9 1055.5 1318.6 1056.5 1318.9 1057.5 1318.9 1058.5 1319.4 1059.5 1318.6 1060.5 1319.2 1061.5 1318.9 1062.5 1319.2 1063.5 1317.7 1064.5 1319.6 1065.5 1317.9 1066.5 1318.2 1067.5 1319.4 1068.5 1318.7 1069.5 1320.0 1070.5 1319.1 1071.5 1318.4 1072.5 1319.1 1073.5 1318.8 1074.5 1320.0 1075.5 1320.1 1076.5 1319.6 1077.5 1318.9 1078.5 1319.2 1079.5 1319.8 1080.5 1318.7 1081.5 1318.8 1082.5 1319.8 1083.5 1319.7 1084.5 1319.1 1085.5 1319.1 1086.5 1318.1 1087.5 1320.0 1088.5 1319.3 1089.5 1318.5 1090.5 1318.7 1091.5 1318.8 1092.5 1320.4 1093.5 1319.8 1094.5 1318.6 1095.5 1320.5 1096.5 1320.2 1097.5 1318.7 1098.5 1317.8 1099.5 1319.9 1100.5 1319.0 1101.5 1319.3 1102.5 1319.0 1103.5 1320.1 1104.5 1320.2 1105.5 1319.8 1106.5 1319.2 1107.5 1319.5 1108.5 1319.7 1109.5 1318.3 1110.5 1320.0 1111.5 1319.1 1112.5 1319.4 1113.5 1319.3 1114.5 1319.8 1115.5 1319.9 1116.5 1320.6 1117.5 1319.0 1118.5 1318.7 1119.5 1319.3 1120.5 1318.8 1121.5 1319.7 1122.5 1318.7 1123.5 1319.3 1124.5 1319.7 1125.5 1319.8 1126.5 1319.3 1127.5 1320.0 1128.5 1319.9 1129.5 1318.1 1130.5 1319.4 1131.5 1319.2 1132.5 1319.0 1133.5 1318.7 1134.5 1319.1 1135.5 1319.3 1136.5 1319.3 1137.5 1319.9 1138.5 1319.7 1139.5 1318.7 1140.5 1318.6 1141.5 1319.6 1142.5 1318.6 1143.5 1319.2 1144.5 1319.3 1145.5 1319.7 1146.5 1319.3 1147.5 1319.9 1148.5 1318.7 1149.5 1319.4 1150.5 1318.6 1151.5 1319.1 1152.5 1319.1 1153.5 1318.4 1154.5 1317.4 1155.5 1319.5 1156.5 1319.2 1157.5 1319.0 1158.5 1318.5 1159.5 1318.7 1160.5 1319.2 1161.5 1318.9 1162.5 1319.6 1163.5 1319.0 1164.5 1318.4 1165.5 1319.3 1166.5 1318.5 1167.5 1319.0 1168.5 1317.8 1169.5 1318.6 1170.5 1319.2 1171.5 1318.5 1172.5 1318.8 1173.5 1319.2 1174.5 1318.9 1175.5 1319.9 1176.5 1318.6 1177.5 1318.7 1178.5 1318.7 1179.5 1317.6 1180.5 1317.8 1181.5 1319.1 1182.5 1318.6 1183.5 1319.6 1184.5 1318.7 1185.5 1318.6 1186.5 1319.3 1187.5 1318.9 1188.5 1319.7 1189.5 1318.1 1190.5 1319.0 1191.5 1319.1 1192.5 1319.0 1193.5 1319.4 1194.5 1319.3 1195.5 1318.7 1196.5 1318.3 1197.5 1319.2 1198.5 1318.7 1199.5 1319.2 1200.5 1319.4 1201.5 1318.7 1202.5 1318.1 1203.5 1318.5 1204.5 1319.1 1205.5 1318.5 1206.5 1319.3 1207.5 1318.6 1208.5 1318.7 1209.5 1318.2 1210.5 1318.5 1211.5 1319.2 1212.5 1318.4 1213.5 1318.3 1214.5 1318.1 1215.5 1319.0 1216.5 1317.6 1217.5 1318.1 1218.5 1319.0 1219.5 1319.3 1220.5 1318.4 1221.5 1319.1 1222.5 1317.3 1223.5 1318.9 1224.5 1318.6 1225.5 1317.7 1226.5 1317.4 1227.5 1318.1 1228.5 1318.6 1229.5 1318.6 1230.5 1318.5 1231.5 1318.9 1232.5 1318.8 1233.5 1317.5 1234.5 1318.1 1235.5 1318.0 1236.5 1319.0 1237.5 1318.0 1238.5 1318.9 1239.5 1318.4 1240.5 1319.7 1241.5 1318.3 1242.5 1318.3 1243.5 1318.2 1244.5 1318.4 1245.5 1319.7 1246.5 1318.0 1247.5 1317.7 1248.5 1318.1 1249.5 1318.6 1250.5 1317.6 1251.5 1318.7 1252.5 1318.7 1253.5 1318.1 1254.5 1318.0 1255.5 1317.7 1256.5 1318.0 1257.5 1317.7 1258.5 1318.9 1259.5 1319.1 1260.5 1318.0 1261.5 1318.1 1262.5 1317.0 1263.5 1317.8 1264.5 1318.3 1265.5 1318.3 1266.5 1318.2 1267.5 1318.6 1268.5 1318.1 1269.5 1317.8 1270.5 1319.0 1271.5 1316.9 1272.5 1317.3 1273.5 1317.6 1274.5 1317.6 1275.5 1317.5 1276.5 1317.9 1277.5 1317.6 1278.5 1317.9 1279.5 1318.3 1280.5 1318.0 1281.5 1318.0 1282.5 1317.4 1283.5 1317.3 1284.5 1317.8 1285.5 1318.5 1286.5 1318.1 1287.5 1318.6 1288.5 1318.5 1289.5 1318.6 1290.5 1317.4 1291.5 1318.6 1292.5 1318.3 1293.5 1319.1 1294.5 1318.2 1295.5 1318.0 1296.5 1317.7 1297.5 1317.9 1298.5 1316.8 1299.5 1317.6 1300.5 1317.8 1301.5 1318.4 1302.5 1317.4 1303.5 1317.8 1304.5 1318.8 1305.5 1317.4 1306.5 1318.2 1307.5 1317.4 1308.5 1317.7 1309.5 1318.0 1310.5 1318.2 1311.5 1317.4 1312.5 1317.1 1313.5 1318.6 1314.5 1317.8 1315.5 1318.1 1316.5 1318.2 1317.5 1318.1 1318.5 1317.5 1319.5 1317.5 1320.5 1316.7 1321.5 1317.7 1322.5 1317.3 1323.5 1317.6 1324.5 1318.7 1325.5 1318.0 1326.5 1317.6 1327.5 1316.7 1328.5 1318.0 1329.5 1318.4 1330.5 1317.0 1331.5 1317.8 1332.5 1317.2 1333.5 1317.4 1334.5 1317.3 1335.5 1316.5 1336.5 1317.2 1337.5 1316.5 1338.5 1318.3 1339.5 1318.0 1340.5 1317.4 1341.5 1317.6 1342.5 1317.4 1343.5 1317.5 1344.5 1317.5 1345.5 1317.2 1346.5 1317.3 1347.5 1316.6 1348.5 1316.8 1349.5 1317.0 1350.5 1317.5 1351.5 1317.1 1352.5 1318.5 1353.5 1317.2 1354.5 1317.1 1355.5 1317.6 1356.5 1318.0 1357.5 1318.5 1358.5 1318.0 1359.5 1317.0 1360.5 1317.3 1361.5 1318.0 1362.5 1317.6 1363.5 1317.9 1364.5 1317.4 1365.5 1318.4 1366.5 1318.3 1367.5 1318.1 1368.5 1317.5 1369.5 1316.5 1370.5 1316.7 1371.5 1317.7 1372.5 1317.9 1373.5 1315.8 1374.5 1317.2 1375.5 1318.2 1376.5 1318.0 1377.5 1317.2 1378.5 1317.9 1379.5 1317.5 1380.5 1317.4 1381.5 1318.2 1382.5 1318.2 1383.5 1317.2 1384.5 1317.0 1385.5 1316.7 1386.5 1316.7 1387.5 1318.3 1388.5 1318.6 1389.5 1317.6 1390.5 1318.1 1391.5 1317.1 1392.5 1317.5 1393.5 1318.1 1394.5 1317.7 1395.5 1317.5 1396.5 1316.5 1397.5 1316.6 1398.5 1317.2 1399.5 1317.2 1400.5 1317.4 1401.5 1317.1 1402.5 1317.3 1403.5 1317.5 1404.5 1317.7 1405.5 1317.5 1406.5 1317.1 1407.5 1317.2 1408.5 1317.9 1409.5 1317.2 1410.5 1316.7 1411.5 1316.7 1412.5 1317.4 1413.5 1317.5 1414.5 1317.9 1415.5 1316.9 1416.5 1317.8 1417.5 1316.8 1418.5 1316.8 1419.5 1316.5 1420.5 1317.0 1421.5 1317.3 1422.5 1316.5 1423.5 1316.1 1424.5 1315.4 1425.5 1316.3 1426.5 1315.8 1427.5 1315.8 1428.5 1315.3 1429.5 1315.0 1430.5 1315.1 1431.5 1315.4 1432.5 1315.4 1433.5 1314.6 1434.5 1314.6 1435.5 1314.0 1436.5 1313.8 1437.5 1312.8 1438.5 1313.8 1439.5 1313.3 1440.5 1313.4 1441.5 1311.9 1442.5 1312.0 1443.5 1311.0 1444.5 1311.3 1445.5 1310.7 1446.5 1310.8 1447.5 1309.9 1448.5 1310.0 1449.5 1309.0 1450.5 1309.3 1451.5 1308.4 1452.5 1308.0 1453.5 1308.0 1454.5 1307.9 1455.5 1306.7 1456.5 1306.4 1457.5 1307.3 1458.5 1307.0 1459.5 1305.8 1460.3 1306.0 1461.5 1306.6 1462.5 1307.4 1463.5 1307.5 1464.5 1308.2 1465.5 1308.5 1466.5 1309.5 1467.5 1307.7 1468.5 1308.9 1469.5 1309.9 1470.5 1309.0 1471.5 1309.3 1472.5 1310.7 1473.5 1311.7 1474.5 1312.2 1475.5 1310.9 1476.5 1311.6 1477.5 1312.7 1478.5 1312.8 1479.5 1313.7 1480.5 1314.0 1481.5 1315.3 1482.5 1314.6 1483.5 1315.0 1484.5 1315.3 1485.5 1316.2 1486.5 1315.2 1487.5 1316.3 1488.5 1315.8 1489.5 1315.7 1490.5 1317.4 1491.5 1317.2 1492.5 1317.9 1493.5 1317.4 1494.5 1317.8 1495.5 1317.6 1496.5 1318.0 1497.5 1317.5 1498.5 1318.8 1499.5 1317.4 1500.5 1319.0 1501.5 1318.0 1502.5 1318.7 1503.5 1318.3 1504.5 1318.6 1505.5 1319.2 1506.5 1318.5 1507.5 1317.9 1508.5 1318.7 1509.5 1319.0 1510.5 1317.2 1511.5 1319.2 1512.5 1319.3 1513.5 1317.7 1514.5 1318.7 1515.5 1319.3 1516.5 1318.1 1517.5 1318.6 1518.5 1318.7 1519.5 1319.2 1520.5 1319.6 1521.5 1318.9 1522.5 1319.0 1523.5 1319.6 1524.5 1319.4 1525.5 1319.0 1526.5 1319.9 1527.5 1318.3 1528.5 1319.2 1529.5 1318.9 1530.5 1318.9 1531.5 1319.3 1532.5 1319.2 1533.5 1320.7 1534.5 1319.6 1535.5 1319.4 1536.5 1320.2 1537.5 1319.9 1538.5 1318.2 1539.5 1319.4 1540.5 1319.7 1541.5 1319.0 1542.5 1319.5 1543.5 1319.1 1544.5 1319.6 1545.5 1318.4 1546.5 1318.2 1547.5 1319.1 1548.5 1319.5 1549.5 1320.2 1550.5 1319.2 1551.5 1319.0 1552.5 1320.0 1553.5 1319.5 1554.5 1320.5 1555.5 1319.4 1556.5 1318.3 1557.5 1319.0 1558.5 1318.9 1559.5 1318.7 1560.5 1319.0 1561.5 1319.1 1562.5 1319.3 1563.5 1319.2 1564.5 1319.8 1565.5 1319.8 1566.5 1319.6 1567.5 1319.7 1568.5 1318.4 1569.5 1318.6 1570.5 1319.1 1571.5 1319.7 1572.5 1318.7 1573.5 1319.3 1574.5 1319.8 1575.5 1320.8 1576.5 1319.8 1577.5 1319.3 1578.5 1320.3 1579.5 1319.8 1580.5 1319.5 1581.5 1320.3 1582.5 1319.1 1583.5 1319.8 1584.5 1319.7 1585.5 1320.2 1586.5 1319.0 1587.5 1318.9 1588.5 1319.5 1589.5 1319.5 1590.5 1319.7 1591.5 1319.5 1592.5 1320.0 1593.5 1320.1 1594.5 1319.9 1595.5 1319.1 1596.5 1320.4 1597.5 1318.8 1598.5 1319.6 1599.5 1320.3 1600.5 1319.4 1601.5 1320.5 1602.5 1320.9 1603.5 1320.7 1604.5 1320.1 1605.5 1320.4 1606.5 1319.5 1607.5 1320.1 1608.5 1320.1 1609.5 1319.9 1610.5 1319.9 1611.5 1319.7 1612.5 1318.7 1613.5 1320.1 1614.5 1320.0 1615.5 1321.1 1616.5 1320.3 1617.5 1319.9 1618.5 1320.4 1619.5 1320.3 1620.5 1319.9 1621.5 1319.7 1622.5 1319.0 1623.5 1320.0 1624.5 1320.9 1625.5 1318.8 1626.5 1319.4 1627.5 1320.4 1628.5 1320.1 1629.5 1320.2 1630.5 1318.9 1631.5 1319.6 1632.5 1320.3 1633.5 1320.3 1634.5 1320.2 1635.5 1319.5 1636.5 1320.3 1637.5 1319.3 1638.5 1319.4 1639.5 1319.3 1640.5 1320.9 1641.5 1319.8 1642.5 1320.1 1643.5 1318.7 1644.5 1320.7 1645.5 1320.3 1646.5 1319.1 1647.5 1319.1 1648.5 1321.1 1649.5 1319.5 1650.5 1321.2 1651.5 1319.8 1652.5 1318.6 1653.5 1320.8 1654.5 1320.4 1655.5 1320.5 1656.5 1319.8 1657.5 1320.0 1658.5 1320.7 1659.5 1319.6 1660.5 1319.0 1661.5 1320.7 1662.5 1319.8 1663.5 1320.9 1664.5 1319.9 1665.5 1319.9 1666.5 1320.0 1667.5 1318.8 1668.5 1320.9 1669.5 1319.8 1670.5 1320.1 1671.5 1321.1 1672.5 1320.3 1673.5 1320.7 1674.5 1320.4 1675.5 1320.7 1676.5 1320.4 1677.5 1320.9 1678.5 1320.1 1679.5 1320.5 1680.5 1319.8 1681.5 1321.0 1682.5 1319.0 1683.5 1320.4 1684.5 1320.5 1685.5 1320.5 1686.5 1320.3 1687.5 1321.1 1688.5 1321.6 1689.5 1319.9 1690.5 1319.2 1691.5 1319.7 1692.5 1319.8 1693.5 1320.2 1694.5 1320.3 1695.5 1321.0 1696.5 1320.1 1697.5 1320.3 1698.5 1320.4 1699.5 1319.8 1700.5 1320.2 1701.5 1322.0 1702.5 1320.3 1703.5 1319.8 1704.5 1319.1 1705.5 1321.0 1706.5 1320.2 1707.5 1320.0 1708.5 1321.9 1709.5 1321.3 1710.5 1319.4 1711.5 1320.2 1712.5 1321.0 1713.5 1320.9 1714.5 1319.8 1715.5 1321.5 1716.5 1321.6 1717.5 1319.8 1718.5 1319.4 1719.5 1319.6 1720.5 1320.9 1721.5 1321.1 1722.5 1320.6 1723.5 1320.1 1724.5 1320.4 1725.5 1320.8 1726.5 1319.8 1727.5 1319.5 1728.5 1320.5 1729.5 1321.3 1730.5 1320.6 1731.5 1320.6 1732.5 1320.1 1733.5 1321.1 1734.5 1319.5 1735.5 1320.5 1736.5 1320.2 1737.5 1320.5 1738.5 1320.0 1739.5 1321.0 1740.5 1320.5 1741.5 1320.2 1742.5 1320.9 1743.5 1320.6 1744.5 1320.3 1745.5 1320.2 1746.5 1321.1 1747.5 1320.0 1748.5 1320.5 1749.5 1320.5 1750.5 1320.8 1751.5 1320.5 1752.5 1321.9 1753.5 1319.6 1754.5 1321.0 1755.5 1320.6 1756.5 1321.3 1757.5 1319.7 1758.5 1321.4 1759.5 1319.8 1760.5 1321.1 1761.5 1321.0 1762.5 1320.7 1763.5 1320.3 1764.5 1320.2 1765.5 1320.8 1766.5 1320.3 1767.5 1319.5 1768.5 1319.6 1769.5 1321.2 1770.5 1321.2 1771.5 1321.1 1772.5 1320.8 1773.5 1321.0 1774.5 1321.1 1775.5 1320.9 1776.5 1320.3 1777.5 1320.3 1778.5 1320.1 1779.5 1320.9 1780.5 1320.2 1781.5 1320.7 1782.5 1321.6 1783.5 1320.6 1784.5 1321.4 1785.5 1321.8 1786.5 1319.7 1787.5 1320.0 1788.5 1321.1 1789.5 1320.4 1790.5 1321.2 1791.5 1321.3 1792.5 1320.6 1793.5 1321.4 1794.5 1321.9 1795.5 1321.5 1796.5 1320.4 1797.5 1320.8 1798.5 1320.6 1799.5 1321.9 1800.5 1320.8 1801.5 1320.5 1802.5 1321.0 1803.5 1321.2 1804.5 1320.7 1805.5 1321.0 1806.5 1321.0 1807.5 1321.4 1808.5 1321.6 1809.5 1321.1 1810.5 1320.7 1811.5 1321.2 1812.5 1320.5 1813.5 1321.6 1814.5 1321.2 1815.5 1321.2 1816.5 1319.6 1817.5 1322.4 1818.5 1321.9 1819.5 1321.8 1820.5 1321.1 1821.5 1321.5 1822.5 1322.8 1823.5 1320.7 1824.5 1321.5 1825.5 1321.4 1826.5 1321.2 1827.5 1321.3 1828.5 1320.5 1829.5 1321.5 1830.5 1320.3 1831.5 1322.2 1832.5 1321.6 1833.5 1320.6 1834.5 1319.9 1835.5 1321.2 1836.5 1321.5 1837.5 1320.6 1838.5 1322.2 1839.5 1321.3 1840.5 1320.9 1841.5 1320.3 1842.5 1321.1 1843.5 1321.1 1844.5 1321.6 1845.5 1321.8 1846.5 1321.2 1847.5 1321.5 1848.5 1322.1 1849.5 1321.6 1850.5 1321.1 1851.5 1321.6 1852.5 1320.9 1853.5 1321.5 1854.5 1321.3 1855.5 1320.6 1856.5 1321.6 1857.5 1321.3 1858.5 1321.7 1859.5 1320.5 1860.5 1322.0 1861.5 1322.0 1862.5 1321.1 1863.5 1321.2 1864.5 1321.3 1865.5 1321.3 1866.5 1321.8 1867.5 1320.9 1868.5 1320.6 1869.5 1321.2 1870.5 1322.5 1871.5 1321.1 1872.5 1320.7 1873.5 1320.8 1874.5 1321.5 1875.5 1322.1 1876.5 1320.9 1877.5 1321.5 1878.5 1321.5 1879.5 1321.7 1880.5 1321.5 1881.5 1322.0 1882.5 1321.8 1883.5 1321.0 1884.5 1322.9 1885.5 1320.6 1886.5 1320.6 1887.5 1322.0 1888.5 1321.5 1889.5 1321.3 1890.5 1321.5 1891.5 1321.8 1892.5 1321.2 1893.5 1321.1 1894.5 1320.8 1895.5 1320.9 1896.5 1321.0 1897.5 1322.2 1898.5 1321.6 1899.5 1321.8 1900.5 1321.1 1901.5 1322.1 1902.5 1320.6 1903.5 1321.8 1904.5 1321.9 1905.5 1321.2 1906.5 1320.9 1907.5 1321.8 1908.5 1321.1 1909.5 1321.0 1910.5 1321.5 1911.5 1320.9 1912.5 1321.5 1913.5 1322.8 1914.5 1321.3 1915.5 1322.1 1916.5 1320.9 1917.5 1321.6 1918.5 1321.4 1919.5 1321.5 1920.5 1322.0 1921.5 1322.9 1922.5 1321.5 1923.5 1322.4 1924.5 1321.8 1925.5 1322.0 1926.5 1321.3 1927.5 1321.2 1928.5 1321.5 1929.5 1321.2 1930.5 1321.6 1931.5 1321.0 1932.5 1321.6 1933.5 1321.8 1934.5 1322.7 1935.5 1322.7 1936.5 1322.0 1937.5 1321.4 1938.5 1322.0 1939.5 1322.2 1940.5 1321.6 1941.5 1321.2 1942.5 1320.6 1943.5 1321.7 1944.5 1322.9 1945.5 1321.6 1946.5 1321.9 1947.5 1321.9 1948.5 1322.0 1949.5 1322.2 1950.5 1320.5 1951.5 1321.7 1952.5 1322.0 1953.5 1321.7 1954.5 1322.5 1955.5 1321.5 1956.5 1322.3 1957.5 1322.8 1958.5 1321.6 1959.5 1321.8 1960.5 1321.6 1961.5 1322.3 1962.5 1320.5 1963.5 1320.9 1964.5 1321.6 1965.5 1322.4 1966.5 1322.2 1967.5 1321.3 1968.5 1322.8 1969.5 1321.9 1970.5 1321.5 1971.5 1322.2 1972.5 1322.7 1973.5 1321.8 1974.5 1321.0 1975.5 1321.6 1976.5 1321.9 1977.5 1322.5 1978.5 1321.3 1979.5 1322.1 1980.5 1321.2 1981.5 1322.0 1982.5 1321.1 1983.5 1321.7 1984.5 1321.0 1985.5 1321.4 1986.5 1321.0 1987.5 1320.8 1988.5 1322.7 1989.5 1322.7 1990.5 1322.3 1991.5 1321.8 1992.5 1322.9 1993.5 1321.8" stroke="#FF3B3B"/>
<path d="M173.5 1633.0L174.5 1633.4 175.5 1630.8 176.5 1632.3 177.5 1632.9 178.5 1633.1 179.5 1632.7 180.5 1633.2 181.5 1632.5 182.5 1632.6 183.5 1632.4 184.5 1631.6 185.5 1631.7 186.5 1632.4 187.5 1631.8 188.5 1632.9 189.5 1632.9 190.5 1633.2 191.5 1632.1 192.5 1632.9 193.5 1631.5 194.5 1631.6 195.5 1632.1 196.5 1632.2 197.5 1631.1 198.5 1631.0 199.5 1632.2 200.5 1631.5 201.5 1632.7 202.5 1632.2 203.5 1632.1 204.5 1632.0 205.5 1632.4 206.5 1631.8 207.5 1632.5 208.5 1631.5 209.5 1631.7 210.5 1631.4 211.5 1632.2 212.5 1631.8 213.5 1631.3 214.5 1633.0 215.5 1631.5 216.5 1631.6 217.5 1631.9 218.5 1632.7 219.5 1631.6 220.5 1632.1 221.5 1631.7 222.5 1630.7 223.5 1632.1 224.5 1632.2 225.5 1631.4 226.5 1631.6 227.5 1630.6 228.5 1630.6 229.5 1631.3 230.5 1631.9 231.5 1631.2 232.5 1631.6 233.5 1632.0 234.5 1631.5 235.5 1631.8 236.5 1632.3 237.5 1630.6 238.5 1631.8 239.5 1630.2 240.5 1631.6 241.5 1631.4 242.5 1631.0 243.5 1630.6 244.5 1631.2 245.5 1631.0 246.5 1631.3 247.5 1630.7 248.5 1631.5 249.5 1630.6 250.5 1631.0 251.5 1630.9 252.5 1631.9 253.5 1630.2 254.5 1630.9 255.5 1631.8 256.5 1630.7 257.5 1630.3 258.5 1631.1 259.5 1630.7 260.5 1631.4 261.5 1630.2 262.5 1630.8 263.5 1631.0 264.5 1631.1 265.5 1629.7 266.5 1631.1 267.5 1629.6 268.5 1629.1 269.5 1629.3 270.5 1629.8 271.5 1629.4 272.5 1629.7 273.5 1629.5 274.5 1629.3 275.5 1628.8 276.5 1629.9 277.5 1627.3 278.5 1627.5 279.5 1628.0 280.5 1627.4 281.5 1626.5 282.5 1627.4 283.5 1627.3 284.5 1626.1 285.5 1627.9 286.5 1628.1 287.5 1627.9 288.5 1626.7 289.5 1627.0 290.5 1626.1 291.5 1626.8 292.5 1626.1 293.5 1626.7 294.5 1626.2 295.5 1626.9 296.5 1626.7 297.5 1626.9 298.5 1625.1 299.5 1624.9 300.5 1626.2 301.5 1625.6 302.5 1626.2 303.5 1626.1 304.5 1625.9 305.5 1626.3 306.5 1626.1 307.5 1626.0 308.5 1625.1 309.5 1626.7 310.5 1625.7 311.5 1626.2 312.5 1625.7 313.5 1626.2 314.5 1625.5 315.5 1625.5 316.5 1625.4 317.5 1624.9 318.5 1624.9 319.5 1625.2 320.5 1625.1 321.5 1624.6 322.5 1626.5 323.5 1624.5 324.5 1624.9 325.5 1626.5 326.5 1624.6 327.5 1625.4 328.5 1625.3 329.5 1624.7 330.5 1623.9 331.5 1623.8 332.5 1624.7 333.5 1624.9 334.5 1623.3 335.5 1624.7 336.5 1624.2 337.5 1625.1 338.5 1624.6 339.5 1624.0 340.5 1624.1 341.5 1624.4 342.5 1625.1 343.5 1626.1 344.5 1624.5 345.5 1624.3 346.5 1624.6 347.5 1624.2 348.5 1624.5 349.5 1624.3 350.5 1624.1 351.5 1623.5 352.5 1624.1 353.5 1624.5 354.5 1623.9 355.5 1624.8 356.5 1624.4 357.5 1623.7 358.5 1624.8 359.5 1623.0 360.5 1624.4 361.5 1624.7 362.5 1623.4 363.5 1623.5 364.5 1624.1 365.5 1624.3 366.5 1623.7 367.5 1623.5 368.5 1623.9 369.5 1623.5 370.5 1622.6 371.5 1623.1 372.5 1623.2 373.5 1622.3 374.5 1623.4 375.5 1622.6 376.5 1623.5 377.5 1622.1 378.5 1622.4 379.5 1622.0 380.5 1623.6 381.5 1623.6 382.5 1623.7 383.5 1623.6 384.5 1623.2 385.5 1623.1 386.5 1621.5 387.5 1622.7 388.5 1622.1 389.5 1622.2 390.5 1621.5 391.5 1623.0 392.5 1622.2 393.5 1621.2 394.5 1622.3 395.5 1621.8 396.5 1621.2 397.5 1621.5 398.5 1621.1 399.5 1620.1 400.5 1620.5 401.5 1621.6 402.5 1621.5 403.5 1621.3 404.5 1620.4 405.5 1620.6 406.5 1620.9 407.5 1621.2 408.5 1620.2 409.5 1620.0 410.5 1621.3 411.5 1620.5 412.5 1620.2 413.5 1619.9 414.5 1619.8 415.5 1621.1 416.5 1620.7 417.5 1619.7 418.5 1619.2 419.5 1620.8 420.5 1620.7 421.5 1620.4 422.5 1620.1 423.5 1618.4 424.5 1618.6 425.5 1619.7 426.5 1619.1 427.5 1619.3 428.5 1618.8 429.5 1618.6 430.5 1619.2 431.5 1618.6 432.5 1618.7 433.5 1618.8 434.5 1618.7 435.5 1619.2 436.5 1619.2 437.5 1617.5 438.5 1618.1 439.5 1617.8 440.5 1618.5 441.5 1617.4 442.5 1618.4 443.5 1618.3 444.5 1618.1 445.5 1617.1 446.5 1617.5 447.5 1616.9 448.5 1617.7 449.5 1617.9 450.5 1616.3 451.5 1616.7 452.5 1617.0 453.5 1616.7 454.5 1617.8 455.5 1616.8 456.5 1616.9 457.5 1616.0 458.5 1617.5 459.5 1616.6 460.5 1616.9 461.5 1616.4 462.5 1615.0 463.5 1615.2 464.5 1615.3 465.5 1616.3 466.5 1615.6 467.5 1616.1 468.5 1615.9 469.5 1615.8 470.5 1616.2 471.5 1615.6 472.5 1614.5 473.5 1615.0 474.5 1616.3 475.5 1614.6 476.5 1615.9 477.5 1616.0 478.5 1614.6 479.5 1615.1 480.5 1614.0 481.5 1615.2 482.5 1614.2 483.5 1613.8 484.5 1614.3 485.5 1614.2 486.5 1614.1 487.5 1614.5 488.5 1614.2 489.5 1613.8 490.5 1614.7 491.5 1615.6 492.5 1614.1 493.5 1613.6 494.5 1613.3 495.5 1614.2 496.5 1613.6 497.5 1613.7 498.5 1612.5 499.5 1612.9 500.5 1612.8 501.5 1614.0 502.5 1613.2 503.5 1611.8 504.5 1613.6 505.5 1613.9 506.5 1614.0 507.5 1611.5 508.5 1613.2 509.5 1613.5 510.5 1613.4 511.5 1612.8 512.5 1611.9 513.5 1612.7 514.5 1612.7 515.5 1613.2 516.5 1613.2 517.5 1612.7 518.5 1613.3 519.5 1612.2 520.5 1612.4 521.5 1612.7 522.5 1613.1 523.5 1612.5 524.5 1613.5 525.5 1612.9 526.5 1612.1 527.5 1612.7 528.5 1612.1 529.5 1612.0 530.5 1611.7 531.5 1613.4 532.5 1613.1 533.5 1611.6 534.5 1613.2 535.5 1613.1 536.5 1612.3 537.5 1612.9 538.5 1614.0 539.5 1612.8 540.5 1612.9 541.5 1613.4 542.5 1612.2 543.5 1612.1 544.5 1612.0 545.5 1612.8 546.5 1613.3 547.5 1612.0 548.5 1611.4 549.5 1611.8 550.5 1611.0 551.5 1611.4 552.5 1611.3 553.5 1612.0 554.5 1612.9 555.5 1613.6 556.5 1613.6 557.5 1613.8 558.5 1615.7 559.5 1616.9 560.5 1615.9 561.5 1614.4 562.5 1615.6 563.5 1616.5 564.5 1615.0 565.5 1615.9 566.5 1616.2 567.5 1616.1 568.5 1616.3 569.5 1617.7 570.5 1617.0 571.5 1617.4 572.5 1618.8 573.5 1617.5 574.5 1617.1 575.5 1618.9 576.5 1620.0 577.5 1619.1 578.5 1619.4 579.5 1618.7 580.5 1619.1 581.5 1620.8 582.5 1620.9 583.5 1620.7 584.5 1620.2 585.5 1620.0 586.5 1620.3 587.5 1620.3 588.5 1621.4 589.5 1620.3 590.5 1619.7 591.5 1618.9 592.5 1616.2 593.5 1612.7 594.5 1610.9 595.5 1611.5 596.5 1613.7 597.5 1618.5 598.5 1621.0 599.5 1622.8 600.5 1624.3 601.5 1624.4 602.5 1626.0 603.5 1625.5 604.5 1626.1 605.5 1626.4 606.5 1626.4 607.5 1627.1 608.5 1627.4 609.5 1627.5 610.5 1626.8 611.5 1626.8 612.5 1627.1 613.5 1627.6 614.5 1626.5 615.5 1627.2 616.5 1627.1 617.5 1627.4 618.5 1627.3 619.5 1628.4 620.5 1628.3 621.5 1628.6 622.5 1627.5 623.5 1627.7 624.5 1628.0 625.5 1629.2 626.5 1629.3 627.5 1628.0 628.5 1628.8 629.5 1629.7 630.5 1627.9 631.5 1628.4 632.5 1629.4 633.5 1629.1 634.5 1628.1 635.5 1629.6 636.5 1629.4 637.5 1629.2 638.5 1628.1 639.5 1628.8 640.5 1629.8 641.5 1629.3 642.5 1629.5 643.5 1628.9 644.5 1630.1 645.5 1629.1 646.5 1629.8 647.5 1629.5 648.5 1628.8 649.5 1630.3 650.5 1628.7 651.5 1629.0 652.5 1629.6 653.5 1628.7 654.5 1628.5 655.5 1629.6 656.5 1629.5 657.5 1629.6 658.5 1630.1 659.5 1631.2 660.5 1629.7 661.5 1631.4 662.5 1630.1 663.5 1630.0 664.5 1628.5 665.5 1629.2 666.5 1630.3 667.5 1630.6 668.5 1629.8 669.5 1630.5 670.5 1630.9 671.5 1630.1 672.5 1629.5 673.5 1629.9 674.5 1630.4 675.5 1630.8 676.5 1631.1 677.5 1630.1 678.5 1630.7 679.5 1630.6 680.5 1630.8 681.5 1631.5 682.5 1631.7 683.5 1630.7 684.5 1630.6 685.5 1630.6 686.5 1630.8 687.5 1630.9 688.5 1631.1 689.5 1630.9 690.5 1630.6 691.5 1630.6 692.5 1631.4 693.5 1632.8 694.5 1631.8 695.5 1631.8 696.5 1631.7 697.5 1631.4 698.5 1632.7 699.5 1631.4 700.5 1631.0 701.5 1630.9 702.5 1631.8 703.5 1631.1 704.5 1631.2 705.5 1631.2 706.5 1630.9 707.5 1631.9 708.5 1630.8 709.5 1633.2 710.5 1630.2 711.5 1631.0 712.5 1631.9 713.5 1632.2 714.5 1631.7 715.5 1632.1 716.5 1632.1 717.5 1632.1 718.5 1632.4 719.5 1632.2 720.5 1632.0 721.5 1632.0 722.5 1632.7 723.5 1632.0 724.5 1632.5 725.5 1633.1 726.5 1632.5 727.5 1633.0 728.5 1632.0 729.5 1632.5 730.5 1632.6 731.5 1632.5 732.5 1632.7 733.5 1633.2 734.5 1632.2 735.5 1632.0 736.5 1632.7 737.5 1631.6 738.5 1632.5 739.5 1633.2 740.5 1632.5 741.5 1632.9 742.5 1632.8 743.5 1633.3 744.5 1632.9 745.5 1632.8 746.5 1630.7 747.5 1632.4 748.5 1633.2 749.5 1632.7 750.5 1632.3 751.5 1633.3 752.5 1632.3 753.5 1632.6 754.5 1633.3 755.5 1632.6 756.5 1633.0 757.5 1632.9 758.5 1632.2 759.5 1632.6 760.5 1632.8 761.5 1632.6 762.5 1633.7 763.5 1633.0 764.5 1632.7 765.5 1632.3 766.5 1632.9 767.5 1633.9 768.5 1633.0 769.5 1633.6 770.5 1633.5 771.5 1632.9 772.5 1632.7 773.5 1633.6 774.5 1632.3 775.5 1633.7 776.5 1632.6 777.5 1633.9 778.5 1633.1 779.5 1633.4 780.5 1634.1 781.5 1632.9 782.5 1633.5 783.5 1633.3 784.5 1633.8 785.5 1634.0 786.5 1633.7 787.5 1633.7 788.5 1633.4 789.5 1634.0 790.5 1633.5 791.5 1633.8 792.5 1633.8 793.5 1632.9 794.5 1633.1 795.5 1633.9 796.5 1633.7 797.5 1634.5 798.5 1632.3 799.5 1633.9 800.5 1634.4 801.5 1633.8 802.5 1634.1 803.5 1633.7 804.5 1633.6 805.5 1634.1 806.5 1632.8 807.5 1632.1 808.5 1633.7 809.5 1633.4 810.5 1633.4 811.5 1633.4 812.5 1633.6 813.5 1632.9 814.5 1633.4 815.5 1633.2 816.5 1632.3 817.5 1632.9 818.5 1633.1 819.5 1632.4 820.5 1633.4 821.5 1632.5 822.5 1633.2 823.5 1633.5 824.5 1631.7 825.5 1631.7 826.5 1632.8 827.5 1632.3 828.5 1632.7 829.5 1633.3 830.5 1631.9 831.5 1632.7 832.5 1632.0 833.5 1631.7 834.5 1632.3 835.5 1632.1 836.5 1632.5 837.5 1632.0 838.5 1632.3 839.5 1632.0 840.5 1630.7 841.5 1631.4 842.5 1631.4 843.5 1632.0 844.5 1630.8 845.5 1631.5 846.5 1631.1 847.5 1630.2 848.5 1631.1 849.5 1631.5 850.5 1630.9 851.5 1631.6 852.5 1631.2 853.5 1631.1 854.5 1630.5 855.5 1630.7 856.5 1631.0 857.5 1630.6 858.5 1629.8 859.5 1630.4 860.5 1630.6 861.5 1631.0 862.5 1630.7 863.5 1629.6 864.5 1630.5 865.5 1629.0 866.5 1629.5 867.5 1629.3 868.5 1630.6 869.5 1630.0 870.5 1629.7 871.5 1629.0 872.5 1630.0 873.5 1629.0 874.5 1629.3 875.5 1629.6 876.5 1628.7 877.5 1629.1 878.5 1627.4 879.5 1628.9 880.5 1627.4 881.5 1628.5 882.5 1628.3 883.5 1628.3 884.5 1629.3 885.5 1626.2 886.5 1627.9 887.5 1627.2 888.5 1627.7 889.5 1627.3 890.5 1627.0 891.5 1626.4 892.5 1626.1 893.5 1626.5 894.5 1625.1 895.5 1626.4 896.5 1625.1 897.5 1625.4 898.5 1624.1 899.5 1624.7 900.5 1623.8 901.5 1623.9 902.5 1623.6 903.5 1621.9 904.5 1621.5 905.5 1620.6 906.5 1620.2 907.5 1617.1 908.5 1616.3 909.5 1613.5 910.5 1609.0 911.5 1603.4 912.5 1592.9 913.5 1576.8 914.5 1548.7 915.5 1511.8 916.5 1463.8 917.5 1416.8 918.5 1384.7 918.9 1382.1 919.5 1389.4 920.5 1424.4 921.5 1472.4 922.5 1519.0 923.5 1555.1 924.5 1579.2 925.5 1594.5 926.5 1603.9 927.5 1608.7 928.5 1612.8 929.5 1615.1 930.5 1615.2 931.5 1617.8 932.5 1618.5 933.5 1619.0 934.5 1619.9 935.5 1620.8 936.5 1621.6 937.5 1621.8 938.5 1621.0 939.5 1622.3 940.5 1620.8 941.5 1622.6 942.5 1622.7 943.5 1623.1 944.5 1622.3 945.5 1623.9 946.5 1624.1 947.5 1623.7 948.5 1623.0 949.5 1624.3 950.5 1623.8 951.5 1623.6 952.5 1624.3 953.5 1626.4 954.5 1624.3 955.5 1625.1 956.5 1625.6 957.5 1626.3 958.5 1625.3 959.5 1625.5 960.5 1626.8 961.5 1626.5 962.5 1627.3 963.5 1626.0 964.5 1626.8 965.5 1627.5 966.5 1627.2 967.5 1626.6 968.5 1627.5 969.5 1626.4 970.5 1627.2 971.5 1628.2 972.5 1628.4 973.5 1628.3 974.5 1628.6 975.5 1627.4 976.5 1628.0 977.5 1629.2 978.5 1630.0 979.5 1629.1 980.5 1628.4 981.5 1628.5 982.5 1629.9 983.5 1629.9 984.5 1628.7 985.5 1629.6 986.5 1630.5 987.5 1630.6 988.5 1629.6 989.5 1629.9 990.5 1630.4 991.5 1629.5 992.5 1629.3 993.5 1630.0 994.5 1631.2 995.5 1631.2 996.5 1630.9 997.5 1629.9 998.5 1629.5 999.5 1630.1 1000.5 1630.8 1001.5 1631.4 1002.5 1630.3 1003.5 1630.9 1004.5 1629.8 1005.5 1629.6 1006.5 1630.9 1007.5 1630.2 1008.5 1630.3 1009.5 1629.6 1010.5 1631.4 1011.5 1629.9 1012.5 1631.0 1013.5 1630.0 1014.5 1630.7 1015.5 1631.7 1016.5 1631.1 1017.5 1631.0 1018.5 1631.4 1019.5 1631.1 1020.5 1631.4 1021.5 1629.4 1022.5 1630.5 1023.5 1628.9 1024.5 1627.1 1025.5 1626.8 1026.5 1625.9 1027.0 1625.4 1027.5 1626.1 1028.5 1625.7 1029.5 1626.8 1030.5 1628.7 1031.5 1630.6 1032.5 1630.8 1033.5 1630.8 1034.5 1630.6 1035.5 1631.1 1036.5 1631.9 1037.5 1630.9 1038.5 1631.0 1039.5 1631.6 1040.5 1631.8 1041.5 1631.5 1042.5 1632.3 1043.5 1631.6 1044.5 1630.9 1045.5 1630.1 1046.5 1632.2 1047.5 1631.4 1048.5 1631.6 1049.5 1631.7 1050.5 1632.2 1051.5 1632.0 1052.5 1632.0 1053.5 1631.5 1054.5 1631.2 1055.5 1631.4 1056.5 1630.7 1057.5 1631.3 1058.5 1631.6 1059.5 1631.3 1060.5 1630.8 1061.5 1630.1 1062.5 1629.8 1063.5 1629.7 1064.5 1629.6 1065.5 1629.7 1066.5 1629.3 1067.5 1628.8 1068.5 1628.3 1069.5 1626.1 1070.5 1625.0 1071.5 1622.9 1072.5 1619.0 1073.5 1611.4 1074.5 1601.2 1075.5 1587.9 1076.5 1569.6 1077.5 1549.9 1078.5 1533.4 1079.4 1527.4 1080.5 1536.2 1081.5 1553.7 1082.5 1573.5 1083.5 1591.2 1084.5 1604.3 1085.5 1614.5 1086.5 1619.6 1087.5 1623.8 1088.5 1626.0 1089.5 1626.3 1090.5 1627.7 1091.5 1628.9 1092.5 1629.9 1093.5 1630.5 1094.5 1631.4 1095.5 1631.0 1096.5 1631.1 1097.5 1631.7 1098.5 1631.0 1099.5 1631.8 1100.5 1631.4 1101.5 1632.2 1102.5 1631.9 1103.5 1632.2 1104.5 1633.7 1105.5 1633.3 1106.5 1634.2 1107.5 1632.9 1108.5 1632.8 1109.5 1632.5 1110.5 1633.0 1111.5 1632.0 1112.5 1633.2 1113.5 1632.8 1114.5 1632.4 1115.5 1632.2 1116.5 1632.8 1117.5 1633.1 1118.5 1633.4 1119.5 1632.4 1120.5 1633.4 1121.5 1633.7 1122.5 1634.8 1123.5 1633.8 1124.5 1634.1 1125.5 1633.2 1126.5 1633.7 1127.5 1633.3 1128.5 1633.2 1129.5 1634.0 1130.5 1633.6 1131.5 1634.7 1132.5 1633.8 1133.5 1634.1 1134.5 1633.2 1135.5 1633.3 1136.5 1634.3 1137.5 1633.6 1138.5 1634.8 1139.5 1633.5 1140.5 1633.5 1141.5 1635.2 1142.5 1633.1 1143.5 1633.8 1144.5 1634.5 1145.5 1634.5 1146.5 1633.5 1147.5 1635.5 1148.5 1634.0 1149.5 1633.1 1150.5 1634.8 1151.5 1634.0 1152.5 1634.4 1153.5 1634.8 1154.5 1633.8 1155.5 1634.0 1156.5 1634.4 1157.5 1634.9 1158.5 1633.7 1159.5 1635.3 1160.5 1634.7 1161.5 1633.9 1162.5 1634.6 1163.5 1634.9 1164.5 1635.3 1165.5 1635.1 1166.5 1635.3 1167.5 1634.6 1168.5 1635.1 1169.5 1633.1 1170.5 1635.3 1171.5 1634.7 1172.5 1635.7 1173.5 1634.4 1174.5 1634.5 1175.5 1634.8 1176.5 1635.3 1177.5 1635.0 1178.5 1635.5 1179.5 1634.9 1180.5 1635.5 1181.5 1636.6 1182.5 1635.7 1183.5 1635.3 1184.5 1634.1 1185.5 1635.3 1186.5 1635.6 1187.5 1634.8 1188.5 1635.6 1189.5 1633.6 1190.5 1634.6 1191.5 1634.4 1192.5 1635.3 1193.5 1634.5 1194.5 1634.4 1195.5 1635.9 1196.5 1634.1 1197.5 1635.3 1198.5 1635.7 1199.5 1634.8 1200.5 1634.5 1201.5 1634.9 1202.5 1634.7 1203.5 1634.5 1204.5 1635.1 1205.5 1635.0 1206.5 1636.9 1207.5 1635.8 1208.5 1635.1 1209.5 1635.3 1210.5 1636.0 1211.5 1635.7 1212.5 1635.0 1213.5 1634.5 1214.5 1636.0 1215.5 1634.9 1216.5 1635.1 1217.5 1635.7 1218.5 1635.0 1219.5 1635.5 1220.5 1634.4 1221.5 1634.4 1222.5 1633.7 1223.5 1634.3 1224.5 1631.3 1225.5 1631.0 1226.5 1630.0 1227.5 1630.3 1228.5 1630.8 1229.5 1632.1 1230.5 1634.2 1231.5 1634.9 1232.5 1634.1 1233.5 1634.0 1234.5 1634.6 1235.5 1635.9 1236.5 1634.9 1237.5 1633.7 1238.5 1635.6 1239.5 1635.0 1240.5 1635.5 1241.5 1635.4 1242.5 1634.3 1243.5 1635.7 1244.5 1635.5 1245.5 1634.8 1246.5 1633.8 1247.5 1634.5 1248.5 1634.5 1249.5 1635.6 1250.5 1634.8 1251.5 1634.9 1252.5 1635.2 1253.5 1635.0 1254.5 1635.5 1255.5 1635.4 1256.5 1635.8 1257.5 1634.5 1258.5 1635.5 1259.5 1635.1 1260.5 1636.5 1261.5 1636.1 1262.5 1635.0 1263.5 1635.9 1264.5 1634.2 1265.5 1634.7 1266.5 1635.1 1267.5 1635.5 1268.5 1634.6 1269.5 1635.3 1270.5 1636.1 1271.5 1634.4 1272.5 1634.5 1273.5 1634.2 1274.5 1636.0 1275.5 1634.7 1276.5 1635.1 1277.5 1634.8 1278.5 1635.3 1279.5 1635.1 1280.5 1635.5 1281.5 1635.5 1282.5 1636.3 1283.5 1634.8 1284.5 1635.5 1285.5 1635.3 1286.5 1634.8 1287.5 1635.9 1288.5 1636.5 1289.5 1634.7 1290.5 1636.9 1291.5 1635.3 1292.5 1635.3 1293.5 1633.8 1294.5 1635.4 1295.5 1635.3 1296.5 1635.3 1297.5 1635.8 1298.5 1635.3 1299.5 1635.6 1300.5 1635.0 1301.5 1634.8 1302.5 1635.5 1303.5 1635.8 1304.5 1635.9 1305.5 1635.5 1306.5 1635.0 1307.5 1635.5 1308.5 1635.3 1309.5 1634.7 1310.5 1635.7 1311.5 1635.4 1312.5 1634.8 1313.5 1635.3 1314.5 1635.8 1315.5 1636.4 1316.5 1634.4 1317.5 1635.3 1318.5 1635.8 1319.5 1636.2 1320.5 1635.7 1321.5 1634.9 1322.5 1635.2 1323.5 1635.5 1324.5 1635.1 1325.5 1634.9 1326.5 1634.8 1327.5 1637.1 1328.5 1635.6 1329.5 1635.4 1330.5 1636.0 1331.5 1635.6 1332.5 1635.5 1333.5 1635.7 1334.5 1635.1 1335.5 1635.3 1336.5 1636.1 1337.5 1636.0 1338.5 1635.0 1339.5 1636.5 1340.5 1635.4 1341.5 1634.7 1342.5 1636.1 1343.5 1636.0 1344.5 1635.8 1345.5 1635.1 1346.5 1636.4 1347.5 1636.0 1348.5 1635.9 1349.5 1635.8 1350.5 1635.9 1351.5 1637.0 1352.5 1635.4 1353.5 1635.9 1354.5 1636.4 1355.5 1636.2 1356.5 1635.2 1357.5 1635.6 1358.5 1635.5 1359.5 1634.9 1360.5 1635.6 1361.5 1636.3 1362.5 1635.9 1363.5 1636.4 1364.5 1636.0 1365.5 1635.3 1366.5 1636.1 1367.5 1634.7 1368.5 1636.5 1369.5 1635.5 1370.5 1636.8 1371.5 1634.9 1372.5 1635.2 1373.5 1635.5 1374.5 1635.6 1375.5 1634.8 1376.5 1635.0 1377.5 1636.1 1378.5 1635.3 1379.5 1636.3 1380.5 1636.8 1381.5 1634.9 1382.5 1635.6 1383.5 1636.8 1384.5 1636.5 1385.5 1635.0 1386.5 1636.0 1387.5 1636.8 1388.5 1634.5 1389.5 1636.0 1390.5 1636.5 1391.5 1635.5 1392.5 1635.5 1393.5 1636.3 1394.5 1634.9 1395.5 1636.2 1396.5 1636.6 1397.5 1635.9 1398.5 1634.9 1399.5 1636.8 1400.5 1635.9 1401.5 1636.2 1402.5 1635.4 1403.5 1635.8 1404.5 1636.6 1405.5 1635.0 1406.5 1635.1 1407.5 1634.6 1408.5 1636.2 1409.5 1636.2 1410.5 1635.4 1411.5 1636.1 1412.5 1635.9 1413.5 1637.1 1414.5 1635.2 1415.5 1636.1 1416.5 1635.7 1417.5 1637.0 1418.5 1636.2 1419.5 1635.2 1420.5 1636.2 1421.5 1635.9 1422.5 1635.4 1423.5 1636.2 1424.5 1636.0 1425.5 1635.3 1426.5 1635.7 1427.5 1636.7 1428.5 1636.6 1429.5 1635.9 1430.5 1635.8 1431.5 1636.1 1432.5 1635.9 1433.5 1635.3 1434.5 1636.4 1435.5 1635.5 1436.5 1636.9 1437.5 1636.4 1438.5 1636.4 1439.5 1635.8 1440.5 1636.1 1441.5 1635.7 1442.5 1635.8 1443.5 1635.4 1444.5 1636.9 1445.5 1635.4 1446.5 1637.1 1447.5 1636.5 1448.5 1635.5 1449.5 1636.9 1450.5 1636.3 1451.5 1635.6 1452.5 1636.2 1453.5 1635.9 1454.5 1635.6 1455.5 1636.1 1456.5 1636.3 1457.5 1635.9 1458.5 1636.1 1459.5 1636.6 1460.5 1636.0 1461.5 1635.9 1462.5 1635.3 1463.5 1636.1 1464.5 1635.8 1465.5 1636.0 1466.5 1636.6 1467.5 1636.7 1468.5 1636.2 1469.5 1635.8 1470.5 1636.2 1471.5 1636.4 1472.5 1636.3 1473.5 1635.3 1474.5 1636.4 1475.5 1635.6 1476.5 1636.4 1477.5 1636.4 1478.5 1636.3 1479.5 1636.9 1480.5 1636.2 1481.5 1636.4 1482.5 1635.7 1483.5 1636.1 1484.5 1636.1 1485.5 1636.2 1486.5 1636.1 1487.5 1634.8 1488.5 1636.7 1489.5 1636.6 1490.5 1635.0 1491.5 1636.4 1492.5 1636.8 1493.5 1636.7 1494.5 1636.7 1495.5 1636.1 1496.5 1635.9 1497.5 1637.4 1498.5 1636.5 1499.5 1637.2 1500.5 1636.2 1501.5 1636.8 1502.5 1636.8 1503.5 1636.8 1504.5 1635.6 1505.5 1637.7 1506.5 1636.5 1507.5 1636.1 1508.5 1636.5 1509.5 1635.2 1510.5 1637.1 1511.5 1636.1 1512.5 1636.5 1513.5 1636.4 1514.5 1635.2 1515.5 1636.1 1516.5 1637.1 1517.5 1635.8 1518.5 1636.5 1519.5 1636.9 1520.5 1637.3 1521.5 1635.8 1522.5 1636.9 1523.5 1636.7 1524.5 1636.6 1525.5 1636.9 1526.5 1636.8 1527.5 1635.7 1528.5 1636.6 1529.5 1636.0 1530.5 1636.5 1531.5 1636.1 1532.5 1637.2 1533.5 1636.9 1534.5 1636.6 1535.5 1635.9 1536.5 1636.6 1537.5 1635.7 1538.5 1635.8 1539.5 1635.3 1540.5 1636.9 1541.5 1636.0 1542.5 1636.9 1543.5 1637.0 1544.5 1636.9 1545.5 1636.1 1546.5 1637.2 1547.5 1637.0 1548.5 1635.6 1549.5 1636.5 1550.5 1635.8 1551.5 1636.3 1552.5 1637.0 1553.5 1636.5 1554.5 1637.3 1555.5 1636.7 1556.5 1636.8 1557.5 1637.3 1558.5 1637.1 1559.5 1636.8 1560.5 1637.1 1561.5 1637.0 1562.5 1635.5 1563.5 1635.7 1564.5 1636.3 1565.5 1636.9 1566.5 1635.8 1567.5 1635.3 1568.5 1636.2 1569.5 1635.9 1570.5 1637.1 1571.5 1634.8 1572.5 1636.7 1573.5 1636.6 1574.5 1634.6 1575.5 1635.5 1576.5 1636.0 1577.5 1636.3 1578.5 1636.1 1579.5 1636.4 1580.5 1636.2 1581.5 1635.5 1582.5 1637.0 1583.5 1636.1 1584.5 1635.4 1585.5 1636.2 1586.5 1635.7 1587.5 1635.5 1588.5 1635.3 1589.5 1634.7 1590.5 1635.0 1591.5 1634.6 1592.5 1634.1 1593.5 1635.4 1594.5 1635.1 1595.5 1634.5 1596.5 1633.6 1597.5 1633.3 1598.5 1633.9 1599.5 1631.2 1600.5 1630.4 1601.5 1627.4 1602.5 1623.9 1603.5 1618.6 1604.5 1613.3 1605.5 1607.4 1606.5 1601.2 1607.5 1598.4 1608.5 1595.5 1609.5 1597.7 1610.5 1602.9 1611.5 1608.3 1612.5 1613.1 1613.5 1619.2 1614.5 1624.2 1615.5 1626.1 1616.5 1631.1 1617.5 1632.1 1618.5 1632.8 1619.5 1633.7 1620.5 1633.0 1621.5 1635.1 1622.5 1635.9 1623.5 1635.1 1624.5 1636.3 1625.5 1635.9 1626.5 1634.8 1627.5 1636.0 1628.5 1634.5 1629.5 1634.7 1630.5 1636.3 1631.5 1636.3 1632.5 1635.9 1633.5 1635.9 1634.5 1635.1 1635.5 1636.7 1636.5 1636.1 1637.5 1636.0 1638.5 1638.3 1639.5 1636.4 1640.5 1636.2 1641.5 1637.5 1642.5 1636.4 1643.5 1636.0 1644.5 1637.2 1645.5 1636.2 1646.5 1635.9 1647.5 1636.1 1648.5 1636.4 1649.5 1636.9 1650.5 1637.2 1651.5 1635.7 1652.5 1637.2 1653.5 1636.0 1654.5 1636.2 1655.5 1634.9 1656.5 1637.4 1657.5 1636.8 1658.5 1636.3 1659.5 1636.4 1660.5 1637.1 1661.5 1636.5 1662.5 1634.7 1663.5 1636.7 1664.5 1636.5 1665.5 1636.6 1666.5 1636.5 1667.5 1637.0 1668.5 1636.1 1669.5 1637.9 1670.5 1636.6 1671.5 1636.1 1672.5 1636.6 1673.5 1635.5 1674.5 1636.4 1675.5 1636.1 1676.5 1635.9 1677.5 1637.0 1678.5 1636.7 1679.5 1636.0 1680.5 1636.2 1681.5 1636.8 1682.5 1637.9 1683.5 1636.5 1684.5 1636.5 1685.5 1636.9 1686.5 1635.8 1687.5 1636.5 1688.5 1637.0 1689.5 1636.8 1690.5 1636.8 1691.5 1635.8 1692.5 1636.6 1693.5 1637.5 1694.5 1638.2 1695.5 1637.2 1696.5 1636.3 1697.5 1636.3 1698.5 1636.5 1699.5 1637.9 1700.5 1635.8 1701.5 1636.5 1702.5 1635.6 1703.5 1636.4 1704.5 1636.4 1705.5 1637.2 1706.5 1637.1 1707.5 1636.8 1708.5 1636.5 1709.5 1636.4 1710.5 1637.6 1711.5 1636.6 1712.5 1636.0 1713.5 1636.2 1714.5 1636.7 1715.5 1636.2 1716.5 1635.7 1717.5 1637.2 1718.5 1636.2 1719.5 1636.6 1720.5 1636.7 1721.5 1636.5 1722.5 1636.5 1723.5 1635.1 1724.5 1636.7 1725.5 1636.5 1726.5 1636.4 1727.5 1636.6 1728.5 1638.0 1729.5 1637.7 1730.5 1637.1 1731.5 1637.6 1732.5 1636.4 1733.5 1636.6 1734.5 1636.9 1735.5 1637.2 1736.5 1637.2 1737.5 1637.8 1738.5 1636.6 1739.5 1637.5 1740.5 1636.3 1741.5 1637.0 1742.5 1636.1 1743.5 1637.4 1744.5 1636.4 1745.5 1637.5 1746.5 1635.5 1747.5 1637.8 1748.5 1636.7 1749.5 1637.0 1750.5 1636.9 1751.5 1635.7 1752.5 1636.3 1753.5 1636.3 1754.5 1636.6 1755.5 1635.7 1756.5 1636.3 1757.5 1636.7 1758.5 1637.4 1759.5 1637.1 1760.5 1636.0 1761.5 1637.2 1762.5 1637.7 1763.5 1637.2 1764.5 1636.5 1765.5 1636.2 1766.5 1636.4 1767.5 1637.7 1768.5 1636.1 1769.5 1635.2 1770.5 1637.3 1771.5 1636.3 1772.5 1636.7 1773.5 1636.5 1774.5 1637.4 1775.5 1636.5 1776.5 1636.3 1777.5 1636.2 1778.5 1637.8 1779.5 1637.6 1780.5 1636.5 1781.5 1636.4 1782.5 1636.7 1783.5 1637.1 1784.5 1636.2 1785.5 1637.7 1786.5 1636.9 1787.5 1635.2 1788.5 1636.1 1789.5 1636.6 1790.5 1638.2 1791.5 1637.7 1792.5 1636.9 1793.5 1636.1 1794.5 1636.7 1795.5 1636.8 1796.5 1636.5 1797.5 1636.8 1798.5 1637.2 1799.5 1636.4 1800.5 1636.0 1801.5 1636.8 1802.5 1635.8 1803.5 1636.4 1804.5 1637.4 1805.5 1636.8 1806.5 1636.0 1807.5 1636.7 1808.5 1636.5 1809.5 1636.7 1810.5 1637.3 1811.5 1636.4 1812.5 1635.9 1813.5 1637.6 1814.5 1636.2 1815.5 1637.0 1816.5 1636.9 1817.5 1636.5 1818.5 1637.0 1819.5 1636.9 1820.5 1636.8 1821.5 1637.2 1822.5 1636.3 1823.5 1637.3 1824.5 1636.2 1825.5 1637.3 1826.5 1637.5 1827.5 1636.2 1828.5 1637.9 1829.5 1636.3 1830.5 1636.7 1831.5 1636.2 1832.5 1636.5 1833.5 1636.8 1834.5 1636.3 1835.5 1637.3 1836.5 1636.2 1837.5 1636.9 1838.5 1636.1 1839.5 1636.1 1840.5 1636.8 1841.5 1636.9 1842.5 1636.5 1843.5 1636.9 1844.5 1637.0 1845.5 1636.3 1846.5 1636.7 1847.5 1636.2 1848.5 1635.9 1849.5 1636.4 1850.5 1636.6 1851.5 1637.4 1852.5 1637.0 1853.5 1636.8 1854.5 1635.4 1855.5 1636.2 1856.5 1637.0 1857.5 1637.1 1858.5 1636.7 1859.5 1636.0 1860.5 1635.6 1861.5 1635.7 1862.5 1636.9 1863.5 1637.0 1864.5 1637.8 1865.5 1636.4 1866.5 1637.0 1867.5 1636.3 1868.5 1636.7 1869.5 1636.8 1870.5 1636.5 1871.5 1637.6 1872.5 1636.1 1873.5 1637.3 1874.5 1636.7 1875.5 1636.5 1876.5 1637.4 1877.5 1636.4 1878.5 1637.0 1879.5 1636.8 1880.5 1637.2 1881.5 1636.1 1882.5 1637.0 1883.5 1637.1 1884.5 1636.4 1885.5 1636.2 1886.5 1636.2 1887.5 1636.8 1888.5 1636.3 1889.5 1637.1 1890.5 1636.7 1891.5 1636.6 1892.5 1636.8 1893.5 1636.8 1894.5 1636.9 1895.5 1637.2 1896.5 1637.5 1897.5 1637.1 1898.5 1637.1 1899.5 1637.7 1900.5 1637.7 1901.5 1636.9 1902.5 1636.2 1903.5 1637.5 1904.5 1636.3 1905.5 1636.4 1906.5 1636.3 1907.5 1636.6 1908.5 1635.4 1909.5 1636.5 1910.5 1637.5 1911.5 1638.3 1912.5 1637.1 1913.5 1637.3 1914.5 1637.3 1915.5 1636.5 1916.5 1636.2 1917.5 1637.0 1918.5 1637.5 1919.5 1636.9 1920.5 1637.0 1921.5 1636.8 1922.5 1636.7 1923.5 1636.5 1924.5 1637.4 1925.5 1637.3 1926.5 1636.7 1927.5 1636.9 1928.5 1637.1 1929.5 1637.4 1930.5 1637.9 1931.5 1637.8 1932.5 1636.7 1933.5 1636.8 1934.5 1636.5 1935.5 1637.1 1936.5 1637.3 1937.5 1635.6 1938.5 1636.6 1939.5 1637.4 1940.5 1635.6 1941.5 1637.3 1942.5 1637.1 1943.5 1636.0 1944.5 1635.6 1945.5 1637.2 1946.5 1635.8 1947.5 1635.1 1948.5 1635.8 1949.5 1634.7 1950.5 1634.6 1951.5 1635.8 1952.5 1633.8 1953.5 1632.9 1954.5 1630.2 1955.5 1628.0 1956.5 1625.4 1957.5 1620.1 1958.5 1614.7 1959.5 1608.7 1960.5 1603.1 1961.5 1599.9 1962.5 1599.4 1963.5 1604.6 1964.5 1608.6 1965.5 1614.6 1966.5 1617.0 1967.5 1620.4 1968.0 1621.7 1968.5 1622.8 1969.5 1626.4 1970.5 1629.2 1971.5 1631.2 1972.5 1632.6 1973.5 1633.5 1974.5 1635.5 1975.5 1635.9 1976.5 1635.2 1977.5 1635.1 1978.5 1635.6 1979.5 1635.7 1980.5 1636.8 1981.5 1635.8 1982.5 1636.6 1983.5 1635.8 1984.5 1636.4 1985.5 1638.1 1986.5 1636.2 1987.5 1636.9 1988.5 1636.4 1989.5 1637.4 1990.5 1636.9 1991.5 1636.8 1992.5 1637.6 1993.5 1637.3" stroke="#4A4A4A"/>
</g>
<g fill="#2272CF" stroke="#0B2A5A" stroke-width="3" stroke-linejoin="miter" stroke-miterlimit="10">
<path d="M795.2 457.0L813.6 486.8L776.8 486.8Z"/>
<path d="M935.0 451.3L953.7 481.6L916.3 481.6Z"/>
<path d="M1122.7 483.0L1140.9 512.5L1104.5 512.5Z"/>
<path d="M1181.7 457.0L1200.1 486.8L1163.3 486.8Z"/>
<path d="M1377.9 460.6L1396.4 490.6L1359.4 490.6Z"/>
<path d="M957.5 544.7L976.4 575.4L938.6 575.4Z"/>
<path d="M1684.1 684.5L1703.1 715.4L1665.1 715.4Z"/>
<path d="M1119.6 1100.0L1138.4 1130.4L1100.8 1130.4Z"/>
<path d="M918.3 1334.7L937.1 1365.1L899.5 1365.1Z"/>
<path d="M725.7 425.6L730.9 439.1L745.3 439.8L734.1 448.9L737.8 462.9L725.7 455.0L713.6 462.9L717.3 448.9L706.1 439.8L720.5 439.1Z"/>
<path d="M1093.7 441.9L1098.9 455.4L1113.3 456.1L1102.1 465.2L1105.8 479.2L1093.7 471.3L1081.6 479.2L1085.3 465.2L1074.1 456.1L1088.5 455.4Z"/>
<path d="M1243.3 457.7L1248.5 471.2L1262.9 471.9L1251.7 481.0L1255.4 495.0L1243.3 487.1L1231.2 495.0L1234.9 481.0L1223.7 471.9L1238.1 471.2Z"/>
<circle cx="527.6" cy="1078.9" r="21.3"/>
<rect x="770.0" y="1245.7" width="31.7" height="33.5"/>
<rect x="973.6" y="1251.2" width="33.5" height="33.5"/>
<rect x="1444.0" y="1255.2" width="33.4" height="32.5"/>
</g>
<g fill="none" stroke="#000" stroke-width="5.5" stroke-linecap="butt">
<path d="M173.5 20V1683.5" />
<path d="M171.0 1681.0H1996.8" />
<path d="M173.5 1681.0V1708.5"/>
<path d="M401.1 1681.0V1708.5"/>
<path d="M628.7 1681.0V1708.5"/>
<path d="M856.3 1681.0V1708.5"/>
<path d="M1083.9 1681.0V1708.5"/>
<path d="M1311.5 1681.0V1708.5"/>
<path d="M1539.1 1681.0V1708.5"/>
<path d="M1766.7 1681.0V1708.5"/>
<path d="M1994.3 1681.0V1708.5"/>
<path d="M287.3 1681.0V1694"/>
<path d="M514.9 1681.0V1694"/>
<path d="M742.5 1681.0V1694"/>
<path d="M970.1 1681.0V1694"/>
<path d="M1197.7 1681.0V1694"/>
<path d="M1425.3 1681.0V1694"/>
<path d="M1652.9 1681.0V1694"/>
<path d="M1880.5 1681.0V1694"/>
</g>
<g font-family="'Liberation Sans', Arial, sans-serif" font-size="65.5" text-anchor="middle" fill="#000">
<text x="172.5" y="1778">10</text>
<text x="400.1" y="1778">20</text>
<text x="627.7" y="1778">30</text>
<text x="855.3" y="1778">40</text>
<text x="1082.9" y="1778">50</text>
<text x="1310.5" y="1778">60</text>
<text x="1538.1" y="1778">70</text>
<text x="1765.7" y="1778">80</text>
<text x="1993.3" y="1778">90</text>
</g>
<text x="928" y="1892" font-family="'Liberation Sans', Arial, sans-serif" font-size="74" fill="#000">angle (2θ)</text>
<text transform="translate(82.5 1105) rotate(-90)" font-family="'Liberation Sans', Arial, sans-serif" font-size="73.4" fill="#000">Intensity (a.u.)</text>
<rect x="1462.8" y="65.3" width="685.5" height="415.8" fill="none" stroke="#0B2550" stroke-width="3.6"/>
<g fill="none" stroke-width="5.5" stroke-linecap="butt">
<path d="M1489 108.7H1615.5" stroke="#DB9A00"/>
<path d="M1489 175.8H1615.5" stroke="#C070DE"/>
<path d="M1489 242.6H1615.5" stroke="#00AD66"/>
<path d="M1489 310.0H1615.5" stroke="#0A6EDA"/>
<path d="M1489 377.2H1615.5" stroke="#FF3B3B"/>
<path d="M1489 444.4H1615.5" stroke="#4A4A4A"/>
</g>
<g font-family="'Liberation Sans', Arial, sans-serif" font-size="51.5" fill="#000">
<text transform="translate(1661.5 128.3) scale(1.021 1)">Ni/ZrO<tspan font-size="37" dy="10.8">2</tspan><tspan font-size="37" dy="-10.8"> </tspan><tspan dx="-3.1">- (fresh)</tspan></text>
<text transform="translate(1661.5 195.8) scale(1.021 1)">Ni/HTL-HC - (fresh)</text>
<text transform="translate(1661.5 260.9) scale(1.021 1)">Ni/HTC-HC - (fresh)</text>
<text transform="translate(1661.5 328.0) scale(1.021 1)">Ni/CNT - (fresh)</text>
<text transform="translate(1661.5 395.3) scale(1.021 1)">Ni/Al<tspan font-size="37" dy="10.8">2</tspan><tspan dy="-10.8">O</tspan><tspan font-size="37" dy="10.8">3</tspan><tspan font-size="37" dy="-10.8"> </tspan><tspan dx="-3.5">- (fresh)</tspan></text>
<text transform="translate(1661.5 461.0) scale(1.021 1)">Ni/AC - (fresh)</text>
</g>
</svg>
</body></html>
